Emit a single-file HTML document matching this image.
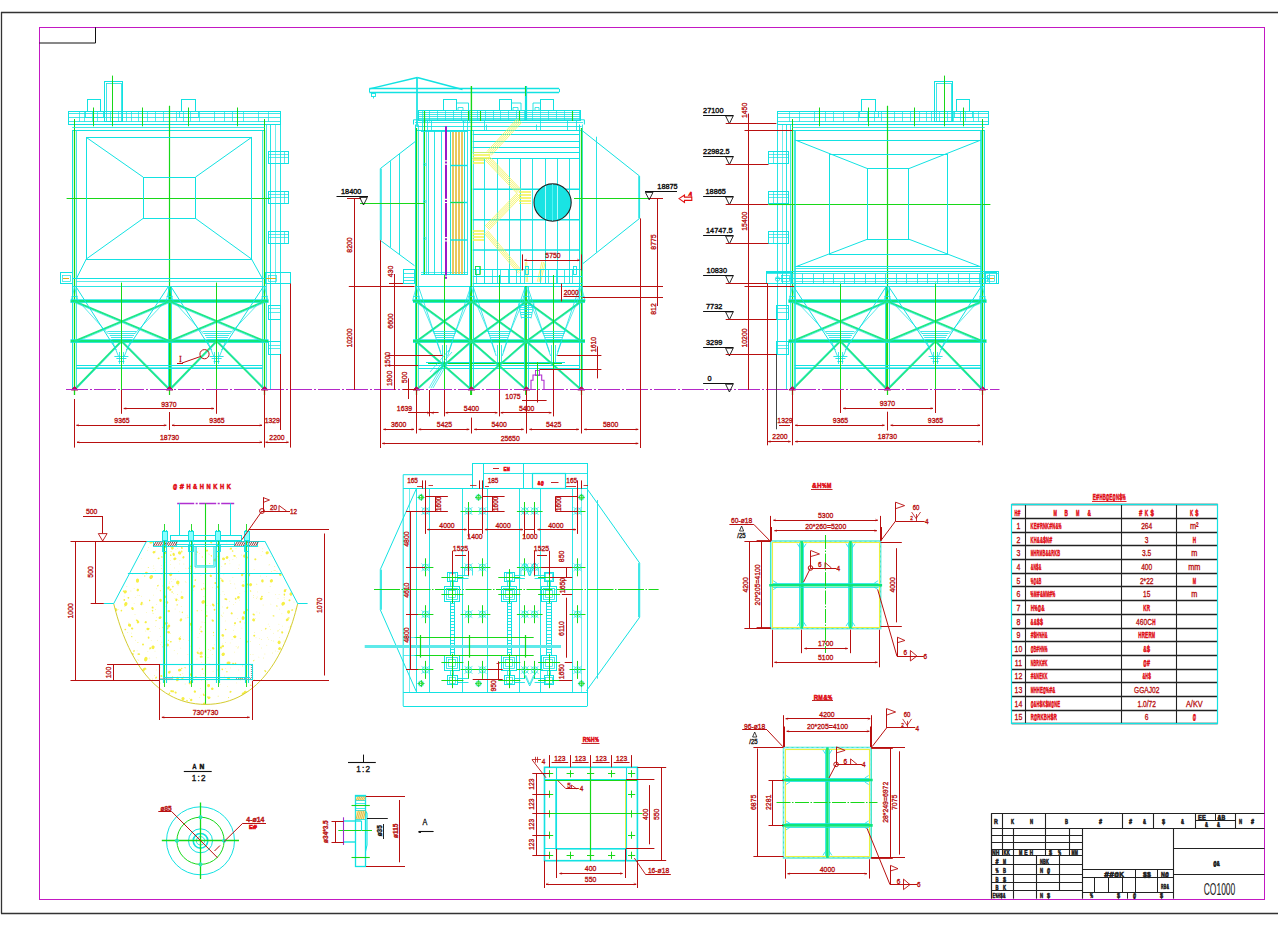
<!DOCTYPE html><html><head><meta charset="utf-8"><title>CO1000</title><style>html,body{margin:0;padding:0;background:#fff;overflow:hidden}svg{display:block;font-family:"Liberation Sans",sans-serif}</style></head><body><svg width="1278" height="933" viewBox="0 0 1278 933"><rect width="1278" height="933" fill="#fff"/>
<line x1="1.0" y1="12.5" x2="1278.0" y2="12.5" stroke="#333" stroke-width="1.3" />
<line x1="1.5" y1="12.0" x2="1.5" y2="913.5" stroke="#333" stroke-width="1.3" />
<line x1="1.0" y1="913.5" x2="1278.0" y2="913.5" stroke="#333" stroke-width="1.3" />
<rect x="39.5" y="27.5" width="1225.0" height="872.0" stroke="#c318c3" stroke-width="1" fill="none" />
<path d="M39.3 43.0 L95.5 43.0 L95.5 27.3" stroke="#111" stroke-width="1" fill="none" />
<rect x="68.5" y="111.5" width="212.0" height="13.0" stroke="#12e2e2" stroke-width="1" fill="none" />
<line x1="68.5" y1="113.5" x2="280.0" y2="113.5" stroke="#12e2e2" stroke-width="0.8" />
<line x1="68.5" y1="117.5" x2="280.0" y2="117.5" stroke="#12e2e2" stroke-width="0.8" />
<line x1="68.5" y1="121.5" x2="280.0" y2="121.5" stroke="#12e2e2" stroke-width="0.8" />
<line x1="79.5" y1="111.7" x2="79.5" y2="121.6" stroke="#12e2e2" stroke-width="0.7" />
<line x1="84.5" y1="111.7" x2="84.5" y2="121.6" stroke="#12e2e2" stroke-width="0.7" />
<line x1="92.5" y1="111.7" x2="92.5" y2="121.6" stroke="#12e2e2" stroke-width="0.7" />
<line x1="97.5" y1="111.7" x2="97.5" y2="121.6" stroke="#12e2e2" stroke-width="0.7" />
<line x1="104.5" y1="111.7" x2="104.5" y2="121.6" stroke="#12e2e2" stroke-width="0.7" />
<line x1="110.5" y1="111.7" x2="110.5" y2="121.6" stroke="#12e2e2" stroke-width="0.7" />
<line x1="118.5" y1="111.7" x2="118.5" y2="121.6" stroke="#12e2e2" stroke-width="0.7" />
<line x1="126.5" y1="111.7" x2="126.5" y2="121.6" stroke="#12e2e2" stroke-width="0.7" />
<line x1="131.5" y1="111.7" x2="131.5" y2="121.6" stroke="#12e2e2" stroke-width="0.7" />
<line x1="138.5" y1="111.7" x2="138.5" y2="121.6" stroke="#12e2e2" stroke-width="0.7" />
<line x1="147.5" y1="111.7" x2="147.5" y2="121.6" stroke="#12e2e2" stroke-width="0.7" />
<line x1="155.5" y1="111.7" x2="155.5" y2="121.6" stroke="#12e2e2" stroke-width="0.7" />
<line x1="163.5" y1="111.7" x2="163.5" y2="121.6" stroke="#12e2e2" stroke-width="0.7" />
<line x1="176.5" y1="111.7" x2="176.5" y2="121.6" stroke="#12e2e2" stroke-width="0.7" />
<line x1="183.5" y1="111.7" x2="183.5" y2="121.6" stroke="#12e2e2" stroke-width="0.7" />
<line x1="190.5" y1="111.7" x2="190.5" y2="121.6" stroke="#12e2e2" stroke-width="0.7" />
<line x1="199.5" y1="111.7" x2="199.5" y2="121.6" stroke="#12e2e2" stroke-width="0.7" />
<line x1="214.5" y1="111.7" x2="214.5" y2="121.6" stroke="#12e2e2" stroke-width="0.7" />
<line x1="224.5" y1="111.7" x2="224.5" y2="121.6" stroke="#12e2e2" stroke-width="0.7" />
<line x1="232.5" y1="111.7" x2="232.5" y2="121.6" stroke="#12e2e2" stroke-width="0.7" />
<line x1="243.5" y1="111.7" x2="243.5" y2="121.6" stroke="#12e2e2" stroke-width="0.7" />
<line x1="258.5" y1="111.7" x2="258.5" y2="121.6" stroke="#12e2e2" stroke-width="0.7" />
<line x1="268.5" y1="111.7" x2="268.5" y2="121.6" stroke="#12e2e2" stroke-width="0.7" />
<rect x="87.5" y="99.5" width="13.0" height="12.0" stroke="#12e2e2" stroke-width="1" fill="none" />
<rect x="181.5" y="99.5" width="14.0" height="12.0" stroke="#12e2e2" stroke-width="1" fill="none" />
<rect x="85.5" y="111.5" width="18.0" height="6.0" stroke="#12e2e2" stroke-width="0.8" fill="none" />
<rect x="179.5" y="111.5" width="19.0" height="6.0" stroke="#12e2e2" stroke-width="0.8" fill="none" />
<rect x="104.5" y="81.5" width="18.0" height="40.0" stroke="#12e2e2" stroke-width="1" fill="none" />
<rect x="106.5" y="83.5" width="15.0" height="38.0" stroke="#12e2e2" stroke-width="0.8" fill="none" />
<line x1="112.5" y1="75.6" x2="112.5" y2="126.3" stroke="#18d818" stroke-width="1" />
<line x1="93.5" y1="107.5" x2="93.5" y2="126.3" stroke="#18d818" stroke-width="1" />
<line x1="142.5" y1="107.5" x2="142.5" y2="126.3" stroke="#18d818" stroke-width="1" />
<line x1="188.5" y1="107.5" x2="188.5" y2="126.3" stroke="#18d818" stroke-width="1" />
<line x1="237.5" y1="107.5" x2="237.5" y2="126.3" stroke="#18d818" stroke-width="1" />
<line x1="74.5" y1="119.0" x2="74.5" y2="130.0" stroke="#18d818" stroke-width="1" />
<line x1="264.5" y1="119.0" x2="264.5" y2="130.0" stroke="#18d818" stroke-width="1" />
<line x1="72.2" y1="130.5" x2="264.7" y2="130.5" stroke="#12e2e2" stroke-width="1" />
<line x1="72.2" y1="127.5" x2="264.7" y2="127.5" stroke="#12e2e2" stroke-width="0.8" />
<line x1="72.5" y1="130.1" x2="72.5" y2="390.0" stroke="#12e2e2" stroke-width="1" />
<line x1="76.5" y1="130.1" x2="76.5" y2="390.0" stroke="#12e2e2" stroke-width="0.8" />
<line x1="262.5" y1="130.1" x2="262.5" y2="390.0" stroke="#12e2e2" stroke-width="0.8" />
<line x1="266.5" y1="124.5" x2="266.5" y2="390.0" stroke="#12e2e2" stroke-width="0.8" />
<line x1="74.5" y1="130.0" x2="74.5" y2="395.0" stroke="#18d818" stroke-width="1.3" />
<line x1="264.5" y1="130.0" x2="264.5" y2="395.0" stroke="#18d818" stroke-width="1.3" />
<line x1="169.5" y1="105.7" x2="169.5" y2="395.0" stroke="#18d818" stroke-width="1.2" />
<line x1="170.0" y1="286.9" x2="170.0" y2="390.0" stroke="#18d818" stroke-width="1.8" />
<line x1="168.5" y1="286.9" x2="168.5" y2="390.0" stroke="#12e2e2" stroke-width="0.9" />
<line x1="171.5" y1="286.9" x2="171.5" y2="390.0" stroke="#12e2e2" stroke-width="0.9" />
<line x1="270.5" y1="124.5" x2="270.5" y2="390.0" stroke="#12e2e2" stroke-width="0.9" />
<line x1="280.5" y1="124.5" x2="280.5" y2="354.0" stroke="#12e2e2" stroke-width="0.9" />
<line x1="275.5" y1="124.5" x2="275.5" y2="283.0" stroke="#12e2e2" stroke-width="0.6" />
<rect x="268.5" y="151.5" width="20.0" height="12.0" stroke="#12e2e2" stroke-width="1" fill="none" />
<line x1="268.5" y1="154.5" x2="288.5" y2="154.5" stroke="#12e2e2" stroke-width="0.7" />
<line x1="268.5" y1="157.5" x2="288.5" y2="157.5" stroke="#12e2e2" stroke-width="0.7" />
<line x1="284.5" y1="151.7" x2="284.5" y2="163.9" stroke="#12e2e2" stroke-width="0.7" />
<rect x="268.5" y="191.5" width="20.0" height="12.0" stroke="#12e2e2" stroke-width="1" fill="none" />
<line x1="268.5" y1="194.5" x2="288.5" y2="194.5" stroke="#12e2e2" stroke-width="0.7" />
<line x1="268.5" y1="197.5" x2="288.5" y2="197.5" stroke="#12e2e2" stroke-width="0.7" />
<line x1="284.5" y1="191.0" x2="284.5" y2="203.3" stroke="#12e2e2" stroke-width="0.7" />
<rect x="268.5" y="231.5" width="20.0" height="12.0" stroke="#12e2e2" stroke-width="1" fill="none" />
<line x1="268.5" y1="234.5" x2="288.5" y2="234.5" stroke="#12e2e2" stroke-width="0.7" />
<line x1="268.5" y1="237.5" x2="288.5" y2="237.5" stroke="#12e2e2" stroke-width="0.7" />
<line x1="284.5" y1="231.0" x2="284.5" y2="243.2" stroke="#12e2e2" stroke-width="0.7" />
<rect x="268.5" y="305.5" width="12.0" height="14.0" stroke="#12e2e2" stroke-width="1" fill="none" />
<line x1="268.5" y1="308.5" x2="280.5" y2="308.5" stroke="#12e2e2" stroke-width="0.7" />
<line x1="268.5" y1="312.5" x2="280.5" y2="312.5" stroke="#12e2e2" stroke-width="0.7" />
<rect x="268.5" y="341.5" width="12.0" height="13.0" stroke="#12e2e2" stroke-width="1" fill="none" />
<line x1="268.5" y1="345.5" x2="280.5" y2="345.5" stroke="#12e2e2" stroke-width="0.7" />
<line x1="268.5" y1="348.5" x2="280.5" y2="348.5" stroke="#12e2e2" stroke-width="0.7" />
<rect x="60.5" y="272.5" width="12.0" height="11.0" stroke="#12e2e2" stroke-width="1" fill="none" />
<rect x="62.5" y="275.5" width="8.0" height="6.0" stroke="#12e2e2" stroke-width="0.7" fill="none" />
<line x1="63.0" y1="278.5" x2="69.0" y2="278.5" stroke="#e0a000" stroke-width="0.9" />
<rect x="265.5" y="272.5" width="25.0" height="11.0" stroke="#12e2e2" stroke-width="1" fill="none" />
<rect x="268.5" y="275.5" width="8.0" height="6.0" stroke="#12e2e2" stroke-width="0.7" fill="none" />
<line x1="264.0" y1="278.5" x2="276.0" y2="278.5" stroke="#e0a000" stroke-width="0.9" />
<line x1="66.6" y1="198.5" x2="270.3" y2="198.5" stroke="#18d818" stroke-width="1.2" />
<line x1="72.2" y1="278.5" x2="266.0" y2="278.5" stroke="#12e2e2" stroke-width="1" />
<line x1="72.2" y1="286.5" x2="266.0" y2="286.5" stroke="#12e2e2" stroke-width="0.9" />
<line x1="76.0" y1="281.5" x2="262.0" y2="281.5" stroke="#12e2e2" stroke-width="0.7" />
<line x1="70.5" y1="301.3" x2="268.5" y2="301.3" stroke="#0de67a" stroke-width="2.6" />
<line x1="70.5" y1="299.5" x2="268.5" y2="299.5" stroke="#12e2e2" stroke-width="0.7" />
<line x1="70.5" y1="302.5" x2="268.5" y2="302.5" stroke="#12e2e2" stroke-width="0.7" />
<line x1="70.5" y1="341.2" x2="268.5" y2="341.2" stroke="#0de67a" stroke-width="2.6" />
<line x1="70.5" y1="339.5" x2="268.5" y2="339.5" stroke="#12e2e2" stroke-width="0.7" />
<line x1="70.5" y1="342.5" x2="268.5" y2="342.5" stroke="#12e2e2" stroke-width="0.7" />
<line x1="76.0" y1="365.5" x2="262.5" y2="365.5" stroke="#12e2e2" stroke-width="1" />
<line x1="76.0" y1="368.5" x2="262.5" y2="368.5" stroke="#12e2e2" stroke-width="1" />
<line x1="76.0" y1="367.5" x2="262.5" y2="367.5" stroke="#12e2e2" stroke-width="0.6" />
<line x1="74.6" y1="301.3" x2="169.6" y2="341.2" stroke="#1fe884" stroke-width="1.8" />
<line x1="74.6" y1="302.6" x2="169.6" y2="342.5" stroke="#12e2e2" stroke-width="0.6" />
<line x1="74.6" y1="341.2" x2="169.6" y2="301.3" stroke="#1fe884" stroke-width="1.8" />
<line x1="74.6" y1="342.5" x2="169.6" y2="302.6" stroke="#12e2e2" stroke-width="0.6" />
<line x1="169.6" y1="301.3" x2="264.7" y2="341.2" stroke="#1fe884" stroke-width="1.8" />
<line x1="169.6" y1="302.6" x2="264.7" y2="342.5" stroke="#12e2e2" stroke-width="0.6" />
<line x1="169.6" y1="341.2" x2="264.7" y2="301.3" stroke="#1fe884" stroke-width="1.8" />
<line x1="169.6" y1="342.5" x2="264.7" y2="302.6" stroke="#12e2e2" stroke-width="0.6" />
<line x1="121.4" y1="341.2" x2="74.6" y2="389.5" stroke="#1fe884" stroke-width="1.8" />
<line x1="122.7" y1="341.2" x2="75.9" y2="389.5" stroke="#12e2e2" stroke-width="0.6" />
<line x1="121.4" y1="341.2" x2="169.4" y2="389.5" stroke="#1fe884" stroke-width="1.8" />
<line x1="122.7" y1="341.2" x2="170.7" y2="389.5" stroke="#12e2e2" stroke-width="0.6" />
<line x1="216.6" y1="341.2" x2="169.8" y2="389.5" stroke="#1fe884" stroke-width="1.8" />
<line x1="217.9" y1="341.2" x2="171.1" y2="389.5" stroke="#12e2e2" stroke-width="0.6" />
<line x1="216.6" y1="341.2" x2="264.6" y2="389.5" stroke="#1fe884" stroke-width="1.8" />
<line x1="217.9" y1="341.2" x2="265.9" y2="389.5" stroke="#12e2e2" stroke-width="0.6" />
<line x1="76.1" y1="286.9" x2="116.4" y2="350.0" stroke="#12e2e2" stroke-width="1" />
<line x1="168.1" y1="286.9" x2="126.4" y2="350.0" stroke="#12e2e2" stroke-width="1" />
<line x1="78.6" y1="301.3" x2="108.4" y2="334.0" stroke="#12e2e2" stroke-width="0.7" />
<line x1="165.6" y1="301.3" x2="134.4" y2="334.0" stroke="#12e2e2" stroke-width="0.7" />
<line x1="107.4" y1="331.5" x2="136.4" y2="331.5" stroke="#12e2e2" stroke-width="0.8" />
<line x1="108.6" y1="333.5" x2="135.2" y2="333.5" stroke="#12e2e2" stroke-width="0.8" />
<line x1="109.8" y1="335.5" x2="134.0" y2="335.5" stroke="#12e2e2" stroke-width="0.8" />
<line x1="111.0" y1="337.5" x2="132.8" y2="337.5" stroke="#12e2e2" stroke-width="0.8" />
<line x1="112.2" y1="339.5" x2="131.6" y2="339.5" stroke="#12e2e2" stroke-width="0.8" />
<line x1="112.4" y1="341.2" x2="118.4" y2="356.0" stroke="#12e2e2" stroke-width="0.8" />
<line x1="130.4" y1="341.2" x2="124.4" y2="356.0" stroke="#12e2e2" stroke-width="0.8" />
<line x1="114.4" y1="356.5" x2="128.4" y2="356.5" stroke="#12e2e2" stroke-width="0.9" />
<line x1="116.4" y1="358.5" x2="126.4" y2="358.5" stroke="#12e2e2" stroke-width="0.9" />
<line x1="118.4" y1="361.5" x2="124.4" y2="361.5" stroke="#12e2e2" stroke-width="0.9" />
<line x1="119.5" y1="352.0" x2="119.5" y2="364.0" stroke="#12e2e2" stroke-width="0.8" />
<line x1="123.5" y1="352.0" x2="123.5" y2="364.0" stroke="#12e2e2" stroke-width="0.8" />
<line x1="171.1" y1="286.9" x2="211.6" y2="350.0" stroke="#12e2e2" stroke-width="1" />
<line x1="263.2" y1="286.9" x2="221.6" y2="350.0" stroke="#12e2e2" stroke-width="1" />
<line x1="173.6" y1="301.3" x2="203.6" y2="334.0" stroke="#12e2e2" stroke-width="0.7" />
<line x1="260.7" y1="301.3" x2="229.6" y2="334.0" stroke="#12e2e2" stroke-width="0.7" />
<line x1="202.6" y1="331.5" x2="231.6" y2="331.5" stroke="#12e2e2" stroke-width="0.8" />
<line x1="203.8" y1="333.5" x2="230.4" y2="333.5" stroke="#12e2e2" stroke-width="0.8" />
<line x1="205.0" y1="335.5" x2="229.2" y2="335.5" stroke="#12e2e2" stroke-width="0.8" />
<line x1="206.2" y1="337.5" x2="228.0" y2="337.5" stroke="#12e2e2" stroke-width="0.8" />
<line x1="207.4" y1="339.5" x2="226.8" y2="339.5" stroke="#12e2e2" stroke-width="0.8" />
<line x1="207.6" y1="341.2" x2="213.6" y2="356.0" stroke="#12e2e2" stroke-width="0.8" />
<line x1="225.6" y1="341.2" x2="219.6" y2="356.0" stroke="#12e2e2" stroke-width="0.8" />
<line x1="209.6" y1="356.5" x2="223.6" y2="356.5" stroke="#12e2e2" stroke-width="0.9" />
<line x1="211.6" y1="358.5" x2="221.6" y2="358.5" stroke="#12e2e2" stroke-width="0.9" />
<line x1="213.6" y1="361.5" x2="219.6" y2="361.5" stroke="#12e2e2" stroke-width="0.9" />
<line x1="214.5" y1="352.0" x2="214.5" y2="364.0" stroke="#12e2e2" stroke-width="0.8" />
<line x1="218.5" y1="352.0" x2="218.5" y2="364.0" stroke="#12e2e2" stroke-width="0.8" />
<line x1="74.6" y1="286.9" x2="71.1" y2="301.3" stroke="#12e2e2" stroke-width="0.7" />
<line x1="74.6" y1="286.9" x2="78.1" y2="301.3" stroke="#12e2e2" stroke-width="0.7" />
<line x1="71.6" y1="296.5" x2="77.6" y2="296.5" stroke="#12e2e2" stroke-width="0.8" />
<line x1="169.6" y1="286.9" x2="166.1" y2="301.3" stroke="#12e2e2" stroke-width="0.7" />
<line x1="169.6" y1="286.9" x2="173.1" y2="301.3" stroke="#12e2e2" stroke-width="0.7" />
<line x1="166.6" y1="296.5" x2="172.6" y2="296.5" stroke="#12e2e2" stroke-width="0.8" />
<line x1="264.7" y1="286.9" x2="261.2" y2="301.3" stroke="#12e2e2" stroke-width="0.7" />
<line x1="264.7" y1="286.9" x2="268.2" y2="301.3" stroke="#12e2e2" stroke-width="0.7" />
<line x1="261.7" y1="296.5" x2="267.7" y2="296.5" stroke="#12e2e2" stroke-width="0.8" />
<line x1="121.5" y1="282.6" x2="121.5" y2="390.0" stroke="#18d818" stroke-width="1" />
<line x1="216.5" y1="282.6" x2="216.5" y2="390.0" stroke="#18d818" stroke-width="1" />
<path d="M71.2 390.0 L74.6 386.6 L78.0 390.0 Z" stroke="#b0105a" stroke-width="1" fill="#c01060" />
<path d="M166.2 390.0 L169.6 386.6 L173.0 390.0 Z" stroke="#b0105a" stroke-width="1" fill="#c01060" />
<path d="M261.3 390.0 L264.7 386.6 L268.1 390.0 Z" stroke="#b0105a" stroke-width="1" fill="#c01060" />
<rect x="86.5" y="137.5" width="165.0" height="122.0" stroke="#12e2e2" stroke-width="1" fill="none" />
<rect x="143.5" y="177.5" width="52.0" height="41.0" stroke="#12e2e2" stroke-width="1" fill="none" />
<line x1="86.3" y1="137.4" x2="143.0" y2="177.0" stroke="#12e2e2" stroke-width="1" />
<line x1="251.5" y1="137.4" x2="195.6" y2="177.0" stroke="#12e2e2" stroke-width="1" />
<line x1="86.3" y1="259.0" x2="143.0" y2="218.5" stroke="#12e2e2" stroke-width="1" />
<line x1="251.5" y1="259.0" x2="195.6" y2="218.5" stroke="#12e2e2" stroke-width="1" />
<line x1="86.3" y1="259.0" x2="76.3" y2="278.8" stroke="#12e2e2" stroke-width="1" />
<line x1="251.5" y1="259.0" x2="262.5" y2="278.8" stroke="#12e2e2" stroke-width="1" />
<circle cx="204.5" cy="354.2" r="4.6" stroke="#b80f0f" stroke-width="1" fill="none"/>
<line x1="200.5" y1="356.5" x2="182.0" y2="363.0" stroke="#b80f0f" stroke-width="1" />
<line x1="177.0" y1="363.5" x2="183.0" y2="363.5" stroke="#b80f0f" stroke-width="1" />
<text transform="translate(180.5 361.5) rotate(0) scale(0.8 1)" fill="#b80f0f" stroke="#b80f0f" stroke-width="0.34" font-size="9" text-anchor="middle" font-family="Liberation Serif">I</text>
<rect x="777.5" y="111.5" width="211.0" height="13.0" stroke="#12e2e2" stroke-width="1" fill="none" />
<line x1="988.5" y1="113.5" x2="777.0" y2="113.5" stroke="#12e2e2" stroke-width="0.8" />
<line x1="988.5" y1="117.5" x2="777.0" y2="117.5" stroke="#12e2e2" stroke-width="0.8" />
<line x1="988.5" y1="121.5" x2="777.0" y2="121.5" stroke="#12e2e2" stroke-width="0.8" />
<line x1="978.5" y1="111.7" x2="978.5" y2="121.6" stroke="#12e2e2" stroke-width="0.7" />
<line x1="973.5" y1="111.7" x2="973.5" y2="121.6" stroke="#12e2e2" stroke-width="0.7" />
<line x1="965.5" y1="111.7" x2="965.5" y2="121.6" stroke="#12e2e2" stroke-width="0.7" />
<line x1="960.5" y1="111.7" x2="960.5" y2="121.6" stroke="#12e2e2" stroke-width="0.7" />
<line x1="953.5" y1="111.7" x2="953.5" y2="121.6" stroke="#12e2e2" stroke-width="0.7" />
<line x1="947.5" y1="111.7" x2="947.5" y2="121.6" stroke="#12e2e2" stroke-width="0.7" />
<line x1="939.5" y1="111.7" x2="939.5" y2="121.6" stroke="#12e2e2" stroke-width="0.7" />
<line x1="931.5" y1="111.7" x2="931.5" y2="121.6" stroke="#12e2e2" stroke-width="0.7" />
<line x1="926.5" y1="111.7" x2="926.5" y2="121.6" stroke="#12e2e2" stroke-width="0.7" />
<line x1="919.5" y1="111.7" x2="919.5" y2="121.6" stroke="#12e2e2" stroke-width="0.7" />
<line x1="910.5" y1="111.7" x2="910.5" y2="121.6" stroke="#12e2e2" stroke-width="0.7" />
<line x1="902.5" y1="111.7" x2="902.5" y2="121.6" stroke="#12e2e2" stroke-width="0.7" />
<line x1="894.5" y1="111.7" x2="894.5" y2="121.6" stroke="#12e2e2" stroke-width="0.7" />
<line x1="881.5" y1="111.7" x2="881.5" y2="121.6" stroke="#12e2e2" stroke-width="0.7" />
<line x1="874.5" y1="111.7" x2="874.5" y2="121.6" stroke="#12e2e2" stroke-width="0.7" />
<line x1="867.5" y1="111.7" x2="867.5" y2="121.6" stroke="#12e2e2" stroke-width="0.7" />
<line x1="858.5" y1="111.7" x2="858.5" y2="121.6" stroke="#12e2e2" stroke-width="0.7" />
<line x1="843.5" y1="111.7" x2="843.5" y2="121.6" stroke="#12e2e2" stroke-width="0.7" />
<line x1="833.5" y1="111.7" x2="833.5" y2="121.6" stroke="#12e2e2" stroke-width="0.7" />
<line x1="825.5" y1="111.7" x2="825.5" y2="121.6" stroke="#12e2e2" stroke-width="0.7" />
<line x1="814.5" y1="111.7" x2="814.5" y2="121.6" stroke="#12e2e2" stroke-width="0.7" />
<line x1="799.5" y1="111.7" x2="799.5" y2="121.6" stroke="#12e2e2" stroke-width="0.7" />
<line x1="789.5" y1="111.7" x2="789.5" y2="121.6" stroke="#12e2e2" stroke-width="0.7" />
<rect x="956.5" y="99.5" width="13.0" height="12.0" stroke="#12e2e2" stroke-width="1" fill="none" />
<rect x="861.5" y="99.5" width="14.0" height="12.0" stroke="#12e2e2" stroke-width="1" fill="none" />
<rect x="954.5" y="111.5" width="18.0" height="6.0" stroke="#12e2e2" stroke-width="0.8" fill="none" />
<rect x="859.5" y="111.5" width="19.0" height="6.0" stroke="#12e2e2" stroke-width="0.8" fill="none" />
<rect x="934.5" y="81.5" width="18.0" height="40.0" stroke="#12e2e2" stroke-width="1" fill="none" />
<rect x="936.5" y="83.5" width="15.0" height="38.0" stroke="#12e2e2" stroke-width="0.8" fill="none" />
<line x1="944.5" y1="75.6" x2="944.5" y2="126.3" stroke="#18d818" stroke-width="1" />
<line x1="963.5" y1="107.5" x2="963.5" y2="126.3" stroke="#18d818" stroke-width="1" />
<line x1="914.5" y1="107.5" x2="914.5" y2="126.3" stroke="#18d818" stroke-width="1" />
<line x1="868.5" y1="107.5" x2="868.5" y2="126.3" stroke="#18d818" stroke-width="1" />
<line x1="819.5" y1="107.5" x2="819.5" y2="126.3" stroke="#18d818" stroke-width="1" />
<line x1="982.5" y1="119.0" x2="982.5" y2="130.0" stroke="#18d818" stroke-width="1" />
<line x1="792.5" y1="119.0" x2="792.5" y2="130.0" stroke="#18d818" stroke-width="1" />
<line x1="984.8" y1="130.5" x2="792.3" y2="130.5" stroke="#12e2e2" stroke-width="1" />
<line x1="984.8" y1="127.5" x2="792.3" y2="127.5" stroke="#12e2e2" stroke-width="0.8" />
<line x1="984.5" y1="130.1" x2="984.5" y2="390.0" stroke="#12e2e2" stroke-width="1" />
<line x1="980.5" y1="130.1" x2="980.5" y2="390.0" stroke="#12e2e2" stroke-width="0.8" />
<line x1="794.5" y1="130.1" x2="794.5" y2="390.0" stroke="#12e2e2" stroke-width="0.8" />
<line x1="790.5" y1="124.5" x2="790.5" y2="390.0" stroke="#12e2e2" stroke-width="0.8" />
<line x1="982.5" y1="130.0" x2="982.5" y2="395.0" stroke="#18d818" stroke-width="1.3" />
<line x1="792.5" y1="130.0" x2="792.5" y2="395.0" stroke="#18d818" stroke-width="1.3" />
<line x1="887.5" y1="105.7" x2="887.5" y2="395.0" stroke="#18d818" stroke-width="1.2" />
<line x1="887.0" y1="286.9" x2="887.0" y2="390.0" stroke="#18d818" stroke-width="1.8" />
<line x1="889.5" y1="286.9" x2="889.5" y2="390.0" stroke="#12e2e2" stroke-width="0.9" />
<line x1="885.5" y1="286.9" x2="885.5" y2="390.0" stroke="#12e2e2" stroke-width="0.9" />
<line x1="786.5" y1="124.5" x2="786.5" y2="390.0" stroke="#12e2e2" stroke-width="0.9" />
<line x1="777.5" y1="124.5" x2="777.5" y2="354.0" stroke="#12e2e2" stroke-width="0.9" />
<line x1="782.5" y1="124.5" x2="782.5" y2="283.0" stroke="#12e2e2" stroke-width="0.6" />
<rect x="768.5" y="151.5" width="20.0" height="12.0" stroke="#12e2e2" stroke-width="1" fill="none" />
<line x1="788.5" y1="154.5" x2="768.5" y2="154.5" stroke="#12e2e2" stroke-width="0.7" />
<line x1="788.5" y1="157.5" x2="768.5" y2="157.5" stroke="#12e2e2" stroke-width="0.7" />
<line x1="773.5" y1="151.7" x2="773.5" y2="163.9" stroke="#12e2e2" stroke-width="0.7" />
<rect x="768.5" y="191.5" width="20.0" height="12.0" stroke="#12e2e2" stroke-width="1" fill="none" />
<line x1="788.5" y1="194.5" x2="768.5" y2="194.5" stroke="#12e2e2" stroke-width="0.7" />
<line x1="788.5" y1="197.5" x2="768.5" y2="197.5" stroke="#12e2e2" stroke-width="0.7" />
<line x1="773.5" y1="191.0" x2="773.5" y2="203.3" stroke="#12e2e2" stroke-width="0.7" />
<rect x="768.5" y="231.5" width="20.0" height="12.0" stroke="#12e2e2" stroke-width="1" fill="none" />
<line x1="788.5" y1="234.5" x2="768.5" y2="234.5" stroke="#12e2e2" stroke-width="0.7" />
<line x1="788.5" y1="237.5" x2="768.5" y2="237.5" stroke="#12e2e2" stroke-width="0.7" />
<line x1="773.5" y1="231.0" x2="773.5" y2="243.2" stroke="#12e2e2" stroke-width="0.7" />
<rect x="776.5" y="305.5" width="12.0" height="14.0" stroke="#12e2e2" stroke-width="1" fill="none" />
<line x1="788.5" y1="308.5" x2="776.5" y2="308.5" stroke="#12e2e2" stroke-width="0.7" />
<line x1="788.5" y1="312.5" x2="776.5" y2="312.5" stroke="#12e2e2" stroke-width="0.7" />
<rect x="776.5" y="341.5" width="12.0" height="13.0" stroke="#12e2e2" stroke-width="1" fill="none" />
<line x1="788.5" y1="345.5" x2="776.5" y2="345.5" stroke="#12e2e2" stroke-width="0.7" />
<line x1="788.5" y1="348.5" x2="776.5" y2="348.5" stroke="#12e2e2" stroke-width="0.7" />
<rect x="985.5" y="272.5" width="11.0" height="11.0" stroke="#12e2e2" stroke-width="1" fill="none" />
<rect x="987.5" y="275.5" width="7.0" height="6.0" stroke="#12e2e2" stroke-width="0.7" fill="none" />
<line x1="994.0" y1="278.5" x2="988.0" y2="278.5" stroke="#e0a000" stroke-width="0.9" />
<rect x="766.5" y="272.5" width="25.0" height="11.0" stroke="#12e2e2" stroke-width="1" fill="none" />
<rect x="781.5" y="275.5" width="8.0" height="6.0" stroke="#12e2e2" stroke-width="0.7" fill="none" />
<line x1="793.0" y1="278.5" x2="781.0" y2="278.5" stroke="#e0a000" stroke-width="0.9" />
<line x1="990.4" y1="204.5" x2="786.7" y2="204.5" stroke="#18d818" stroke-width="1.2" />
<line x1="984.8" y1="278.5" x2="791.0" y2="278.5" stroke="#12e2e2" stroke-width="1" />
<line x1="984.8" y1="286.5" x2="791.0" y2="286.5" stroke="#12e2e2" stroke-width="0.9" />
<line x1="981.0" y1="281.5" x2="795.0" y2="281.5" stroke="#12e2e2" stroke-width="0.7" />
<line x1="986.5" y1="301.3" x2="788.5" y2="301.3" stroke="#0de67a" stroke-width="2.6" />
<line x1="986.5" y1="299.5" x2="788.5" y2="299.5" stroke="#12e2e2" stroke-width="0.7" />
<line x1="986.5" y1="302.5" x2="788.5" y2="302.5" stroke="#12e2e2" stroke-width="0.7" />
<line x1="986.5" y1="341.2" x2="788.5" y2="341.2" stroke="#0de67a" stroke-width="2.6" />
<line x1="986.5" y1="339.5" x2="788.5" y2="339.5" stroke="#12e2e2" stroke-width="0.7" />
<line x1="986.5" y1="342.5" x2="788.5" y2="342.5" stroke="#12e2e2" stroke-width="0.7" />
<line x1="981.0" y1="365.5" x2="794.5" y2="365.5" stroke="#12e2e2" stroke-width="1" />
<line x1="981.0" y1="368.5" x2="794.5" y2="368.5" stroke="#12e2e2" stroke-width="1" />
<line x1="981.0" y1="367.5" x2="794.5" y2="367.5" stroke="#12e2e2" stroke-width="0.6" />
<line x1="982.4" y1="301.3" x2="887.4" y2="341.2" stroke="#1fe884" stroke-width="1.8" />
<line x1="982.4" y1="302.6" x2="887.4" y2="342.5" stroke="#12e2e2" stroke-width="0.6" />
<line x1="982.4" y1="341.2" x2="887.4" y2="301.3" stroke="#1fe884" stroke-width="1.8" />
<line x1="982.4" y1="342.5" x2="887.4" y2="302.6" stroke="#12e2e2" stroke-width="0.6" />
<line x1="887.4" y1="301.3" x2="792.3" y2="341.2" stroke="#1fe884" stroke-width="1.8" />
<line x1="887.4" y1="302.6" x2="792.3" y2="342.5" stroke="#12e2e2" stroke-width="0.6" />
<line x1="887.4" y1="341.2" x2="792.3" y2="301.3" stroke="#1fe884" stroke-width="1.8" />
<line x1="887.4" y1="342.5" x2="792.3" y2="302.6" stroke="#12e2e2" stroke-width="0.6" />
<line x1="935.6" y1="341.2" x2="982.4" y2="389.5" stroke="#1fe884" stroke-width="1.8" />
<line x1="934.3" y1="341.2" x2="981.1" y2="389.5" stroke="#12e2e2" stroke-width="0.6" />
<line x1="935.6" y1="341.2" x2="887.6" y2="389.5" stroke="#1fe884" stroke-width="1.8" />
<line x1="934.3" y1="341.2" x2="886.3" y2="389.5" stroke="#12e2e2" stroke-width="0.6" />
<line x1="840.4" y1="341.2" x2="887.2" y2="389.5" stroke="#1fe884" stroke-width="1.8" />
<line x1="839.1" y1="341.2" x2="885.9" y2="389.5" stroke="#12e2e2" stroke-width="0.6" />
<line x1="840.4" y1="341.2" x2="792.4" y2="389.5" stroke="#1fe884" stroke-width="1.8" />
<line x1="839.1" y1="341.2" x2="791.1" y2="389.5" stroke="#12e2e2" stroke-width="0.6" />
<line x1="980.9" y1="286.9" x2="940.6" y2="350.0" stroke="#12e2e2" stroke-width="1" />
<line x1="888.9" y1="286.9" x2="930.6" y2="350.0" stroke="#12e2e2" stroke-width="1" />
<line x1="978.4" y1="301.3" x2="948.6" y2="334.0" stroke="#12e2e2" stroke-width="0.7" />
<line x1="891.4" y1="301.3" x2="922.6" y2="334.0" stroke="#12e2e2" stroke-width="0.7" />
<line x1="949.6" y1="331.5" x2="920.6" y2="331.5" stroke="#12e2e2" stroke-width="0.8" />
<line x1="948.4" y1="333.5" x2="921.8" y2="333.5" stroke="#12e2e2" stroke-width="0.8" />
<line x1="947.2" y1="335.5" x2="923.0" y2="335.5" stroke="#12e2e2" stroke-width="0.8" />
<line x1="946.0" y1="337.5" x2="924.2" y2="337.5" stroke="#12e2e2" stroke-width="0.8" />
<line x1="944.8" y1="339.5" x2="925.4" y2="339.5" stroke="#12e2e2" stroke-width="0.8" />
<line x1="944.6" y1="341.2" x2="938.6" y2="356.0" stroke="#12e2e2" stroke-width="0.8" />
<line x1="926.6" y1="341.2" x2="932.6" y2="356.0" stroke="#12e2e2" stroke-width="0.8" />
<line x1="942.6" y1="356.5" x2="928.6" y2="356.5" stroke="#12e2e2" stroke-width="0.9" />
<line x1="940.6" y1="358.5" x2="930.6" y2="358.5" stroke="#12e2e2" stroke-width="0.9" />
<line x1="938.6" y1="361.5" x2="932.6" y2="361.5" stroke="#12e2e2" stroke-width="0.9" />
<line x1="937.5" y1="352.0" x2="937.5" y2="364.0" stroke="#12e2e2" stroke-width="0.8" />
<line x1="933.5" y1="352.0" x2="933.5" y2="364.0" stroke="#12e2e2" stroke-width="0.8" />
<line x1="885.9" y1="286.9" x2="845.4" y2="350.0" stroke="#12e2e2" stroke-width="1" />
<line x1="793.8" y1="286.9" x2="835.4" y2="350.0" stroke="#12e2e2" stroke-width="1" />
<line x1="883.4" y1="301.3" x2="853.4" y2="334.0" stroke="#12e2e2" stroke-width="0.7" />
<line x1="796.3" y1="301.3" x2="827.4" y2="334.0" stroke="#12e2e2" stroke-width="0.7" />
<line x1="854.4" y1="331.5" x2="825.4" y2="331.5" stroke="#12e2e2" stroke-width="0.8" />
<line x1="853.2" y1="333.5" x2="826.6" y2="333.5" stroke="#12e2e2" stroke-width="0.8" />
<line x1="852.0" y1="335.5" x2="827.8" y2="335.5" stroke="#12e2e2" stroke-width="0.8" />
<line x1="850.8" y1="337.5" x2="829.0" y2="337.5" stroke="#12e2e2" stroke-width="0.8" />
<line x1="849.6" y1="339.5" x2="830.2" y2="339.5" stroke="#12e2e2" stroke-width="0.8" />
<line x1="849.4" y1="341.2" x2="843.4" y2="356.0" stroke="#12e2e2" stroke-width="0.8" />
<line x1="831.4" y1="341.2" x2="837.4" y2="356.0" stroke="#12e2e2" stroke-width="0.8" />
<line x1="847.4" y1="356.5" x2="833.4" y2="356.5" stroke="#12e2e2" stroke-width="0.9" />
<line x1="845.4" y1="358.5" x2="835.4" y2="358.5" stroke="#12e2e2" stroke-width="0.9" />
<line x1="843.4" y1="361.5" x2="837.4" y2="361.5" stroke="#12e2e2" stroke-width="0.9" />
<line x1="842.5" y1="352.0" x2="842.5" y2="364.0" stroke="#12e2e2" stroke-width="0.8" />
<line x1="838.5" y1="352.0" x2="838.5" y2="364.0" stroke="#12e2e2" stroke-width="0.8" />
<line x1="982.4" y1="286.9" x2="985.9" y2="301.3" stroke="#12e2e2" stroke-width="0.7" />
<line x1="982.4" y1="286.9" x2="978.9" y2="301.3" stroke="#12e2e2" stroke-width="0.7" />
<line x1="985.4" y1="296.5" x2="979.4" y2="296.5" stroke="#12e2e2" stroke-width="0.8" />
<line x1="887.4" y1="286.9" x2="890.9" y2="301.3" stroke="#12e2e2" stroke-width="0.7" />
<line x1="887.4" y1="286.9" x2="883.9" y2="301.3" stroke="#12e2e2" stroke-width="0.7" />
<line x1="890.4" y1="296.5" x2="884.4" y2="296.5" stroke="#12e2e2" stroke-width="0.8" />
<line x1="792.3" y1="286.9" x2="795.8" y2="301.3" stroke="#12e2e2" stroke-width="0.7" />
<line x1="792.3" y1="286.9" x2="788.8" y2="301.3" stroke="#12e2e2" stroke-width="0.7" />
<line x1="795.3" y1="296.5" x2="789.3" y2="296.5" stroke="#12e2e2" stroke-width="0.8" />
<line x1="935.5" y1="282.6" x2="935.5" y2="390.0" stroke="#18d818" stroke-width="1" />
<line x1="840.5" y1="282.6" x2="840.5" y2="390.0" stroke="#18d818" stroke-width="1" />
<path d="M979.0 390.0 L982.4 386.6 L985.8 390.0 Z" stroke="#b0105a" stroke-width="1" fill="#c01060" />
<path d="M884.0 390.0 L887.4 386.6 L890.8 390.0 Z" stroke="#b0105a" stroke-width="1" fill="#c01060" />
<path d="M788.9 390.0 L792.3 386.6 L795.7 390.0 Z" stroke="#b0105a" stroke-width="1" fill="#c01060" />
<line x1="795.2" y1="140.5" x2="981.0" y2="140.5" stroke="#12e2e2" stroke-width="1" />
<line x1="795.5" y1="130.1" x2="795.5" y2="390.0" stroke="#12e2e2" stroke-width="0.8" />
<line x1="981.5" y1="130.1" x2="981.5" y2="390.0" stroke="#12e2e2" stroke-width="0.8" />
<rect x="829.5" y="154.5" width="118.0" height="100.0" stroke="#12e2e2" stroke-width="1" fill="none" />
<rect x="867.5" y="168.5" width="41.0" height="71.0" stroke="#12e2e2" stroke-width="1" fill="none" />
<line x1="795.2" y1="140.0" x2="867.5" y2="168.6" stroke="#12e2e2" stroke-width="1" />
<line x1="981.0" y1="140.0" x2="908.9" y2="168.6" stroke="#12e2e2" stroke-width="1" />
<line x1="867.5" y1="239.2" x2="796.1" y2="266.6" stroke="#12e2e2" stroke-width="1" />
<line x1="908.9" y1="239.2" x2="980.2" y2="266.6" stroke="#12e2e2" stroke-width="1" />
<line x1="795.2" y1="266.5" x2="981.0" y2="266.5" stroke="#12e2e2" stroke-width="1" />
<line x1="795.2" y1="268.5" x2="981.0" y2="268.5" stroke="#12e2e2" stroke-width="0.8" />
<rect x="766.5" y="271.5" width="232.0" height="12.0" stroke="#12e2e2" stroke-width="1" fill="none" />
<line x1="766.2" y1="273.5" x2="998.0" y2="273.5" stroke="#12e2e2" stroke-width="0.8" />
<line x1="776.0" y1="278.5" x2="990.0" y2="278.5" stroke="#12e2e2" stroke-width="1" />
<line x1="782.5" y1="273.6" x2="782.5" y2="283.2" stroke="#12e2e2" stroke-width="0.8" />
<line x1="792.5" y1="273.6" x2="792.5" y2="283.2" stroke="#12e2e2" stroke-width="0.8" />
<line x1="802.5" y1="273.6" x2="802.5" y2="283.2" stroke="#12e2e2" stroke-width="0.8" />
<line x1="813.5" y1="273.6" x2="813.5" y2="283.2" stroke="#12e2e2" stroke-width="0.8" />
<line x1="823.5" y1="273.6" x2="823.5" y2="283.2" stroke="#12e2e2" stroke-width="0.8" />
<line x1="833.5" y1="273.6" x2="833.5" y2="283.2" stroke="#12e2e2" stroke-width="0.8" />
<line x1="844.5" y1="273.6" x2="844.5" y2="283.2" stroke="#12e2e2" stroke-width="0.8" />
<line x1="854.5" y1="273.6" x2="854.5" y2="283.2" stroke="#12e2e2" stroke-width="0.8" />
<line x1="865.5" y1="273.6" x2="865.5" y2="283.2" stroke="#12e2e2" stroke-width="0.8" />
<line x1="875.5" y1="273.6" x2="875.5" y2="283.2" stroke="#12e2e2" stroke-width="0.8" />
<line x1="885.5" y1="273.6" x2="885.5" y2="283.2" stroke="#12e2e2" stroke-width="0.8" />
<line x1="896.5" y1="273.6" x2="896.5" y2="283.2" stroke="#12e2e2" stroke-width="0.8" />
<line x1="906.5" y1="273.6" x2="906.5" y2="283.2" stroke="#12e2e2" stroke-width="0.8" />
<line x1="917.5" y1="273.6" x2="917.5" y2="283.2" stroke="#12e2e2" stroke-width="0.8" />
<line x1="927.5" y1="273.6" x2="927.5" y2="283.2" stroke="#12e2e2" stroke-width="0.8" />
<line x1="937.5" y1="273.6" x2="937.5" y2="283.2" stroke="#12e2e2" stroke-width="0.8" />
<line x1="948.5" y1="273.6" x2="948.5" y2="283.2" stroke="#12e2e2" stroke-width="0.8" />
<line x1="958.5" y1="273.6" x2="958.5" y2="283.2" stroke="#12e2e2" stroke-width="0.8" />
<line x1="969.5" y1="273.6" x2="969.5" y2="283.2" stroke="#12e2e2" stroke-width="0.8" />
<line x1="979.5" y1="273.6" x2="979.5" y2="283.2" stroke="#12e2e2" stroke-width="0.8" />
<line x1="989.5" y1="273.6" x2="989.5" y2="283.2" stroke="#12e2e2" stroke-width="0.8" />
<circle cx="777.5" cy="279.0" r="2.2" stroke="#12e2e2" stroke-width="0.8" fill="none"/>
<circle cx="986.5" cy="279.0" r="2.2" stroke="#12e2e2" stroke-width="0.8" fill="none"/>
<line x1="369.4" y1="88.5" x2="559.0" y2="88.5" stroke="#12e2e2" stroke-width="1.3" />
<line x1="369.4" y1="92.5" x2="559.0" y2="92.5" stroke="#12e2e2" stroke-width="1.3" />
<line x1="369.5" y1="88.8" x2="369.5" y2="92.2" stroke="#12e2e2" stroke-width="1" />
<line x1="559.5" y1="88.8" x2="559.5" y2="92.2" stroke="#12e2e2" stroke-width="1" />
<line x1="417.0" y1="77.5" x2="417.0" y2="126.0" stroke="#12e2e2" stroke-width="1.7" />
<line x1="417.3" y1="77.5" x2="369.4" y2="88.8" stroke="#12e2e2" stroke-width="1.3" />
<line x1="417.3" y1="77.5" x2="462.5" y2="89.5" stroke="#12e2e2" stroke-width="1.5" />
<rect x="371.5" y="93.5" width="4.0" height="3.0" stroke="#12e2e2" stroke-width="0.9" fill="none" />
<line x1="373.5" y1="96.5" x2="373.5" y2="98.5" stroke="#12e2e2" stroke-width="0.9" />
<rect x="443.5" y="99.5" width="13.0" height="11.0" stroke="#12e2e2" stroke-width="1" fill="none" />
<rect x="499.5" y="99.5" width="12.0" height="11.0" stroke="#12e2e2" stroke-width="1" fill="none" />
<rect x="540.5" y="99.5" width="13.0" height="11.0" stroke="#12e2e2" stroke-width="1" fill="none" />
<path d="M456.7 103.0 L468.5 103.0 L468.5 110.4" stroke="#12e2e2" stroke-width="0.9" fill="none" />
<path d="M458.0 110.4 L458.0 107.5 L463.0 107.5 L463.0 110.4" stroke="#12e2e2" stroke-width="0.8" fill="none" />
<path d="M511.7 103.0 L521.0 103.0 L521.0 110.4" stroke="#12e2e2" stroke-width="0.9" fill="none" />
<path d="M513.0 110.4 L513.0 107.5 L518.0 107.5 L518.0 110.4" stroke="#12e2e2" stroke-width="0.8" fill="none" />
<path d="M540.8 103.0 L533.0 103.0 L533.0 110.4" stroke="#12e2e2" stroke-width="0.9" fill="none" />
<path d="M539.0 110.4 L539.0 107.5 L535.0 107.5 L535.0 110.4" stroke="#12e2e2" stroke-width="0.8" fill="none" />
<line x1="526.0" y1="86.0" x2="526.0" y2="120.0" stroke="#12e2e2" stroke-width="2.2" />
<line x1="525.5" y1="86.0" x2="525.5" y2="96.0" stroke="#18d818" stroke-width="0.9" />
<rect x="418.5" y="110.5" width="162.0" height="10.0" stroke="#12e2e2" stroke-width="1" fill="none" />
<line x1="418.6" y1="112.5" x2="580.7" y2="112.5" stroke="#12e2e2" stroke-width="0.8" />
<line x1="418.6" y1="114.5" x2="580.7" y2="114.5" stroke="#12e2e2" stroke-width="0.8" />
<line x1="418.6" y1="116.5" x2="580.7" y2="116.5" stroke="#12e2e2" stroke-width="0.8" />
<line x1="418.6" y1="118.5" x2="580.7" y2="118.5" stroke="#12e2e2" stroke-width="0.8" />
<line x1="422.5" y1="110.4" x2="422.5" y2="120.7" stroke="#12e2e2" stroke-width="0.7" />
<line x1="429.5" y1="110.4" x2="429.5" y2="120.7" stroke="#12e2e2" stroke-width="0.7" />
<line x1="437.5" y1="110.4" x2="437.5" y2="120.7" stroke="#12e2e2" stroke-width="0.7" />
<line x1="445.5" y1="110.4" x2="445.5" y2="120.7" stroke="#12e2e2" stroke-width="0.7" />
<line x1="453.5" y1="110.4" x2="453.5" y2="120.7" stroke="#12e2e2" stroke-width="0.7" />
<line x1="461.5" y1="110.4" x2="461.5" y2="120.7" stroke="#12e2e2" stroke-width="0.7" />
<line x1="469.5" y1="110.4" x2="469.5" y2="120.7" stroke="#12e2e2" stroke-width="0.7" />
<line x1="477.5" y1="110.4" x2="477.5" y2="120.7" stroke="#12e2e2" stroke-width="0.7" />
<line x1="485.5" y1="110.4" x2="485.5" y2="120.7" stroke="#12e2e2" stroke-width="0.7" />
<line x1="493.5" y1="110.4" x2="493.5" y2="120.7" stroke="#12e2e2" stroke-width="0.7" />
<line x1="500.5" y1="110.4" x2="500.5" y2="120.7" stroke="#12e2e2" stroke-width="0.7" />
<line x1="508.5" y1="110.4" x2="508.5" y2="120.7" stroke="#12e2e2" stroke-width="0.7" />
<line x1="516.5" y1="110.4" x2="516.5" y2="120.7" stroke="#12e2e2" stroke-width="0.7" />
<line x1="524.5" y1="110.4" x2="524.5" y2="120.7" stroke="#12e2e2" stroke-width="0.7" />
<line x1="532.5" y1="110.4" x2="532.5" y2="120.7" stroke="#12e2e2" stroke-width="0.7" />
<line x1="540.5" y1="110.4" x2="540.5" y2="120.7" stroke="#12e2e2" stroke-width="0.7" />
<line x1="548.5" y1="110.4" x2="548.5" y2="120.7" stroke="#12e2e2" stroke-width="0.7" />
<line x1="556.5" y1="110.4" x2="556.5" y2="120.7" stroke="#12e2e2" stroke-width="0.7" />
<line x1="564.5" y1="110.4" x2="564.5" y2="120.7" stroke="#12e2e2" stroke-width="0.7" />
<line x1="572.5" y1="110.4" x2="572.5" y2="120.7" stroke="#12e2e2" stroke-width="0.7" />
<line x1="579.5" y1="110.4" x2="579.5" y2="120.7" stroke="#12e2e2" stroke-width="0.7" />
<path d="M413.5 124.5 L413.5 119.8 L584.4 119.8 L584.4 124.5" stroke="#12e2e2" stroke-width="1" fill="none" />
<line x1="415.0" y1="122.5" x2="583.0" y2="122.5" stroke="#12e2e2" stroke-width="0.8" />
<line x1="416.3" y1="126.5" x2="581.6" y2="126.5" stroke="#12e2e2" stroke-width="0.9" />
<line x1="422.5" y1="120.7" x2="422.5" y2="130.0" stroke="#12e2e2" stroke-width="0.8" />
<line x1="427.5" y1="120.7" x2="427.5" y2="130.0" stroke="#12e2e2" stroke-width="0.8" />
<line x1="431.5" y1="120.7" x2="431.5" y2="130.0" stroke="#12e2e2" stroke-width="0.8" />
<line x1="463.5" y1="120.7" x2="463.5" y2="130.0" stroke="#12e2e2" stroke-width="0.8" />
<line x1="467.5" y1="120.7" x2="467.5" y2="130.0" stroke="#12e2e2" stroke-width="0.8" />
<line x1="471.5" y1="120.7" x2="471.5" y2="130.0" stroke="#12e2e2" stroke-width="0.8" />
<line x1="484.5" y1="120.7" x2="484.5" y2="130.0" stroke="#12e2e2" stroke-width="0.8" />
<line x1="540.5" y1="120.7" x2="540.5" y2="130.0" stroke="#12e2e2" stroke-width="0.8" />
<line x1="567.5" y1="120.7" x2="567.5" y2="130.0" stroke="#12e2e2" stroke-width="0.8" />
<line x1="576.5" y1="120.7" x2="576.5" y2="130.0" stroke="#12e2e2" stroke-width="0.8" />
<line x1="424.5" y1="111.0" x2="424.5" y2="121.0" stroke="#18d818" stroke-width="1.1" />
<line x1="468.5" y1="111.0" x2="468.5" y2="121.0" stroke="#18d818" stroke-width="1.1" />
<line x1="480.5" y1="111.0" x2="480.5" y2="121.0" stroke="#18d818" stroke-width="1.1" />
<line x1="519.5" y1="111.0" x2="519.5" y2="121.0" stroke="#18d818" stroke-width="1.1" />
<line x1="572.5" y1="111.0" x2="572.5" y2="121.0" stroke="#18d818" stroke-width="1.1" />
<circle cx="424.5" cy="121.5" r="1.1" stroke="#12e2e2" stroke-width="0.7" fill="none"/>
<circle cx="428.5" cy="121.5" r="1.1" stroke="#12e2e2" stroke-width="0.7" fill="none"/>
<circle cx="464.0" cy="121.5" r="1.1" stroke="#12e2e2" stroke-width="0.7" fill="none"/>
<circle cx="468.5" cy="121.5" r="1.1" stroke="#12e2e2" stroke-width="0.7" fill="none"/>
<line x1="415.4" y1="130.5" x2="580.7" y2="130.5" stroke="#12e2e2" stroke-width="1.2" />
<line x1="415.5" y1="124.5" x2="415.5" y2="390.0" stroke="#12e2e2" stroke-width="1" />
<line x1="418.5" y1="124.5" x2="418.5" y2="390.0" stroke="#12e2e2" stroke-width="0.8" />
<line x1="579.5" y1="124.5" x2="579.5" y2="390.0" stroke="#12e2e2" stroke-width="1" />
<line x1="582.5" y1="124.5" x2="582.5" y2="390.0" stroke="#12e2e2" stroke-width="0.8" />
<line x1="416.5" y1="128.0" x2="416.5" y2="395.0" stroke="#18d818" stroke-width="1.3" />
<line x1="581.5" y1="128.0" x2="581.5" y2="395.0" stroke="#18d818" stroke-width="1.3" />
<line x1="471.4" y1="86.0" x2="471.4" y2="395.0" stroke="#18d818" stroke-width="1.4" />
<line x1="424.5" y1="111.0" x2="424.5" y2="274.0" stroke="#18d818" stroke-width="1.1" />
<line x1="423.5" y1="130.0" x2="423.5" y2="274.0" stroke="#12e2e2" stroke-width="0.7" />
<line x1="426.5" y1="130.0" x2="426.5" y2="274.0" stroke="#12e2e2" stroke-width="0.7" />
<circle cx="424.8" cy="164.5" r="1.2" stroke="#12e2e2" stroke-width="0.7" fill="none"/>
<circle cx="424.8" cy="201.5" r="1.2" stroke="#12e2e2" stroke-width="0.7" fill="none"/>
<circle cx="424.8" cy="238.5" r="1.2" stroke="#12e2e2" stroke-width="0.7" fill="none"/>
<line x1="470.5" y1="130.0" x2="470.5" y2="390.0" stroke="#12e2e2" stroke-width="0.8" />
<line x1="473.5" y1="130.0" x2="473.5" y2="390.0" stroke="#12e2e2" stroke-width="0.8" />
<line x1="428.5" y1="130.0" x2="428.5" y2="274.0" stroke="#12e2e2" stroke-width="0.9" />
<line x1="434.5" y1="130.0" x2="434.5" y2="274.0" stroke="#12e2e2" stroke-width="0.9" />
<line x1="441.5" y1="130.0" x2="441.5" y2="274.0" stroke="#12e2e2" stroke-width="0.9" />
<line x1="467.5" y1="130.0" x2="467.5" y2="274.0" stroke="#12e2e2" stroke-width="0.9" />
<line x1="421.0" y1="131.5" x2="468.0" y2="131.5" stroke="#12e2e2" stroke-width="0.9" />
<line x1="421.0" y1="274.5" x2="468.0" y2="274.5" stroke="#12e2e2" stroke-width="1" />
<line x1="421.0" y1="272.5" x2="468.0" y2="272.5" stroke="#12e2e2" stroke-width="0.7" />
<line x1="446.0" y1="126.3" x2="446.0" y2="279.5" stroke="#9a18c8" stroke-width="2" stroke-dasharray="34 1.2 2 1.2"/>
<line x1="450.5" y1="132.0" x2="450.5" y2="274.0" stroke="#e6c34a" stroke-width="0.9" />
<line x1="452.5" y1="132.0" x2="452.5" y2="274.0" stroke="#e6c34a" stroke-width="0.9" />
<line x1="453.5" y1="132.0" x2="453.5" y2="274.0" stroke="#e6c34a" stroke-width="0.9" />
<line x1="455.5" y1="132.0" x2="455.5" y2="274.0" stroke="#e6c34a" stroke-width="0.9" />
<line x1="456.5" y1="132.0" x2="456.5" y2="274.0" stroke="#e6c34a" stroke-width="0.9" />
<line x1="458.5" y1="132.0" x2="458.5" y2="274.0" stroke="#e6c34a" stroke-width="0.9" />
<line x1="459.5" y1="132.0" x2="459.5" y2="274.0" stroke="#e6c34a" stroke-width="0.9" />
<line x1="461.5" y1="132.0" x2="461.5" y2="274.0" stroke="#e6c34a" stroke-width="0.9" />
<line x1="462.5" y1="132.0" x2="462.5" y2="274.0" stroke="#e6c34a" stroke-width="0.9" />
<line x1="464.5" y1="132.0" x2="464.5" y2="274.0" stroke="#e6c34a" stroke-width="0.9" />
<line x1="450.5" y1="132.0" x2="450.5" y2="274.0" stroke="#12e2e2" stroke-width="0.9" />
<line x1="464.5" y1="132.0" x2="464.5" y2="274.0" stroke="#12e2e2" stroke-width="0.9" />
<line x1="450.3" y1="165.5" x2="467.0" y2="165.5" stroke="#12e2e2" stroke-width="1.4" />
<line x1="450.3" y1="202.5" x2="467.0" y2="202.5" stroke="#12e2e2" stroke-width="1.4" />
<line x1="450.3" y1="240.0" x2="467.0" y2="240.0" stroke="#12e2e2" stroke-width="1.4" />
<line x1="450.3" y1="202.5" x2="464.0" y2="202.5" stroke="#18d818" stroke-width="0.7" />
<line x1="472.7" y1="134.5" x2="579.7" y2="134.5" stroke="#12e2e2" stroke-width="1" />
<line x1="472.7" y1="141.5" x2="579.7" y2="141.5" stroke="#12e2e2" stroke-width="1" />
<line x1="472.7" y1="147.5" x2="579.7" y2="147.5" stroke="#12e2e2" stroke-width="1" />
<line x1="472.7" y1="152.5" x2="579.7" y2="152.5" stroke="#12e2e2" stroke-width="1" />
<line x1="472.7" y1="158.5" x2="579.7" y2="158.5" stroke="#12e2e2" stroke-width="1" />
<line x1="484.5" y1="158.4" x2="484.5" y2="283.0" stroke="#12e2e2" stroke-width="0.9" />
<line x1="497.5" y1="158.4" x2="497.5" y2="283.0" stroke="#12e2e2" stroke-width="0.9" />
<line x1="509.5" y1="158.4" x2="509.5" y2="283.0" stroke="#12e2e2" stroke-width="0.9" />
<line x1="520.5" y1="158.4" x2="520.5" y2="283.0" stroke="#12e2e2" stroke-width="0.9" />
<line x1="532.5" y1="158.4" x2="532.5" y2="283.0" stroke="#12e2e2" stroke-width="0.9" />
<line x1="545.5" y1="158.4" x2="545.5" y2="283.0" stroke="#12e2e2" stroke-width="0.9" />
<line x1="557.5" y1="158.4" x2="557.5" y2="283.0" stroke="#12e2e2" stroke-width="0.9" />
<line x1="569.5" y1="158.4" x2="569.5" y2="283.0" stroke="#12e2e2" stroke-width="0.9" />
<line x1="472.7" y1="189.2" x2="579.7" y2="189.2" stroke="#12e2e2" stroke-width="1.5" />
<line x1="472.7" y1="219.7" x2="579.7" y2="219.7" stroke="#12e2e2" stroke-width="1.5" />
<line x1="472.7" y1="250.0" x2="579.7" y2="250.0" stroke="#12e2e2" stroke-width="1.5" />
<line x1="486.5" y1="124.5" x2="486.5" y2="130.0" stroke="#12e2e2" stroke-width="0.8" />
<line x1="536.5" y1="124.5" x2="536.5" y2="130.0" stroke="#12e2e2" stroke-width="0.8" />
<line x1="521.6" y1="122.4" x2="491.1" y2="155.4" stroke="#f4f455" stroke-width="0.8" />
<line x1="520.5" y1="121.5" x2="490.0" y2="154.5" stroke="#f4f455" stroke-width="0.8" />
<line x1="519.5" y1="120.5" x2="489.0" y2="153.5" stroke="#f4f455" stroke-width="0.8" />
<line x1="518.5" y1="119.5" x2="488.0" y2="152.5" stroke="#f4f455" stroke-width="0.8" />
<line x1="517.4" y1="118.6" x2="486.9" y2="151.6" stroke="#f4f455" stroke-width="0.8" />
<line x1="489.0" y1="156.1" x2="521.0" y2="189.6" stroke="#f4f455" stroke-width="0.8" />
<line x1="488.0" y1="157.0" x2="520.0" y2="190.5" stroke="#f4f455" stroke-width="0.8" />
<line x1="487.0" y1="158.0" x2="519.0" y2="191.5" stroke="#f4f455" stroke-width="0.8" />
<line x1="486.0" y1="159.0" x2="518.0" y2="192.5" stroke="#f4f455" stroke-width="0.8" />
<line x1="485.0" y1="159.9" x2="517.0" y2="193.4" stroke="#f4f455" stroke-width="0.8" />
<line x1="521.0" y1="196.9" x2="489.0" y2="229.9" stroke="#f4f455" stroke-width="0.8" />
<line x1="520.0" y1="196.0" x2="488.0" y2="229.0" stroke="#f4f455" stroke-width="0.8" />
<line x1="519.0" y1="195.0" x2="487.0" y2="228.0" stroke="#f4f455" stroke-width="0.8" />
<line x1="518.0" y1="194.0" x2="486.0" y2="227.0" stroke="#f4f455" stroke-width="0.8" />
<line x1="517.0" y1="193.1" x2="485.0" y2="226.1" stroke="#f4f455" stroke-width="0.8" />
<line x1="487.6" y1="230.6" x2="521.6" y2="270.6" stroke="#f4f455" stroke-width="0.8" />
<line x1="486.5" y1="231.5" x2="520.5" y2="271.5" stroke="#f4f455" stroke-width="0.8" />
<line x1="485.5" y1="232.5" x2="519.5" y2="272.5" stroke="#f4f455" stroke-width="0.8" />
<line x1="484.4" y1="233.4" x2="518.4" y2="273.4" stroke="#f4f455" stroke-width="0.8" />
<line x1="473.0" y1="152.5" x2="490.0" y2="152.5" stroke="#f4f455" stroke-width="0.8" />
<line x1="473.0" y1="154.5" x2="490.0" y2="154.5" stroke="#f4f455" stroke-width="0.8" />
<line x1="473.0" y1="155.5" x2="490.0" y2="155.5" stroke="#f4f455" stroke-width="0.8" />
<line x1="473.0" y1="157.5" x2="490.0" y2="157.5" stroke="#f4f455" stroke-width="0.8" />
<line x1="473.0" y1="158.5" x2="490.0" y2="158.5" stroke="#f4f455" stroke-width="0.8" />
<line x1="473.0" y1="159.5" x2="484.0" y2="159.5" stroke="#f4f455" stroke-width="0.8" />
<line x1="473.0" y1="160.5" x2="484.0" y2="160.5" stroke="#f4f455" stroke-width="0.8" />
<line x1="473.0" y1="162.5" x2="484.0" y2="162.5" stroke="#f4f455" stroke-width="0.8" />
<line x1="473.0" y1="163.5" x2="484.0" y2="163.5" stroke="#f4f455" stroke-width="0.8" />
<line x1="519.0" y1="191.5" x2="531.0" y2="191.5" stroke="#f4f455" stroke-width="0.8" />
<line x1="519.0" y1="192.5" x2="531.0" y2="192.5" stroke="#f4f455" stroke-width="0.8" />
<line x1="519.0" y1="194.5" x2="531.0" y2="194.5" stroke="#f4f455" stroke-width="0.8" />
<line x1="519.0" y1="195.5" x2="531.0" y2="195.5" stroke="#f4f455" stroke-width="0.8" />
<line x1="519.0" y1="197.5" x2="531.0" y2="197.5" stroke="#f4f455" stroke-width="0.8" />
<line x1="519.0" y1="198.5" x2="531.0" y2="198.5" stroke="#f4f455" stroke-width="0.8" />
<line x1="519.0" y1="200.5" x2="531.0" y2="200.5" stroke="#f4f455" stroke-width="0.8" />
<line x1="519.0" y1="201.5" x2="531.0" y2="201.5" stroke="#f4f455" stroke-width="0.8" />
<line x1="519.0" y1="203.5" x2="531.0" y2="203.5" stroke="#f4f455" stroke-width="0.8" />
<line x1="473.0" y1="230.5" x2="484.0" y2="230.5" stroke="#f4f455" stroke-width="0.8" />
<line x1="473.0" y1="231.5" x2="484.0" y2="231.5" stroke="#f4f455" stroke-width="0.8" />
<line x1="473.0" y1="233.5" x2="484.0" y2="233.5" stroke="#f4f455" stroke-width="0.8" />
<line x1="473.0" y1="234.5" x2="484.0" y2="234.5" stroke="#f4f455" stroke-width="0.8" />
<line x1="473.0" y1="236.5" x2="484.0" y2="236.5" stroke="#f4f455" stroke-width="0.8" />
<line x1="473.0" y1="237.5" x2="484.0" y2="237.5" stroke="#f4f455" stroke-width="0.8" />
<line x1="473.0" y1="239.5" x2="484.0" y2="239.5" stroke="#f4f455" stroke-width="0.8" />
<line x1="473.0" y1="240.5" x2="484.0" y2="240.5" stroke="#f4f455" stroke-width="0.8" />
<line x1="545.1" y1="262.4" x2="540.6" y2="282.4" stroke="#f4f455" stroke-width="0.8" />
<line x1="543.5" y1="262.0" x2="539.0" y2="282.0" stroke="#f4f455" stroke-width="0.8" />
<line x1="541.9" y1="261.6" x2="537.4" y2="281.6" stroke="#f4f455" stroke-width="0.8" />
<line x1="526.7" y1="262.0" x2="527.7" y2="282.0" stroke="#f4f455" stroke-width="0.8" />
<line x1="525.3" y1="262.0" x2="526.3" y2="282.0" stroke="#f4f455" stroke-width="0.8" />
<circle cx="552.6" cy="202.5" r="18.6" stroke="#222" stroke-width="1.1" fill="#19e3e3"/>
<line x1="545.5" y1="186.0" x2="545.5" y2="219.0" stroke="#d8ffff" stroke-width="0.8" />
<line x1="557.5" y1="186.0" x2="557.5" y2="219.0" stroke="#d8ffff" stroke-width="0.8" />
<line x1="552.5" y1="184.0" x2="552.5" y2="221.0" stroke="#7ff" stroke-width="0.6" />
<path d="M415.4 141.4 L380.3 168.6 L380.3 240.3 L414.5 265.7" stroke="#12e2e2" stroke-width="1" fill="none" />
<line x1="381.5" y1="168.6" x2="381.5" y2="240.0" stroke="#12e2e2" stroke-width="0.7" />
<line x1="390.5" y1="161.2" x2="390.5" y2="247.5" stroke="#12e2e2" stroke-width="0.9" />
<line x1="399.5" y1="153.6" x2="399.5" y2="254.8" stroke="#12e2e2" stroke-width="0.9" />
<path d="M581.6 130.1 L639.6 176.1 L639.6 218.4 L583.0 263.5" stroke="#12e2e2" stroke-width="1" fill="none" />
<line x1="638.5" y1="176.1" x2="638.5" y2="218.4" stroke="#12e2e2" stroke-width="0.7" />
<line x1="596.5" y1="136.7" x2="596.5" y2="252.5" stroke="#12e2e2" stroke-width="0.9" />
<line x1="360.0" y1="203.5" x2="424.8" y2="203.5" stroke="#18d818" stroke-width="1.1" />
<line x1="574.0" y1="198.5" x2="649.0" y2="198.5" stroke="#18d818" stroke-width="1.1" />
<rect x="403.5" y="269.5" width="11.0" height="14.0" stroke="#12e2e2" stroke-width="1" fill="none" />
<line x1="403.2" y1="273.5" x2="414.5" y2="273.5" stroke="#12e2e2" stroke-width="0.8" />
<line x1="403.2" y1="277.5" x2="414.5" y2="277.5" stroke="#12e2e2" stroke-width="0.8" />
<line x1="403.2" y1="280.5" x2="414.5" y2="280.5" stroke="#12e2e2" stroke-width="0.8" />
<line x1="472.7" y1="269.5" x2="582.0" y2="269.5" stroke="#12e2e2" stroke-width="1" />
<line x1="472.7" y1="276.5" x2="582.0" y2="276.5" stroke="#12e2e2" stroke-width="1" />
<line x1="472.7" y1="283.5" x2="582.0" y2="283.5" stroke="#12e2e2" stroke-width="1" />
<line x1="416.0" y1="286.5" x2="582.0" y2="286.5" stroke="#12e2e2" stroke-width="1" />
<line x1="476.5" y1="269.6" x2="476.5" y2="283.0" stroke="#12e2e2" stroke-width="0.8" />
<line x1="484.5" y1="269.6" x2="484.5" y2="283.0" stroke="#12e2e2" stroke-width="0.8" />
<line x1="492.5" y1="269.6" x2="492.5" y2="283.0" stroke="#12e2e2" stroke-width="0.8" />
<line x1="500.5" y1="269.6" x2="500.5" y2="283.0" stroke="#12e2e2" stroke-width="0.8" />
<line x1="508.5" y1="269.6" x2="508.5" y2="283.0" stroke="#12e2e2" stroke-width="0.8" />
<line x1="516.5" y1="269.6" x2="516.5" y2="283.0" stroke="#12e2e2" stroke-width="0.8" />
<line x1="524.5" y1="269.6" x2="524.5" y2="283.0" stroke="#12e2e2" stroke-width="0.8" />
<line x1="532.5" y1="269.6" x2="532.5" y2="283.0" stroke="#12e2e2" stroke-width="0.8" />
<line x1="540.5" y1="269.6" x2="540.5" y2="283.0" stroke="#12e2e2" stroke-width="0.8" />
<line x1="548.5" y1="269.6" x2="548.5" y2="283.0" stroke="#12e2e2" stroke-width="0.8" />
<line x1="556.5" y1="269.6" x2="556.5" y2="283.0" stroke="#12e2e2" stroke-width="0.8" />
<line x1="564.5" y1="269.6" x2="564.5" y2="283.0" stroke="#12e2e2" stroke-width="0.8" />
<line x1="572.5" y1="269.6" x2="572.5" y2="283.0" stroke="#12e2e2" stroke-width="0.8" />
<rect x="475.5" y="266.5" width="4.0" height="8.0" stroke="#12e2e2" stroke-width="0.9" fill="none" />
<rect x="525.5" y="266.5" width="3.0" height="8.0" stroke="#12e2e2" stroke-width="0.9" fill="none" />
<rect x="573.5" y="266.5" width="3.0" height="8.0" stroke="#12e2e2" stroke-width="0.9" fill="none" />
<rect x="475.5" y="266.5" width="5.0" height="8.0" stroke="#18d818" stroke-width="0.7" fill="none" />
<line x1="413.0" y1="301.2" x2="585.0" y2="301.2" stroke="#0de67a" stroke-width="2.6" />
<line x1="413.0" y1="299.5" x2="585.0" y2="299.5" stroke="#12e2e2" stroke-width="0.7" />
<line x1="413.0" y1="302.5" x2="585.0" y2="302.5" stroke="#12e2e2" stroke-width="0.7" />
<line x1="413.0" y1="341.2" x2="585.0" y2="341.2" stroke="#0de67a" stroke-width="2.6" />
<line x1="413.0" y1="339.5" x2="585.0" y2="339.5" stroke="#12e2e2" stroke-width="0.7" />
<line x1="413.0" y1="342.5" x2="585.0" y2="342.5" stroke="#12e2e2" stroke-width="0.7" />
<line x1="426.0" y1="362.5" x2="565.0" y2="362.5" stroke="#12e2e2" stroke-width="1" />
<line x1="418.0" y1="365.5" x2="580.0" y2="365.5" stroke="#12e2e2" stroke-width="1" />
<line x1="418.0" y1="368.5" x2="580.0" y2="368.5" stroke="#12e2e2" stroke-width="1" />
<line x1="428.0" y1="363.5" x2="562.0" y2="363.5" stroke="#18d818" stroke-width="1.2" />
<line x1="471.0" y1="286.0" x2="471.0" y2="395.0" stroke="#18d818" stroke-width="1.8" />
<line x1="469.5" y1="286.9" x2="469.5" y2="390.0" stroke="#12e2e2" stroke-width="0.9" />
<line x1="473.5" y1="286.9" x2="473.5" y2="390.0" stroke="#12e2e2" stroke-width="0.9" />
<line x1="526.0" y1="286.0" x2="526.0" y2="395.0" stroke="#18d818" stroke-width="1.8" />
<line x1="524.5" y1="286.9" x2="524.5" y2="390.0" stroke="#12e2e2" stroke-width="0.9" />
<line x1="528.5" y1="286.9" x2="528.5" y2="390.0" stroke="#12e2e2" stroke-width="0.9" />
<line x1="416.4" y1="301.2" x2="471.4" y2="341.2" stroke="#1fe884" stroke-width="1.8" />
<line x1="416.4" y1="302.5" x2="471.4" y2="342.5" stroke="#12e2e2" stroke-width="0.6" />
<line x1="471.4" y1="301.2" x2="416.4" y2="341.2" stroke="#1fe884" stroke-width="1.8" />
<line x1="471.4" y1="302.5" x2="416.4" y2="342.5" stroke="#12e2e2" stroke-width="0.6" />
<line x1="416.4" y1="341.2" x2="471.4" y2="389.6" stroke="#1fe884" stroke-width="1.8" />
<line x1="416.4" y1="342.5" x2="471.4" y2="390.9" stroke="#12e2e2" stroke-width="0.6" />
<line x1="471.4" y1="341.2" x2="416.4" y2="389.6" stroke="#1fe884" stroke-width="1.8" />
<line x1="471.4" y1="342.5" x2="416.4" y2="390.9" stroke="#12e2e2" stroke-width="0.6" />
<line x1="471.4" y1="301.2" x2="526.4" y2="341.2" stroke="#1fe884" stroke-width="1.8" />
<line x1="471.4" y1="302.5" x2="526.4" y2="342.5" stroke="#12e2e2" stroke-width="0.6" />
<line x1="526.4" y1="301.2" x2="471.4" y2="341.2" stroke="#1fe884" stroke-width="1.8" />
<line x1="526.4" y1="302.5" x2="471.4" y2="342.5" stroke="#12e2e2" stroke-width="0.6" />
<line x1="471.4" y1="341.2" x2="526.4" y2="389.6" stroke="#1fe884" stroke-width="1.8" />
<line x1="471.4" y1="342.5" x2="526.4" y2="390.9" stroke="#12e2e2" stroke-width="0.6" />
<line x1="526.4" y1="341.2" x2="471.4" y2="389.6" stroke="#1fe884" stroke-width="1.8" />
<line x1="526.4" y1="342.5" x2="471.4" y2="390.9" stroke="#12e2e2" stroke-width="0.6" />
<line x1="526.4" y1="301.2" x2="581.3" y2="341.2" stroke="#1fe884" stroke-width="1.8" />
<line x1="526.4" y1="302.5" x2="581.3" y2="342.5" stroke="#12e2e2" stroke-width="0.6" />
<line x1="581.3" y1="301.2" x2="526.4" y2="341.2" stroke="#1fe884" stroke-width="1.8" />
<line x1="581.3" y1="302.5" x2="526.4" y2="342.5" stroke="#12e2e2" stroke-width="0.6" />
<line x1="526.4" y1="341.2" x2="581.3" y2="389.6" stroke="#1fe884" stroke-width="1.8" />
<line x1="526.4" y1="342.5" x2="581.3" y2="390.9" stroke="#12e2e2" stroke-width="0.6" />
<line x1="444.5" y1="275.0" x2="444.5" y2="398.0" stroke="#18d818" stroke-width="1" />
<line x1="418.6" y1="286.9" x2="440.6" y2="352.0" stroke="#12e2e2" stroke-width="0.8" />
<line x1="470.6" y1="286.9" x2="448.6" y2="352.0" stroke="#12e2e2" stroke-width="0.8" />
<line x1="420.6" y1="301.0" x2="434.6" y2="334.0" stroke="#12e2e2" stroke-width="0.7" />
<line x1="468.6" y1="301.0" x2="454.6" y2="334.0" stroke="#12e2e2" stroke-width="0.7" />
<line x1="432.6" y1="331.5" x2="456.6" y2="331.5" stroke="#12e2e2" stroke-width="0.8" />
<line x1="433.7" y1="333.5" x2="455.5" y2="333.5" stroke="#12e2e2" stroke-width="0.8" />
<line x1="434.8" y1="335.5" x2="454.4" y2="335.5" stroke="#12e2e2" stroke-width="0.8" />
<line x1="435.9" y1="337.5" x2="453.3" y2="337.5" stroke="#12e2e2" stroke-width="0.8" />
<line x1="437.0" y1="339.5" x2="452.2" y2="339.5" stroke="#12e2e2" stroke-width="0.8" />
<line x1="436.6" y1="341.2" x2="441.6" y2="356.0" stroke="#12e2e2" stroke-width="0.8" />
<line x1="452.6" y1="341.2" x2="447.6" y2="356.0" stroke="#12e2e2" stroke-width="0.8" />
<line x1="442.5" y1="345.0" x2="442.5" y2="362.0" stroke="#12e2e2" stroke-width="0.8" />
<line x1="446.5" y1="345.0" x2="446.5" y2="362.0" stroke="#12e2e2" stroke-width="0.8" />
<line x1="499.5" y1="275.0" x2="499.5" y2="398.0" stroke="#18d818" stroke-width="1" />
<line x1="473.2" y1="286.9" x2="495.2" y2="352.0" stroke="#12e2e2" stroke-width="0.8" />
<line x1="525.2" y1="286.9" x2="503.2" y2="352.0" stroke="#12e2e2" stroke-width="0.8" />
<line x1="475.2" y1="301.0" x2="489.2" y2="334.0" stroke="#12e2e2" stroke-width="0.7" />
<line x1="523.2" y1="301.0" x2="509.2" y2="334.0" stroke="#12e2e2" stroke-width="0.7" />
<line x1="487.2" y1="331.5" x2="511.2" y2="331.5" stroke="#12e2e2" stroke-width="0.8" />
<line x1="488.3" y1="333.5" x2="510.1" y2="333.5" stroke="#12e2e2" stroke-width="0.8" />
<line x1="489.4" y1="335.5" x2="509.0" y2="335.5" stroke="#12e2e2" stroke-width="0.8" />
<line x1="490.5" y1="337.5" x2="507.9" y2="337.5" stroke="#12e2e2" stroke-width="0.8" />
<line x1="491.6" y1="339.5" x2="506.8" y2="339.5" stroke="#12e2e2" stroke-width="0.8" />
<line x1="491.2" y1="341.2" x2="496.2" y2="356.0" stroke="#12e2e2" stroke-width="0.8" />
<line x1="507.2" y1="341.2" x2="502.2" y2="356.0" stroke="#12e2e2" stroke-width="0.8" />
<line x1="497.5" y1="345.0" x2="497.5" y2="362.0" stroke="#12e2e2" stroke-width="0.8" />
<line x1="501.5" y1="345.0" x2="501.5" y2="362.0" stroke="#12e2e2" stroke-width="0.8" />
<line x1="553.5" y1="275.0" x2="553.5" y2="398.0" stroke="#18d818" stroke-width="1" />
<line x1="527.6" y1="286.9" x2="549.6" y2="352.0" stroke="#12e2e2" stroke-width="0.8" />
<line x1="579.6" y1="286.9" x2="557.6" y2="352.0" stroke="#12e2e2" stroke-width="0.8" />
<line x1="529.6" y1="301.0" x2="543.6" y2="334.0" stroke="#12e2e2" stroke-width="0.7" />
<line x1="577.6" y1="301.0" x2="563.6" y2="334.0" stroke="#12e2e2" stroke-width="0.7" />
<line x1="541.6" y1="331.5" x2="565.6" y2="331.5" stroke="#12e2e2" stroke-width="0.8" />
<line x1="542.7" y1="333.5" x2="564.5" y2="333.5" stroke="#12e2e2" stroke-width="0.8" />
<line x1="543.8" y1="335.5" x2="563.4" y2="335.5" stroke="#12e2e2" stroke-width="0.8" />
<line x1="544.9" y1="337.5" x2="562.3" y2="337.5" stroke="#12e2e2" stroke-width="0.8" />
<line x1="546.0" y1="339.5" x2="561.2" y2="339.5" stroke="#12e2e2" stroke-width="0.8" />
<line x1="545.6" y1="341.2" x2="550.6" y2="356.0" stroke="#12e2e2" stroke-width="0.8" />
<line x1="561.6" y1="341.2" x2="556.6" y2="356.0" stroke="#12e2e2" stroke-width="0.8" />
<line x1="551.5" y1="345.0" x2="551.5" y2="362.0" stroke="#12e2e2" stroke-width="0.8" />
<line x1="555.5" y1="345.0" x2="555.5" y2="362.0" stroke="#12e2e2" stroke-width="0.8" />
<line x1="416.4" y1="286.9" x2="412.4" y2="301.2" stroke="#12e2e2" stroke-width="0.7" />
<line x1="416.4" y1="286.9" x2="420.4" y2="301.2" stroke="#12e2e2" stroke-width="0.7" />
<line x1="413.4" y1="296.5" x2="419.4" y2="296.5" stroke="#12e2e2" stroke-width="0.8" />
<path d="M413.0 390.0 L416.4 386.8 L419.8 390.0 Z" stroke="#b0105a" stroke-width="1" fill="#c01060" />
<line x1="471.4" y1="286.9" x2="467.4" y2="301.2" stroke="#12e2e2" stroke-width="0.7" />
<line x1="471.4" y1="286.9" x2="475.4" y2="301.2" stroke="#12e2e2" stroke-width="0.7" />
<line x1="468.4" y1="296.5" x2="474.4" y2="296.5" stroke="#12e2e2" stroke-width="0.8" />
<path d="M468.0 390.0 L471.4 386.8 L474.8 390.0 Z" stroke="#b0105a" stroke-width="1" fill="#c01060" />
<line x1="526.4" y1="286.9" x2="522.4" y2="301.2" stroke="#12e2e2" stroke-width="0.7" />
<line x1="526.4" y1="286.9" x2="530.4" y2="301.2" stroke="#12e2e2" stroke-width="0.7" />
<line x1="523.4" y1="296.5" x2="529.4" y2="296.5" stroke="#12e2e2" stroke-width="0.8" />
<path d="M523.0 390.0 L526.4 386.8 L529.8 390.0 Z" stroke="#b0105a" stroke-width="1" fill="#c01060" />
<line x1="581.3" y1="286.9" x2="577.3" y2="301.2" stroke="#12e2e2" stroke-width="0.7" />
<line x1="581.3" y1="286.9" x2="585.3" y2="301.2" stroke="#12e2e2" stroke-width="0.7" />
<line x1="578.3" y1="296.5" x2="584.3" y2="296.5" stroke="#12e2e2" stroke-width="0.8" />
<path d="M577.9 390.0 L581.3 386.8 L584.7 390.0 Z" stroke="#b0105a" stroke-width="1" fill="#c01060" />
<line x1="519.0" y1="305.5" x2="533.5" y2="305.5" stroke="#12e2e2" stroke-width="0.8" />
<line x1="519.5" y1="307.5" x2="533.0" y2="307.5" stroke="#12e2e2" stroke-width="0.8" />
<line x1="520.0" y1="309.5" x2="532.5" y2="309.5" stroke="#12e2e2" stroke-width="0.8" />
<line x1="520.5" y1="312.5" x2="532.0" y2="312.5" stroke="#12e2e2" stroke-width="0.8" />
<line x1="521.0" y1="314.5" x2="531.5" y2="314.5" stroke="#12e2e2" stroke-width="0.8" />
<line x1="521.5" y1="317.5" x2="531.0" y2="317.5" stroke="#12e2e2" stroke-width="0.8" />
<line x1="518.5" y1="303.5" x2="521.5" y2="318.5" stroke="#12e2e2" stroke-width="0.8" />
<line x1="534.0" y1="303.5" x2="531.0" y2="318.5" stroke="#12e2e2" stroke-width="0.8" />
<line x1="444.0" y1="362.0" x2="429.0" y2="388.0" stroke="#12e2e2" stroke-width="0.7" />
<line x1="446.0" y1="362.0" x2="431.0" y2="388.0" stroke="#12e2e2" stroke-width="0.7" />
<line x1="448.0" y1="362.0" x2="433.0" y2="388.0" stroke="#12e2e2" stroke-width="0.7" />
<line x1="449.0" y1="350.0" x2="430.0" y2="372.0" stroke="#12e2e2" stroke-width="0.7" />
<line x1="452.0" y1="352.0" x2="433.0" y2="374.0" stroke="#12e2e2" stroke-width="0.7" />
<path d="M531.0 389.5 L531.0 380.3 L533.0 380.3 L533.0 375.0 L541.7 375.0 L541.7 380.3 L544.0 380.3 L544.0 389.5" stroke="#b030d0" stroke-width="1.1" fill="none" />
<rect x="535.5" y="370.5" width="4.0" height="5.0" stroke="#b030d0" stroke-width="0.9" fill="none" />
<line x1="537.5" y1="362.0" x2="537.5" y2="392.0" stroke="#18d818" stroke-width="1" />
<line x1="66.0" y1="389.5" x2="999.5" y2="389.5" stroke="#b428c8" stroke-width="1.2" stroke-dasharray="22 2 2 2"/>
<line x1="74.5" y1="399.0" x2="74.5" y2="447.6" stroke="#b80f0f" stroke-width="1" />
<line x1="121.5" y1="390.0" x2="121.5" y2="413.8" stroke="#b80f0f" stroke-width="1" />
<line x1="169.5" y1="412.0" x2="169.5" y2="430.0" stroke="#b80f0f" stroke-width="1" />
<line x1="216.5" y1="390.0" x2="216.5" y2="413.8" stroke="#b80f0f" stroke-width="1" />
<line x1="264.5" y1="390.0" x2="264.5" y2="447.6" stroke="#b80f0f" stroke-width="1" />
<line x1="280.5" y1="354.0" x2="280.5" y2="430.0" stroke="#b80f0f" stroke-width="1" />
<line x1="290.5" y1="283.5" x2="290.5" y2="447.6" stroke="#b80f0f" stroke-width="1" />
<line x1="123.8" y1="408.5" x2="214.0" y2="408.5" stroke="#b80f0f" stroke-width="1" />
<path d="M126.3 407.6 L123.8 408.5 L126.3 409.4" stroke="#b80f0f" stroke-width="0.5" fill="none" />
<path d="M211.5 407.6 L214.0 408.5 L211.5 409.4" stroke="#b80f0f" stroke-width="0.5" fill="none" />
<text transform="translate(168.9 406.6) rotate(0) scale(0.86 1)" fill="#b80f0f" stroke="#b80f0f" stroke-width="0.34" font-size="8" text-anchor="middle" >9370</text>
<line x1="76.5" y1="425.5" x2="166.3" y2="425.5" stroke="#b80f0f" stroke-width="1" />
<path d="M79.0 424.2 L76.5 425.1 L79.0 426.0" stroke="#b80f0f" stroke-width="0.5" fill="none" />
<path d="M163.8 424.2 L166.3 425.1 L163.8 426.0" stroke="#b80f0f" stroke-width="0.5" fill="none" />
<text transform="translate(122.0 422.6) rotate(0) scale(0.86 1)" fill="#b80f0f" stroke="#b80f0f" stroke-width="0.34" font-size="8" text-anchor="middle" >9365</text>
<line x1="172.0" y1="425.5" x2="262.0" y2="425.5" stroke="#b80f0f" stroke-width="1" />
<path d="M174.5 424.2 L172.0 425.1 L174.5 426.0" stroke="#b80f0f" stroke-width="0.5" fill="none" />
<path d="M259.5 424.2 L262.0 425.1 L259.5 426.0" stroke="#b80f0f" stroke-width="0.5" fill="none" />
<text transform="translate(217.0 422.6) rotate(0) scale(0.86 1)" fill="#b80f0f" stroke="#b80f0f" stroke-width="0.34" font-size="8" text-anchor="middle" >9365</text>
<line x1="77.0" y1="442.5" x2="262.0" y2="442.5" stroke="#b80f0f" stroke-width="1" />
<path d="M79.5 441.1 L77.0 442.0 L79.5 442.9" stroke="#b80f0f" stroke-width="0.5" fill="none" />
<path d="M259.5 441.1 L262.0 442.0 L259.5 442.9" stroke="#b80f0f" stroke-width="0.5" fill="none" />
<text transform="translate(169.6 439.8) rotate(0) scale(0.86 1)" fill="#b80f0f" stroke="#b80f0f" stroke-width="0.34" font-size="8" text-anchor="middle" >18730</text>
<text transform="translate(272.3 422.6) rotate(0) scale(0.86 1)" fill="#b80f0f" stroke="#b80f0f" stroke-width="0.34" font-size="8" text-anchor="middle" >1329</text>
<line x1="265.6" y1="442.5" x2="288.5" y2="442.5" stroke="#b80f0f" stroke-width="1" />
<path d="M268.1 441.1 L265.6 442.0 L268.1 442.9" stroke="#b80f0f" stroke-width="0.5" fill="none" />
<path d="M286.0 441.1 L288.5 442.0 L286.0 442.9" stroke="#b80f0f" stroke-width="0.5" fill="none" />
<text transform="translate(277.0 439.8) rotate(0) scale(0.86 1)" fill="#b80f0f" stroke="#b80f0f" stroke-width="0.34" font-size="8" text-anchor="middle" >2200</text>
<line x1="380.5" y1="240.3" x2="380.5" y2="448.0" stroke="#b80f0f" stroke-width="1" />
<line x1="640.5" y1="218.4" x2="640.5" y2="448.0" stroke="#b80f0f" stroke-width="1" />
<line x1="416.5" y1="390.0" x2="416.5" y2="433.5" stroke="#b80f0f" stroke-width="1" />
<line x1="526.5" y1="390.0" x2="526.5" y2="433.5" stroke="#b80f0f" stroke-width="1" />
<line x1="581.5" y1="390.0" x2="581.5" y2="433.5" stroke="#b80f0f" stroke-width="1" />
<line x1="471.5" y1="417.6" x2="471.5" y2="433.5" stroke="#b80f0f" stroke-width="1" />
<line x1="429.5" y1="390.0" x2="429.5" y2="416.4" stroke="#b80f0f" stroke-width="1" />
<line x1="444.5" y1="390.0" x2="444.5" y2="416.4" stroke="#b80f0f" stroke-width="1" />
<line x1="499.5" y1="390.0" x2="499.5" y2="416.4" stroke="#b80f0f" stroke-width="1" />
<line x1="553.5" y1="369.0" x2="553.5" y2="416.4" stroke="#b80f0f" stroke-width="1" />
<line x1="408.5" y1="378.4" x2="408.5" y2="399.0" stroke="#b80f0f" stroke-width="1" />
<line x1="537.5" y1="390.0" x2="537.5" y2="402.5" stroke="#b80f0f" stroke-width="1" />
<line x1="526.5" y1="390.0" x2="526.5" y2="402.5" stroke="#b80f0f" stroke-width="1" />
<line x1="408.0" y1="412.5" x2="438.6" y2="412.5" stroke="#b80f0f" stroke-width="1" />
<text transform="translate(404.5 411.0) rotate(0) scale(0.86 1)" fill="#b80f0f" stroke="#b80f0f" stroke-width="0.34" font-size="8" text-anchor="middle" >1639</text>
<path d="M427.0 411.9 L429.2 412.9 L427.0 413.9" stroke="#b80f0f" stroke-width="0.6" fill="none" />
<path d="M434.0 411.9 L431.5 412.9 L434.0 413.9" stroke="#b80f0f" stroke-width="0.6" fill="none" />
<line x1="445.7" y1="412.5" x2="497.3" y2="412.5" stroke="#b80f0f" stroke-width="1" />
<path d="M448.2 412.0 L445.7 412.9 L448.2 413.8" stroke="#b80f0f" stroke-width="0.5" fill="none" />
<path d="M494.8 412.0 L497.3 412.9 L494.8 413.8" stroke="#b80f0f" stroke-width="0.5" fill="none" />
<text transform="translate(471.5 410.6) rotate(0) scale(0.86 1)" fill="#b80f0f" stroke="#b80f0f" stroke-width="0.34" font-size="8" text-anchor="middle" >5400</text>
<line x1="500.8" y1="412.5" x2="551.3" y2="412.5" stroke="#b80f0f" stroke-width="1" />
<path d="M503.3 412.0 L500.8 412.9 L503.3 413.8" stroke="#b80f0f" stroke-width="0.5" fill="none" />
<path d="M548.8 412.0 L551.3 412.9 L548.8 413.8" stroke="#b80f0f" stroke-width="0.5" fill="none" />
<text transform="translate(526.7 410.6) rotate(0) scale(0.86 1)" fill="#b80f0f" stroke="#b80f0f" stroke-width="0.34" font-size="8" text-anchor="middle" >5400</text>
<text transform="translate(513.0 398.8) rotate(0) scale(0.86 1)" fill="#b80f0f" stroke="#b80f0f" stroke-width="0.34" font-size="8" text-anchor="middle" >1075</text>
<line x1="522.0" y1="400.5" x2="546.6" y2="400.5" stroke="#b80f0f" stroke-width="1" />
<line x1="383.5" y1="429.5" x2="414.0" y2="429.5" stroke="#b80f0f" stroke-width="1" />
<path d="M386.0 428.4 L383.5 429.3 L386.0 430.2" stroke="#b80f0f" stroke-width="0.5" fill="none" />
<path d="M411.5 428.4 L414.0 429.3 L411.5 430.2" stroke="#b80f0f" stroke-width="0.5" fill="none" />
<text transform="translate(398.7 426.8) rotate(0) scale(0.86 1)" fill="#b80f0f" stroke="#b80f0f" stroke-width="0.34" font-size="8" text-anchor="middle" >3600</text>
<line x1="418.7" y1="429.5" x2="469.2" y2="429.5" stroke="#b80f0f" stroke-width="1" />
<path d="M421.2 428.4 L418.7 429.3 L421.2 430.2" stroke="#b80f0f" stroke-width="0.5" fill="none" />
<path d="M466.7 428.4 L469.2 429.3 L466.7 430.2" stroke="#b80f0f" stroke-width="0.5" fill="none" />
<text transform="translate(444.5 426.8) rotate(0) scale(0.86 1)" fill="#b80f0f" stroke="#b80f0f" stroke-width="0.34" font-size="8" text-anchor="middle" >5425</text>
<line x1="474.3" y1="429.5" x2="523.6" y2="429.5" stroke="#b80f0f" stroke-width="1" />
<path d="M476.8 428.4 L474.3 429.3 L476.8 430.2" stroke="#b80f0f" stroke-width="0.5" fill="none" />
<path d="M521.1 428.4 L523.6 429.3 L521.1 430.2" stroke="#b80f0f" stroke-width="0.5" fill="none" />
<text transform="translate(499.2 426.8) rotate(0) scale(0.86 1)" fill="#b80f0f" stroke="#b80f0f" stroke-width="0.34" font-size="8" text-anchor="middle" >5400</text>
<line x1="529.5" y1="429.5" x2="578.8" y2="429.5" stroke="#b80f0f" stroke-width="1" />
<path d="M532.0 428.4 L529.5 429.3 L532.0 430.2" stroke="#b80f0f" stroke-width="0.5" fill="none" />
<path d="M576.3 428.4 L578.8 429.3 L576.3 430.2" stroke="#b80f0f" stroke-width="0.5" fill="none" />
<text transform="translate(553.7 426.8) rotate(0) scale(0.86 1)" fill="#b80f0f" stroke="#b80f0f" stroke-width="0.34" font-size="8" text-anchor="middle" >5425</text>
<line x1="584.2" y1="429.5" x2="638.2" y2="429.5" stroke="#b80f0f" stroke-width="1" />
<path d="M586.7 428.4 L584.2 429.3 L586.7 430.2" stroke="#b80f0f" stroke-width="0.5" fill="none" />
<path d="M635.7 428.4 L638.2 429.3 L635.7 430.2" stroke="#b80f0f" stroke-width="0.5" fill="none" />
<text transform="translate(610.7 426.8) rotate(0) scale(0.86 1)" fill="#b80f0f" stroke="#b80f0f" stroke-width="0.34" font-size="8" text-anchor="middle" >5800</text>
<line x1="382.3" y1="443.5" x2="638.2" y2="443.5" stroke="#b80f0f" stroke-width="1" />
<path d="M384.8 442.5 L382.3 443.4 L384.8 444.3" stroke="#b80f0f" stroke-width="0.5" fill="none" />
<path d="M635.7 442.5 L638.2 443.4 L635.7 444.3" stroke="#b80f0f" stroke-width="0.5" fill="none" />
<text transform="translate(510.2 441.2) rotate(0) scale(0.86 1)" fill="#b80f0f" stroke="#b80f0f" stroke-width="0.34" font-size="8" text-anchor="middle" >25650</text>
<line x1="354.5" y1="198.0" x2="354.5" y2="390.0" stroke="#b80f0f" stroke-width="1" />
<line x1="347.0" y1="198.5" x2="361.0" y2="198.5" stroke="#b80f0f" stroke-width="1" />
<line x1="348.8" y1="286.5" x2="414.5" y2="286.5" stroke="#b80f0f" stroke-width="1" />
<text transform="translate(351.7 245.0) rotate(-90) scale(0.86 1)" fill="#b80f0f" stroke="#b80f0f" stroke-width="0.34" font-size="8" text-anchor="middle" >8200</text>
<text transform="translate(351.7 338.0) rotate(-90) scale(0.86 1)" fill="#b80f0f" stroke="#b80f0f" stroke-width="0.34" font-size="8" text-anchor="middle" >10200</text>
<line x1="394.5" y1="274.0" x2="394.5" y2="390.0" stroke="#b80f0f" stroke-width="1" />
<line x1="389.0" y1="283.5" x2="403.0" y2="283.5" stroke="#b80f0f" stroke-width="1" />
<text transform="translate(393.0 271.5) rotate(-90) scale(0.86 1)" fill="#b80f0f" stroke="#b80f0f" stroke-width="0.34" font-size="8" text-anchor="middle" >430</text>
<text transform="translate(392.8 321.0) rotate(-90) scale(0.86 1)" fill="#b80f0f" stroke="#b80f0f" stroke-width="0.34" font-size="8" text-anchor="middle" >6600</text>
<text transform="translate(389.6 359.6) rotate(-90) scale(0.86 1)" fill="#b80f0f" stroke="#b80f0f" stroke-width="0.34" font-size="8" text-anchor="middle" >1500</text>
<text transform="translate(391.8 378.4) rotate(-90) scale(0.86 1)" fill="#b80f0f" stroke="#b80f0f" stroke-width="0.34" font-size="8" text-anchor="middle" >1900</text>
<text transform="translate(406.8 377.4) rotate(-90) scale(0.86 1)" fill="#b80f0f" stroke="#b80f0f" stroke-width="0.34" font-size="8" text-anchor="middle" >500</text>
<line x1="388.0" y1="355.5" x2="442.7" y2="355.5" stroke="#b80f0f" stroke-width="1" />
<line x1="388.0" y1="365.5" x2="418.3" y2="365.5" stroke="#b80f0f" stroke-width="1" />
<line x1="403.0" y1="389.5" x2="416.0" y2="389.5" stroke="#b80f0f" stroke-width="1" />
<text transform="translate(341.0 194.2) rotate(0) scale(0.93 1)" fill="#111" stroke="#111" stroke-width="0.4" font-size="7.9" text-anchor="start" >18400</text>
<line x1="336.5" y1="196.5" x2="368.0" y2="196.5" stroke="#111" stroke-width="1" />
<path d="M359.7 197.4 L367.3 197.4 L363.5 205.0 Z" stroke="#111" stroke-width="0.9" fill="none" />
<line x1="522.5" y1="254.4" x2="522.5" y2="270.4" stroke="#b80f0f" stroke-width="1" />
<line x1="581.5" y1="254.4" x2="581.5" y2="270.4" stroke="#b80f0f" stroke-width="1" />
<line x1="524.5" y1="260.5" x2="579.5" y2="260.5" stroke="#b80f0f" stroke-width="1" />
<path d="M527.0 259.1 L524.5 260.0 L527.0 260.9" stroke="#b80f0f" stroke-width="0.5" fill="none" />
<path d="M577.0 259.1 L579.5 260.0 L577.0 260.9" stroke="#b80f0f" stroke-width="0.5" fill="none" />
<text transform="translate(553.0 258.0) rotate(0) scale(0.86 1)" fill="#b80f0f" stroke="#b80f0f" stroke-width="0.34" font-size="8" text-anchor="middle" >5750</text>
<line x1="561.5" y1="283.5" x2="561.5" y2="301.4" stroke="#b80f0f" stroke-width="1" />
<text transform="translate(571.3 294.5) rotate(0) scale(0.86 1)" fill="#b80f0f" stroke="#b80f0f" stroke-width="0.34" font-size="8" text-anchor="middle" >2000</text>
<line x1="563.5" y1="296.5" x2="579.0" y2="296.5" stroke="#b80f0f" stroke-width="1" />
<line x1="657.5" y1="198.0" x2="657.5" y2="306.0" stroke="#b80f0f" stroke-width="1" />
<line x1="649.0" y1="198.5" x2="663.0" y2="198.5" stroke="#b80f0f" stroke-width="1" />
<line x1="582.6" y1="286.5" x2="663.0" y2="286.5" stroke="#b80f0f" stroke-width="1" />
<line x1="582.6" y1="297.5" x2="663.0" y2="297.5" stroke="#b80f0f" stroke-width="1" />
<text transform="translate(655.6 242.0) rotate(-90) scale(0.86 1)" fill="#b80f0f" stroke="#b80f0f" stroke-width="0.34" font-size="8" text-anchor="middle" >8775</text>
<text transform="translate(655.6 309.0) rotate(-90) scale(0.86 1)" fill="#b80f0f" stroke="#b80f0f" stroke-width="0.34" font-size="8" text-anchor="middle" >812</text>
<text transform="translate(595.7 344.5) rotate(-90) scale(0.86 1)" fill="#b80f0f" stroke="#b80f0f" stroke-width="0.34" font-size="8" text-anchor="middle" >1610</text>
<line x1="597.5" y1="346.4" x2="597.5" y2="378.4" stroke="#b80f0f" stroke-width="1" />
<line x1="557.3" y1="355.5" x2="601.4" y2="355.5" stroke="#b80f0f" stroke-width="1" />
<line x1="539.4" y1="369.5" x2="601.4" y2="369.5" stroke="#b80f0f" stroke-width="1" />
<text transform="translate(657.3 189.2) rotate(0) scale(0.93 1)" fill="#111" stroke="#111" stroke-width="0.4" font-size="7.9" text-anchor="start" >18875</text>
<line x1="645.0" y1="191.5" x2="677.0" y2="191.5" stroke="#111" stroke-width="1" />
<path d="M645.4 192.4 L653.0 192.4 L649.2 199.8 Z" stroke="#111" stroke-width="0.9" fill="none" />
<path d="M679.0 198.6 L684.5 195.0 L684.5 197.1 L691.8 197.1 L691.8 200.4 L684.5 200.4 L684.5 202.4 L679.0 198.6 Z" stroke="#e01010" stroke-width="1.1" fill="none" />
<text transform="translate(690.0 196.0) rotate(15) scale(0.86 1)" fill="#e01010" stroke="#e01010" stroke-width="0.6" font-size="6" text-anchor="middle" font-weight="bold" >A</text>
<text transform="translate(703.1 112.6) rotate(0) scale(0.93 1)" fill="#111" stroke="#111" stroke-width="0.4" font-size="7.9" text-anchor="start" >27100</text>
<line x1="703.1" y1="115.5" x2="733.6" y2="115.5" stroke="#111" stroke-width="1" />
<path d="M725.6 115.9 L733.2 115.9 L729.4 123.7 Z" stroke="#111" stroke-width="0.9" fill="none" />
<line x1="725.7" y1="123.5" x2="776.4" y2="123.5" stroke="#b80f0f" stroke-width="1" />
<text transform="translate(703.1 153.5) rotate(0) scale(0.93 1)" fill="#111" stroke="#111" stroke-width="0.4" font-size="7.9" text-anchor="start" >22982.5</text>
<line x1="703.1" y1="156.5" x2="733.6" y2="156.5" stroke="#111" stroke-width="1" />
<path d="M725.6 156.8 L733.2 156.8 L729.4 164.6 Z" stroke="#111" stroke-width="0.9" fill="none" />
<line x1="725.7" y1="164.5" x2="768.5" y2="164.5" stroke="#b80f0f" stroke-width="1" />
<text transform="translate(705.5 193.7) rotate(0) scale(0.93 1)" fill="#111" stroke="#111" stroke-width="0.4" font-size="7.9" text-anchor="start" >18865</text>
<line x1="703.1" y1="196.5" x2="733.6" y2="196.5" stroke="#111" stroke-width="1" />
<path d="M725.6 197.0 L733.2 197.0 L729.4 204.8 Z" stroke="#111" stroke-width="0.9" fill="none" />
<line x1="725.7" y1="204.5" x2="768.5" y2="204.5" stroke="#b80f0f" stroke-width="1" />
<text transform="translate(706.0 232.8) rotate(0) scale(0.93 1)" fill="#111" stroke="#111" stroke-width="0.4" font-size="7.9" text-anchor="start" >14747.5</text>
<line x1="703.1" y1="235.5" x2="733.6" y2="235.5" stroke="#111" stroke-width="1" />
<path d="M725.6 236.1 L733.2 236.1 L729.4 243.9 Z" stroke="#111" stroke-width="0.9" fill="none" />
<line x1="725.7" y1="243.5" x2="768.5" y2="243.5" stroke="#b80f0f" stroke-width="1" />
<text transform="translate(706.6 272.5) rotate(0) scale(0.93 1)" fill="#111" stroke="#111" stroke-width="0.4" font-size="7.9" text-anchor="start" >10830</text>
<line x1="703.1" y1="275.5" x2="733.6" y2="275.5" stroke="#111" stroke-width="1" />
<path d="M725.6 275.8 L733.2 275.8 L729.4 283.6 Z" stroke="#111" stroke-width="0.9" fill="none" />
<line x1="725.7" y1="283.5" x2="767.0" y2="283.5" stroke="#b80f0f" stroke-width="1" />
<text transform="translate(706.0 308.6) rotate(0) scale(0.93 1)" fill="#111" stroke="#111" stroke-width="0.4" font-size="7.9" text-anchor="start" >7732</text>
<line x1="703.1" y1="311.5" x2="733.6" y2="311.5" stroke="#111" stroke-width="1" />
<path d="M725.6 311.9 L733.2 311.9 L729.4 319.7 Z" stroke="#111" stroke-width="0.9" fill="none" />
<line x1="725.7" y1="319.5" x2="776.4" y2="319.5" stroke="#b80f0f" stroke-width="1" />
<text transform="translate(706.0 344.9) rotate(0) scale(0.93 1)" fill="#111" stroke="#111" stroke-width="0.4" font-size="7.9" text-anchor="start" >3299</text>
<line x1="703.1" y1="347.5" x2="733.6" y2="347.5" stroke="#111" stroke-width="1" />
<path d="M725.6 348.2 L733.2 348.2 L729.4 356.0 Z" stroke="#111" stroke-width="0.9" fill="none" />
<line x1="725.7" y1="354.5" x2="776.4" y2="354.5" stroke="#b80f0f" stroke-width="1" />
<text transform="translate(707.5 380.9) rotate(0) scale(0.93 1)" fill="#111" stroke="#111" stroke-width="0.4" font-size="7.9" text-anchor="start" >0</text>
<line x1="703.1" y1="383.5" x2="733.6" y2="383.5" stroke="#111" stroke-width="1" />
<path d="M725.6 384.2 L733.2 384.2 L729.4 392.0 Z" stroke="#111" stroke-width="0.9" fill="none" />
<line x1="748.5" y1="113.6" x2="748.5" y2="390.0" stroke="#b80f0f" stroke-width="1" />
<line x1="768.5" y1="204.5" x2="790.0" y2="204.5" stroke="#18d818" stroke-width="1.1" />
<line x1="744.5" y1="130.5" x2="792.3" y2="130.5" stroke="#b80f0f" stroke-width="1" />
<line x1="744.5" y1="286.5" x2="794.2" y2="286.5" stroke="#b80f0f" stroke-width="1" />
<text transform="translate(746.6 110.4) rotate(-90) scale(0.86 1)" fill="#b80f0f" stroke="#b80f0f" stroke-width="0.34" font-size="8" text-anchor="middle" >1450</text>
<text transform="translate(746.6 221.2) rotate(-90) scale(0.86 1)" fill="#b80f0f" stroke="#b80f0f" stroke-width="0.34" font-size="8" text-anchor="middle" >15400</text>
<text transform="translate(746.6 338.0) rotate(-90) scale(0.86 1)" fill="#b80f0f" stroke="#b80f0f" stroke-width="0.34" font-size="8" text-anchor="middle" >10200</text>
<line x1="767.5" y1="283.1" x2="767.5" y2="445.3" stroke="#b80f0f" stroke-width="1" />
<line x1="776.5" y1="354.0" x2="776.5" y2="429.3" stroke="#444" stroke-width="1" />
<line x1="792.5" y1="390.0" x2="792.5" y2="445.3" stroke="#b80f0f" stroke-width="1" />
<line x1="840.5" y1="390.0" x2="840.5" y2="413.0" stroke="#b80f0f" stroke-width="1" />
<line x1="887.5" y1="411.7" x2="887.5" y2="430.5" stroke="#b80f0f" stroke-width="1" />
<line x1="935.5" y1="390.0" x2="935.5" y2="413.0" stroke="#b80f0f" stroke-width="1" />
<line x1="982.5" y1="390.0" x2="982.5" y2="445.3" stroke="#b80f0f" stroke-width="1" />
<line x1="843.3" y1="408.5" x2="933.0" y2="408.5" stroke="#b80f0f" stroke-width="1" />
<path d="M845.8 407.4 L843.3 408.3 L845.8 409.2" stroke="#b80f0f" stroke-width="0.5" fill="none" />
<path d="M930.5 407.4 L933.0 408.3 L930.5 409.2" stroke="#b80f0f" stroke-width="0.5" fill="none" />
<text transform="translate(887.4 406.4) rotate(0) scale(0.86 1)" fill="#b80f0f" stroke="#b80f0f" stroke-width="0.34" font-size="8" text-anchor="middle" >9370</text>
<line x1="795.2" y1="425.5" x2="884.4" y2="425.5" stroke="#b80f0f" stroke-width="1" />
<path d="M797.7 424.2 L795.2 425.1 L797.7 426.0" stroke="#b80f0f" stroke-width="0.5" fill="none" />
<path d="M881.9 424.2 L884.4 425.1 L881.9 426.0" stroke="#b80f0f" stroke-width="0.5" fill="none" />
<text transform="translate(840.5 423.0) rotate(0) scale(0.86 1)" fill="#b80f0f" stroke="#b80f0f" stroke-width="0.34" font-size="8" text-anchor="middle" >9365</text>
<line x1="890.7" y1="425.5" x2="980.0" y2="425.5" stroke="#b80f0f" stroke-width="1" />
<path d="M893.2 424.2 L890.7 425.1 L893.2 426.0" stroke="#b80f0f" stroke-width="0.5" fill="none" />
<path d="M977.5 424.2 L980.0 425.1 L977.5 426.0" stroke="#b80f0f" stroke-width="0.5" fill="none" />
<text transform="translate(935.5 423.0) rotate(0) scale(0.86 1)" fill="#b80f0f" stroke="#b80f0f" stroke-width="0.34" font-size="8" text-anchor="middle" >9365</text>
<line x1="795.2" y1="441.5" x2="980.6" y2="441.5" stroke="#b80f0f" stroke-width="1" />
<path d="M797.7 440.7 L795.2 441.6 L797.7 442.5" stroke="#b80f0f" stroke-width="0.5" fill="none" />
<path d="M978.1 440.7 L980.6 441.6 L978.1 442.5" stroke="#b80f0f" stroke-width="0.5" fill="none" />
<text transform="translate(887.4 439.0) rotate(0) scale(0.86 1)" fill="#b80f0f" stroke="#b80f0f" stroke-width="0.34" font-size="8" text-anchor="middle" >18730</text>
<text transform="translate(785.0 422.6) rotate(0) scale(0.86 1)" fill="#b80f0f" stroke="#b80f0f" stroke-width="0.34" font-size="8" text-anchor="middle" >1329</text>
<line x1="779.0" y1="425.5" x2="790.0" y2="425.5" stroke="#b80f0f" stroke-width="1" />
<line x1="768.2" y1="441.5" x2="790.5" y2="441.5" stroke="#b80f0f" stroke-width="1" />
<path d="M770.7 440.7 L768.2 441.6 L770.7 442.5" stroke="#b80f0f" stroke-width="0.5" fill="none" />
<path d="M788.0 440.7 L790.5 441.6 L788.0 442.5" stroke="#b80f0f" stroke-width="0.5" fill="none" />
<text transform="translate(780.0 439.0) rotate(0) scale(0.86 1)" fill="#b80f0f" stroke="#b80f0f" stroke-width="0.34" font-size="8" text-anchor="middle" >2200</text>
<text transform="translate(175.1 488.5) scale(0.57 1)" fill="#e01018" font-size="7.5" font-weight="bold" text-anchor="middle" stroke="#e01018" stroke-width="0.55">@</text>
<text transform="translate(181.8 488.5) scale(1.00 1)" fill="#e01018" font-size="7.5" font-weight="bold" text-anchor="middle" stroke="#e01018" stroke-width="0.55">#</text>
<text transform="translate(188.5 488.5) scale(0.77 1)" fill="#e01018" font-size="7.5" font-weight="bold" text-anchor="middle" stroke="#e01018" stroke-width="0.55">H</text>
<text transform="translate(195.2 488.5) scale(0.77 1)" fill="#e01018" font-size="7.5" font-weight="bold" text-anchor="middle" stroke="#e01018" stroke-width="0.55">&amp;</text>
<text transform="translate(201.9 488.5) scale(0.77 1)" fill="#e01018" font-size="7.5" font-weight="bold" text-anchor="middle" stroke="#e01018" stroke-width="0.55">H</text>
<text transform="translate(208.7 488.5) scale(0.77 1)" fill="#e01018" font-size="7.5" font-weight="bold" text-anchor="middle" stroke="#e01018" stroke-width="0.55">N</text>
<text transform="translate(215.4 488.5) scale(0.77 1)" fill="#e01018" font-size="7.5" font-weight="bold" text-anchor="middle" stroke="#e01018" stroke-width="0.55">K</text>
<text transform="translate(222.1 488.5) scale(0.77 1)" fill="#e01018" font-size="7.5" font-weight="bold" text-anchor="middle" stroke="#e01018" stroke-width="0.55">H</text>
<text transform="translate(228.8 488.5) scale(0.77 1)" fill="#e01018" font-size="7.5" font-weight="bold" text-anchor="middle" stroke="#e01018" stroke-width="0.55">K</text>
<line x1="177.2" y1="503.5" x2="234.2" y2="503.5" stroke="#b030d0" stroke-width="1.3" stroke-dasharray="17 1.5 2 1.5"/>
<line x1="179.5" y1="503.3" x2="179.5" y2="535.7" stroke="#12e2e2" stroke-width="1" />
<line x1="230.5" y1="503.3" x2="230.5" y2="535.7" stroke="#12e2e2" stroke-width="1" />
<line x1="205.5" y1="503.3" x2="205.5" y2="704.4" stroke="#18d818" stroke-width="1.1" />
<clipPath id="conc"><path d="M264.9 541.2 L146.5 541.2 L113.7 603.6 C125 650 150 704.4 205.7 704.4 C261.4 704.4 286.4 650 297.7 603.6 Z"/></clipPath>
<g clip-path="url(#conc)"><ellipse cx="228.5" cy="662.9" rx="1.5" ry="2.0" fill="#f6ef45" transform="rotate(83 228.5 662.9)"/><ellipse cx="284.5" cy="546.7" rx="1.1" ry="1.4" fill="#f6ef45" transform="rotate(83 284.5 546.7)"/><ellipse cx="121.7" cy="567.6" rx="0.9" ry="1.2" fill="#f6ef45" transform="rotate(48 121.7 567.6)"/><ellipse cx="213.7" cy="635.6" rx="0.5" ry="0.4" fill="#f6ef45" transform="rotate(35 213.7 635.6)"/><ellipse cx="146.0" cy="683.4" rx="1.0" ry="1.2" fill="#f6ef45" transform="rotate(9 146.0 683.4)"/><ellipse cx="137.9" cy="642.6" rx="0.7" ry="0.4" fill="#f6ef45" transform="rotate(0 137.9 642.6)"/><ellipse cx="151.2" cy="577.1" rx="1.7" ry="2.2" fill="#f6ef45" transform="rotate(37 151.2 577.1)"/><ellipse cx="170.7" cy="574.4" rx="1.6" ry="1.7" fill="#f6ef45" transform="rotate(23 170.7 574.4)"/><ellipse cx="288.0" cy="654.6" rx="1.7" ry="2.2" fill="#f6ef45" transform="rotate(38 288.0 654.6)"/><ellipse cx="116.0" cy="609.6" rx="1.6" ry="1.3" fill="#f6ef45" transform="rotate(42 116.0 609.6)"/><ellipse cx="168.4" cy="640.3" rx="0.5" ry="0.6" fill="#f6ef45" transform="rotate(43 168.4 640.3)"/><ellipse cx="124.3" cy="599.9" rx="0.9" ry="1.0" fill="#f6ef45" transform="rotate(23 124.3 599.9)"/><ellipse cx="202.0" cy="656.9" rx="0.6" ry="0.8" fill="#f6ef45" transform="rotate(2 202.0 656.9)"/><ellipse cx="289.5" cy="600.3" rx="1.0" ry="1.0" fill="#f6ef45" transform="rotate(53 289.5 600.3)"/><ellipse cx="180.5" cy="636.3" rx="0.5" ry="0.3" fill="#f6ef45" transform="rotate(23 180.5 636.3)"/><ellipse cx="228.6" cy="697.6" rx="0.6" ry="0.5" fill="#f6ef45" transform="rotate(59 228.6 697.6)"/><ellipse cx="176.4" cy="599.8" rx="1.1" ry="1.4" fill="#f6ef45" transform="rotate(13 176.4 599.8)"/><ellipse cx="222.3" cy="669.3" rx="0.9" ry="0.8" fill="#f6ef45" transform="rotate(55 222.3 669.3)"/><ellipse cx="288.9" cy="556.9" rx="0.9" ry="1.0" fill="#f6ef45" transform="rotate(18 288.9 556.9)"/><ellipse cx="175.6" cy="692.6" rx="1.2" ry="1.0" fill="#f6ef45" transform="rotate(40 175.6 692.6)"/><ellipse cx="169.3" cy="672.2" rx="1.3" ry="1.5" fill="#f6ef45" transform="rotate(39 169.3 672.2)"/><ellipse cx="298.4" cy="568.3" rx="0.6" ry="0.8" fill="#f6ef45" transform="rotate(68 298.4 568.3)"/><ellipse cx="284.7" cy="547.2" rx="1.4" ry="1.2" fill="#f6ef45" transform="rotate(32 284.7 547.2)"/><ellipse cx="197.2" cy="610.7" rx="0.6" ry="0.8" fill="#f6ef45" transform="rotate(4 197.2 610.7)"/><ellipse cx="261.9" cy="596.5" rx="0.7" ry="1.0" fill="#f6ef45" transform="rotate(72 261.9 596.5)"/><ellipse cx="289.6" cy="644.8" rx="1.4" ry="1.0" fill="#f6ef45" transform="rotate(55 289.6 644.8)"/><ellipse cx="181.8" cy="551.6" rx="1.0" ry="0.7" fill="#f6ef45" transform="rotate(79 181.8 551.6)"/><ellipse cx="271.4" cy="701.1" rx="1.0" ry="1.0" fill="#f6ef45" transform="rotate(40 271.4 701.1)"/><ellipse cx="201.6" cy="589.4" rx="1.0" ry="0.7" fill="#f6ef45" transform="rotate(48 201.6 589.4)"/><ellipse cx="265.7" cy="628.7" rx="0.7" ry="1.0" fill="#f6ef45" transform="rotate(43 265.7 628.7)"/><ellipse cx="145.7" cy="622.2" rx="1.1" ry="1.2" fill="#f6ef45" transform="rotate(64 145.7 622.2)"/><ellipse cx="179.6" cy="670.1" rx="1.4" ry="1.7" fill="#f6ef45" transform="rotate(84 179.6 670.1)"/><ellipse cx="118.4" cy="591.8" rx="1.2" ry="1.3" fill="#f6ef45" transform="rotate(62 118.4 591.8)"/><ellipse cx="161.5" cy="701.9" rx="1.4" ry="1.9" fill="#f6ef45" transform="rotate(43 161.5 701.9)"/><ellipse cx="233.5" cy="636.6" rx="0.5" ry="0.5" fill="#f6ef45" transform="rotate(32 233.5 636.6)"/><ellipse cx="172.9" cy="586.6" rx="0.8" ry="0.8" fill="#f6ef45" transform="rotate(86 172.9 586.6)"/><ellipse cx="261.2" cy="598.7" rx="1.3" ry="1.5" fill="#f6ef45" transform="rotate(52 261.2 598.7)"/><ellipse cx="177.5" cy="679.4" rx="1.5" ry="1.8" fill="#f6ef45" transform="rotate(46 177.5 679.4)"/><ellipse cx="290.9" cy="626.5" rx="1.1" ry="0.8" fill="#f6ef45" transform="rotate(46 290.9 626.5)"/><ellipse cx="287.3" cy="619.8" rx="1.3" ry="1.6" fill="#f6ef45" transform="rotate(53 287.3 619.8)"/><ellipse cx="144.1" cy="669.2" rx="1.2" ry="1.4" fill="#f6ef45" transform="rotate(53 144.1 669.2)"/><ellipse cx="168.6" cy="632.2" rx="1.5" ry="1.3" fill="#f6ef45" transform="rotate(3 168.6 632.2)"/><ellipse cx="148.6" cy="637.6" rx="1.2" ry="0.9" fill="#f6ef45" transform="rotate(87 148.6 637.6)"/><ellipse cx="145.8" cy="659.1" rx="1.7" ry="2.3" fill="#f6ef45" transform="rotate(21 145.8 659.1)"/><ellipse cx="122.1" cy="563.8" rx="0.9" ry="0.7" fill="#f6ef45" transform="rotate(24 122.1 563.8)"/><ellipse cx="214.5" cy="609.7" rx="0.9" ry="1.0" fill="#f6ef45" transform="rotate(9 214.5 609.7)"/><ellipse cx="222.4" cy="580.8" rx="1.6" ry="1.0" fill="#f6ef45" transform="rotate(51 222.4 580.8)"/><ellipse cx="290.0" cy="681.5" rx="1.5" ry="1.8" fill="#f6ef45" transform="rotate(70 290.0 681.5)"/><ellipse cx="181.9" cy="547.9" rx="1.2" ry="0.8" fill="#f6ef45" transform="rotate(69 181.9 547.9)"/><ellipse cx="207.9" cy="697.0" rx="0.9" ry="0.8" fill="#f6ef45" transform="rotate(16 207.9 697.0)"/><ellipse cx="190.4" cy="674.5" rx="1.3" ry="1.1" fill="#f6ef45" transform="rotate(18 190.4 674.5)"/><ellipse cx="141.3" cy="604.4" rx="1.1" ry="0.8" fill="#f6ef45" transform="rotate(17 141.3 604.4)"/><ellipse cx="225.8" cy="599.2" rx="1.6" ry="0.9" fill="#f6ef45" transform="rotate(13 225.8 599.2)"/><ellipse cx="173.0" cy="691.4" rx="1.1" ry="1.0" fill="#f6ef45" transform="rotate(72 173.0 691.4)"/><ellipse cx="182.3" cy="612.4" rx="0.8" ry="0.6" fill="#f6ef45" transform="rotate(90 182.3 612.4)"/><ellipse cx="183.0" cy="698.7" rx="1.6" ry="1.7" fill="#f6ef45" transform="rotate(33 183.0 698.7)"/><ellipse cx="250.6" cy="591.0" rx="0.8" ry="0.5" fill="#f6ef45" transform="rotate(39 250.6 591.0)"/><ellipse cx="204.0" cy="588.7" rx="1.1" ry="0.7" fill="#f6ef45" transform="rotate(79 204.0 588.7)"/><ellipse cx="291.7" cy="582.0" rx="0.5" ry="0.4" fill="#f6ef45" transform="rotate(50 291.7 582.0)"/><ellipse cx="114.5" cy="628.8" rx="0.8" ry="1.1" fill="#f6ef45" transform="rotate(4 114.5 628.8)"/><ellipse cx="157.9" cy="585.6" rx="0.7" ry="1.0" fill="#f6ef45" transform="rotate(37 157.9 585.6)"/><ellipse cx="204.1" cy="703.8" rx="1.1" ry="1.4" fill="#f6ef45" transform="rotate(15 204.1 703.8)"/><ellipse cx="115.0" cy="562.5" rx="0.8" ry="1.0" fill="#f6ef45" transform="rotate(78 115.0 562.5)"/><ellipse cx="167.5" cy="628.4" rx="1.1" ry="0.9" fill="#f6ef45" transform="rotate(75 167.5 628.4)"/><ellipse cx="136.8" cy="542.5" rx="1.2" ry="1.3" fill="#f6ef45" transform="rotate(13 136.8 542.5)"/><ellipse cx="278.0" cy="630.9" rx="0.5" ry="0.6" fill="#f6ef45" transform="rotate(54 278.0 630.9)"/><ellipse cx="223.2" cy="654.3" rx="1.6" ry="1.8" fill="#f6ef45" transform="rotate(49 223.2 654.3)"/><ellipse cx="201.0" cy="653.2" rx="1.4" ry="1.8" fill="#f6ef45" transform="rotate(59 201.0 653.2)"/><ellipse cx="267.2" cy="552.8" rx="1.5" ry="1.7" fill="#f6ef45" transform="rotate(55 267.2 552.8)"/><ellipse cx="220.9" cy="647.7" rx="1.1" ry="0.9" fill="#f6ef45" transform="rotate(21 220.9 647.7)"/><ellipse cx="201.5" cy="631.5" rx="1.1" ry="0.9" fill="#f6ef45" transform="rotate(19 201.5 631.5)"/><ellipse cx="191.6" cy="630.2" rx="0.6" ry="0.7" fill="#f6ef45" transform="rotate(34 191.6 630.2)"/><ellipse cx="265.3" cy="671.1" rx="1.3" ry="0.8" fill="#f6ef45" transform="rotate(54 265.3 671.1)"/><ellipse cx="295.0" cy="704.7" rx="1.3" ry="0.9" fill="#f6ef45" transform="rotate(15 295.0 704.7)"/><ellipse cx="153.0" cy="647.3" rx="1.6" ry="1.9" fill="#f6ef45" transform="rotate(17 153.0 647.3)"/><ellipse cx="297.9" cy="657.0" rx="1.0" ry="0.8" fill="#f6ef45" transform="rotate(23 297.9 657.0)"/><ellipse cx="189.4" cy="568.3" rx="1.2" ry="0.8" fill="#f6ef45" transform="rotate(13 189.4 568.3)"/><ellipse cx="235.5" cy="663.5" rx="0.8" ry="0.9" fill="#f6ef45" transform="rotate(15 235.5 663.5)"/><ellipse cx="250.8" cy="685.2" rx="0.7" ry="0.6" fill="#f6ef45" transform="rotate(40 250.8 685.2)"/><ellipse cx="240.2" cy="621.8" rx="0.9" ry="1.0" fill="#f6ef45" transform="rotate(7 240.2 621.8)"/><ellipse cx="137.8" cy="590.0" rx="1.2" ry="1.4" fill="#f6ef45" transform="rotate(37 137.8 590.0)"/><ellipse cx="282.2" cy="632.4" rx="1.2" ry="1.0" fill="#f6ef45" transform="rotate(70 282.2 632.4)"/><ellipse cx="156.1" cy="677.7" rx="0.8" ry="1.2" fill="#f6ef45" transform="rotate(30 156.1 677.7)"/><ellipse cx="273.5" cy="615.9" rx="1.0" ry="0.7" fill="#f6ef45" transform="rotate(2 273.5 615.9)"/><ellipse cx="234.5" cy="555.9" rx="1.3" ry="0.9" fill="#f6ef45" transform="rotate(15 234.5 555.9)"/><ellipse cx="206.7" cy="615.9" rx="1.0" ry="0.9" fill="#f6ef45" transform="rotate(41 206.7 615.9)"/><ellipse cx="132.1" cy="628.5" rx="1.2" ry="1.0" fill="#f6ef45" transform="rotate(19 132.1 628.5)"/><ellipse cx="288.6" cy="612.0" rx="1.5" ry="1.7" fill="#f6ef45" transform="rotate(10 288.6 612.0)"/><ellipse cx="293.9" cy="650.4" rx="1.5" ry="1.1" fill="#f6ef45" transform="rotate(79 293.9 650.4)"/><ellipse cx="182.3" cy="678.2" rx="0.8" ry="1.1" fill="#f6ef45" transform="rotate(90 182.3 678.2)"/><ellipse cx="177.2" cy="604.9" rx="0.7" ry="0.8" fill="#f6ef45" transform="rotate(82 177.2 604.9)"/><ellipse cx="167.3" cy="644.9" rx="1.7" ry="1.5" fill="#f6ef45" transform="rotate(4 167.3 644.9)"/><ellipse cx="222.8" cy="635.4" rx="1.4" ry="1.3" fill="#f6ef45" transform="rotate(12 222.8 635.4)"/><ellipse cx="118.9" cy="572.4" rx="0.7" ry="0.7" fill="#f6ef45" transform="rotate(61 118.9 572.4)"/><ellipse cx="235.7" cy="598.8" rx="1.0" ry="0.9" fill="#f6ef45" transform="rotate(79 235.7 598.8)"/><ellipse cx="284.4" cy="594.7" rx="1.1" ry="0.8" fill="#f6ef45" transform="rotate(83 284.4 594.7)"/><ellipse cx="141.7" cy="603.1" rx="1.0" ry="1.3" fill="#f6ef45" transform="rotate(19 141.7 603.1)"/><ellipse cx="215.2" cy="560.0" rx="1.5" ry="1.8" fill="#f6ef45" transform="rotate(86 215.2 560.0)"/><ellipse cx="156.0" cy="620.6" rx="0.5" ry="0.7" fill="#f6ef45" transform="rotate(47 156.0 620.6)"/><ellipse cx="171.1" cy="551.6" rx="0.5" ry="0.5" fill="#f6ef45" transform="rotate(19 171.1 551.6)"/><ellipse cx="134.0" cy="651.0" rx="0.8" ry="1.0" fill="#f6ef45" transform="rotate(20 134.0 651.0)"/><ellipse cx="118.3" cy="658.5" rx="1.2" ry="1.3" fill="#f6ef45" transform="rotate(79 118.3 658.5)"/><ellipse cx="187.0" cy="700.7" rx="0.9" ry="0.8" fill="#f6ef45" transform="rotate(59 187.0 700.7)"/><ellipse cx="179.6" cy="552.9" rx="1.7" ry="1.6" fill="#f6ef45" transform="rotate(30 179.6 552.9)"/><ellipse cx="144.8" cy="576.0" rx="0.6" ry="0.6" fill="#f6ef45" transform="rotate(34 144.8 576.0)"/><ellipse cx="113.2" cy="551.9" rx="1.4" ry="1.3" fill="#f6ef45" transform="rotate(5 113.2 551.9)"/><ellipse cx="118.2" cy="678.2" rx="1.5" ry="1.6" fill="#f6ef45" transform="rotate(12 118.2 678.2)"/><ellipse cx="246.0" cy="580.6" rx="1.5" ry="1.0" fill="#f6ef45" transform="rotate(60 246.0 580.6)"/><ellipse cx="122.1" cy="581.7" rx="0.6" ry="0.5" fill="#f6ef45" transform="rotate(7 122.1 581.7)"/><ellipse cx="121.0" cy="677.8" rx="1.0" ry="1.2" fill="#f6ef45" transform="rotate(4 121.0 677.8)"/><ellipse cx="289.7" cy="573.7" rx="1.3" ry="1.5" fill="#f6ef45" transform="rotate(24 289.7 573.7)"/><ellipse cx="211.4" cy="555.8" rx="0.9" ry="0.6" fill="#f6ef45" transform="rotate(69 211.4 555.8)"/><ellipse cx="296.2" cy="568.4" rx="0.6" ry="0.7" fill="#f6ef45" transform="rotate(79 296.2 568.4)"/><ellipse cx="115.3" cy="630.0" rx="1.1" ry="1.1" fill="#f6ef45" transform="rotate(48 115.3 630.0)"/><ellipse cx="209.7" cy="563.6" rx="0.5" ry="0.6" fill="#f6ef45" transform="rotate(88 209.7 563.6)"/><ellipse cx="196.0" cy="676.7" rx="0.8" ry="0.5" fill="#f6ef45" transform="rotate(39 196.0 676.7)"/><ellipse cx="202.4" cy="669.1" rx="0.8" ry="0.8" fill="#f6ef45" transform="rotate(16 202.4 669.1)"/><ellipse cx="136.3" cy="555.4" rx="0.8" ry="0.5" fill="#f6ef45" transform="rotate(54 136.3 555.4)"/><ellipse cx="293.0" cy="650.6" rx="0.8" ry="0.8" fill="#f6ef45" transform="rotate(31 293.0 650.6)"/><ellipse cx="121.0" cy="574.6" rx="0.8" ry="0.8" fill="#f6ef45" transform="rotate(12 121.0 574.6)"/><ellipse cx="125.4" cy="667.4" rx="1.0" ry="1.2" fill="#f6ef45" transform="rotate(0 125.4 667.4)"/><ellipse cx="279.6" cy="648.6" rx="1.4" ry="1.5" fill="#f6ef45" transform="rotate(56 279.6 648.6)"/><ellipse cx="138.8" cy="654.1" rx="1.4" ry="0.9" fill="#f6ef45" transform="rotate(6 138.8 654.1)"/><ellipse cx="243.1" cy="585.6" rx="1.5" ry="1.3" fill="#f6ef45" transform="rotate(16 243.1 585.6)"/><ellipse cx="172.1" cy="592.0" rx="0.7" ry="0.7" fill="#f6ef45" transform="rotate(41 172.1 592.0)"/><ellipse cx="165.4" cy="552.4" rx="1.4" ry="1.5" fill="#f6ef45" transform="rotate(3 165.4 552.4)"/><ellipse cx="134.8" cy="700.0" rx="1.5" ry="1.4" fill="#f6ef45" transform="rotate(33 134.8 700.0)"/><ellipse cx="289.5" cy="641.8" rx="0.8" ry="0.7" fill="#f6ef45" transform="rotate(46 289.5 641.8)"/><ellipse cx="149.6" cy="600.4" rx="0.7" ry="0.8" fill="#f6ef45" transform="rotate(20 149.6 600.4)"/><ellipse cx="247.9" cy="557.5" rx="1.1" ry="0.8" fill="#f6ef45" transform="rotate(90 247.9 557.5)"/><ellipse cx="138.9" cy="666.6" rx="1.0" ry="1.0" fill="#f6ef45" transform="rotate(42 138.9 666.6)"/><ellipse cx="171.3" cy="691.1" rx="1.1" ry="1.0" fill="#f6ef45" transform="rotate(56 171.3 691.1)"/><ellipse cx="121.1" cy="650.9" rx="0.7" ry="0.7" fill="#f6ef45" transform="rotate(62 121.1 650.9)"/><ellipse cx="223.5" cy="558.9" rx="1.5" ry="1.4" fill="#f6ef45" transform="rotate(6 223.5 558.9)"/><ellipse cx="150.8" cy="542.2" rx="1.6" ry="1.3" fill="#f6ef45" transform="rotate(90 150.8 542.2)"/><ellipse cx="276.9" cy="606.0" rx="0.8" ry="0.6" fill="#f6ef45" transform="rotate(25 276.9 606.0)"/><ellipse cx="168.7" cy="626.1" rx="1.4" ry="1.7" fill="#f6ef45" transform="rotate(46 168.7 626.1)"/><ellipse cx="177.8" cy="582.5" rx="1.7" ry="2.1" fill="#f6ef45" transform="rotate(7 177.8 582.5)"/><ellipse cx="227.6" cy="607.3" rx="0.7" ry="0.8" fill="#f6ef45" transform="rotate(62 227.6 607.3)"/><ellipse cx="183.4" cy="557.3" rx="1.0" ry="1.2" fill="#f6ef45" transform="rotate(36 183.4 557.3)"/><ellipse cx="280.3" cy="574.5" rx="1.5" ry="1.3" fill="#f6ef45" transform="rotate(87 280.3 574.5)"/><ellipse cx="199.9" cy="629.0" rx="0.6" ry="0.5" fill="#f6ef45" transform="rotate(88 199.9 629.0)"/><ellipse cx="113.9" cy="625.4" rx="1.2" ry="0.9" fill="#f6ef45" transform="rotate(49 113.9 625.4)"/><ellipse cx="116.2" cy="652.5" rx="1.2" ry="1.2" fill="#f6ef45" transform="rotate(64 116.2 652.5)"/><ellipse cx="201.0" cy="656.6" rx="1.0" ry="1.4" fill="#f6ef45" transform="rotate(74 201.0 656.6)"/><ellipse cx="284.8" cy="654.9" rx="1.3" ry="1.3" fill="#f6ef45" transform="rotate(53 284.8 654.9)"/><ellipse cx="179.8" cy="638.7" rx="1.3" ry="1.3" fill="#f6ef45" transform="rotate(36 179.8 638.7)"/><ellipse cx="165.6" cy="546.5" rx="1.4" ry="1.6" fill="#f6ef45" transform="rotate(52 165.6 546.5)"/><ellipse cx="169.4" cy="693.5" rx="0.8" ry="1.0" fill="#f6ef45" transform="rotate(9 169.4 693.5)"/><ellipse cx="119.1" cy="556.4" rx="1.7" ry="1.4" fill="#f6ef45" transform="rotate(44 119.1 556.4)"/><ellipse cx="240.6" cy="678.6" rx="1.4" ry="1.5" fill="#f6ef45" transform="rotate(26 240.6 678.6)"/><ellipse cx="202.3" cy="557.0" rx="0.6" ry="0.6" fill="#f6ef45" transform="rotate(69 202.3 557.0)"/><ellipse cx="191.2" cy="700.0" rx="1.3" ry="1.2" fill="#f6ef45" transform="rotate(83 191.2 700.0)"/><ellipse cx="210.8" cy="575.8" rx="1.3" ry="1.1" fill="#f6ef45" transform="rotate(41 210.8 575.8)"/><ellipse cx="132.4" cy="654.3" rx="1.2" ry="1.4" fill="#f6ef45" transform="rotate(47 132.4 654.3)"/><ellipse cx="158.6" cy="558.3" rx="0.9" ry="1.1" fill="#f6ef45" transform="rotate(79 158.6 558.3)"/><ellipse cx="126.6" cy="696.9" rx="0.6" ry="0.6" fill="#f6ef45" transform="rotate(23 126.6 696.9)"/><ellipse cx="154.0" cy="552.2" rx="1.2" ry="1.5" fill="#f6ef45" transform="rotate(69 154.0 552.2)"/><ellipse cx="248.1" cy="609.9" rx="1.0" ry="1.0" fill="#f6ef45" transform="rotate(31 248.1 609.9)"/><ellipse cx="168.5" cy="587.8" rx="1.2" ry="1.7" fill="#f6ef45" transform="rotate(23 168.5 587.8)"/><ellipse cx="190.9" cy="566.3" rx="0.9" ry="0.9" fill="#f6ef45" transform="rotate(72 190.9 566.3)"/><ellipse cx="146.4" cy="573.0" rx="1.2" ry="1.4" fill="#f6ef45" transform="rotate(88 146.4 573.0)"/><ellipse cx="173.7" cy="554.4" rx="1.6" ry="1.2" fill="#f6ef45" transform="rotate(66 173.7 554.4)"/><ellipse cx="291.0" cy="593.9" rx="1.5" ry="1.7" fill="#f6ef45" transform="rotate(29 291.0 593.9)"/><ellipse cx="279.1" cy="642.3" rx="1.5" ry="1.9" fill="#f6ef45" transform="rotate(0 279.1 642.3)"/><ellipse cx="148.2" cy="567.5" rx="0.6" ry="0.4" fill="#f6ef45" transform="rotate(78 148.2 567.5)"/><ellipse cx="254.2" cy="635.7" rx="1.0" ry="0.9" fill="#f6ef45" transform="rotate(23 254.2 635.7)"/><ellipse cx="245.3" cy="692.6" rx="1.6" ry="1.8" fill="#f6ef45" transform="rotate(13 245.3 692.6)"/><ellipse cx="180.3" cy="674.7" rx="0.7" ry="0.6" fill="#f6ef45" transform="rotate(22 180.3 674.7)"/><ellipse cx="197.8" cy="652.9" rx="1.4" ry="0.9" fill="#f6ef45" transform="rotate(51 197.8 652.9)"/><ellipse cx="288.0" cy="618.0" rx="0.5" ry="0.7" fill="#f6ef45" transform="rotate(47 288.0 618.0)"/><ellipse cx="136.8" cy="542.5" rx="1.0" ry="0.8" fill="#f6ef45" transform="rotate(9 136.8 542.5)"/><ellipse cx="203.8" cy="694.8" rx="1.4" ry="0.8" fill="#f6ef45" transform="rotate(61 203.8 694.8)"/><ellipse cx="298.8" cy="664.4" rx="0.7" ry="0.6" fill="#f6ef45" transform="rotate(18 298.8 664.4)"/><ellipse cx="166.3" cy="623.3" rx="1.3" ry="1.6" fill="#f6ef45" transform="rotate(73 166.3 623.3)"/><ellipse cx="132.5" cy="608.5" rx="1.6" ry="1.1" fill="#f6ef45" transform="rotate(55 132.5 608.5)"/><ellipse cx="121.4" cy="610.6" rx="0.8" ry="0.9" fill="#f6ef45" transform="rotate(9 121.4 610.6)"/><ellipse cx="139.3" cy="699.7" rx="1.2" ry="1.1" fill="#f6ef45" transform="rotate(23 139.3 699.7)"/><ellipse cx="213.2" cy="605.0" rx="1.6" ry="1.1" fill="#f6ef45" transform="rotate(45 213.2 605.0)"/><ellipse cx="136.1" cy="555.6" rx="1.5" ry="1.1" fill="#f6ef45" transform="rotate(2 136.1 555.6)"/><ellipse cx="116.0" cy="633.7" rx="1.6" ry="2.1" fill="#f6ef45" transform="rotate(10 116.0 633.7)"/><ellipse cx="121.9" cy="577.6" rx="1.7" ry="1.6" fill="#f6ef45" transform="rotate(60 121.9 577.6)"/><ellipse cx="209.1" cy="697.8" rx="1.2" ry="1.5" fill="#f6ef45" transform="rotate(60 209.1 697.8)"/><ellipse cx="207.0" cy="550.6" rx="1.0" ry="1.2" fill="#f6ef45" transform="rotate(55 207.0 550.6)"/><ellipse cx="272.8" cy="695.2" rx="1.3" ry="1.4" fill="#f6ef45" transform="rotate(75 272.8 695.2)"/><ellipse cx="118.7" cy="545.9" rx="1.4" ry="1.3" fill="#f6ef45" transform="rotate(55 118.7 545.9)"/><ellipse cx="283.2" cy="603.7" rx="1.7" ry="2.0" fill="#f6ef45" transform="rotate(43 283.2 603.7)"/><ellipse cx="139.7" cy="669.3" rx="1.0" ry="1.4" fill="#f6ef45" transform="rotate(47 139.7 669.3)"/><ellipse cx="152.5" cy="610.7" rx="0.8" ry="0.8" fill="#f6ef45" transform="rotate(36 152.5 610.7)"/><ellipse cx="112.4" cy="645.2" rx="1.4" ry="1.7" fill="#f6ef45" transform="rotate(9 112.4 645.2)"/><ellipse cx="125.8" cy="604.1" rx="1.6" ry="2.1" fill="#f6ef45" transform="rotate(25 125.8 604.1)"/><ellipse cx="233.2" cy="663.8" rx="1.1" ry="0.9" fill="#f6ef45" transform="rotate(58 233.2 663.8)"/><ellipse cx="137.5" cy="580.6" rx="1.6" ry="2.2" fill="#f6ef45" transform="rotate(3 137.5 580.6)"/><ellipse cx="114.7" cy="674.4" rx="0.6" ry="0.4" fill="#f6ef45" transform="rotate(83 114.7 674.4)"/><ellipse cx="181.7" cy="668.4" rx="0.7" ry="0.7" fill="#f6ef45" transform="rotate(89 181.7 668.4)"/><ellipse cx="216.3" cy="588.2" rx="0.6" ry="0.6" fill="#f6ef45" transform="rotate(38 216.3 588.2)"/><ellipse cx="180.9" cy="619.9" rx="1.2" ry="1.6" fill="#f6ef45" transform="rotate(30 180.9 619.9)"/><ellipse cx="292.5" cy="564.9" rx="0.5" ry="0.3" fill="#f6ef45" transform="rotate(49 292.5 564.9)"/><ellipse cx="137.0" cy="620.4" rx="1.3" ry="0.8" fill="#f6ef45" transform="rotate(27 137.0 620.4)"/><ellipse cx="190.3" cy="624.2" rx="1.2" ry="1.5" fill="#f6ef45" transform="rotate(7 190.3 624.2)"/><ellipse cx="262.4" cy="580.9" rx="1.3" ry="1.7" fill="#f6ef45" transform="rotate(2 262.4 580.9)"/><ellipse cx="216.3" cy="613.7" rx="0.6" ry="0.4" fill="#f6ef45" transform="rotate(47 216.3 613.7)"/><ellipse cx="218.3" cy="586.9" rx="1.2" ry="1.3" fill="#f6ef45" transform="rotate(49 218.3 586.9)"/><ellipse cx="296.8" cy="591.2" rx="0.7" ry="0.9" fill="#f6ef45" transform="rotate(9 296.8 591.2)"/><ellipse cx="232.6" cy="551.0" rx="0.8" ry="0.8" fill="#f6ef45" transform="rotate(12 232.6 551.0)"/><ellipse cx="284.9" cy="590.8" rx="1.2" ry="1.5" fill="#f6ef45" transform="rotate(17 284.9 590.8)"/><ellipse cx="197.3" cy="552.3" rx="0.5" ry="0.5" fill="#f6ef45" transform="rotate(72 197.3 552.3)"/><ellipse cx="196.9" cy="551.8" rx="0.6" ry="0.5" fill="#f6ef45" transform="rotate(18 196.9 551.8)"/><ellipse cx="182.0" cy="597.5" rx="1.5" ry="1.5" fill="#f6ef45" transform="rotate(18 182.0 597.5)"/><ellipse cx="250.6" cy="584.7" rx="1.5" ry="1.6" fill="#f6ef45" transform="rotate(49 250.6 584.7)"/><ellipse cx="143.1" cy="670.6" rx="1.3" ry="1.4" fill="#f6ef45" transform="rotate(56 143.1 670.6)"/><ellipse cx="283.1" cy="678.3" rx="1.2" ry="1.3" fill="#f6ef45" transform="rotate(45 283.1 678.3)"/><ellipse cx="216.9" cy="543.6" rx="0.6" ry="0.7" fill="#f6ef45" transform="rotate(63 216.9 543.6)"/><ellipse cx="238.0" cy="647.9" rx="0.5" ry="0.5" fill="#f6ef45" transform="rotate(52 238.0 647.9)"/><ellipse cx="246.8" cy="641.6" rx="1.2" ry="1.0" fill="#f6ef45" transform="rotate(89 246.8 641.6)"/><ellipse cx="132.8" cy="552.4" rx="1.3" ry="0.9" fill="#f6ef45" transform="rotate(8 132.8 552.4)"/><ellipse cx="245.9" cy="591.5" rx="1.1" ry="1.2" fill="#f6ef45" transform="rotate(8 245.9 591.5)"/><ellipse cx="290.9" cy="652.8" rx="0.8" ry="0.8" fill="#f6ef45" transform="rotate(39 290.9 652.8)"/><ellipse cx="160.4" cy="590.7" rx="0.5" ry="0.6" fill="#f6ef45" transform="rotate(66 160.4 590.7)"/><ellipse cx="235.0" cy="623.2" rx="1.0" ry="1.1" fill="#f6ef45" transform="rotate(33 235.0 623.2)"/><ellipse cx="170.8" cy="641.7" rx="1.0" ry="0.8" fill="#f6ef45" transform="rotate(10 170.8 641.7)"/><ellipse cx="231.7" cy="613.4" rx="1.1" ry="1.0" fill="#f6ef45" transform="rotate(25 231.7 613.4)"/><ellipse cx="138.0" cy="622.1" rx="1.3" ry="1.3" fill="#f6ef45" transform="rotate(73 138.0 622.1)"/><ellipse cx="176.3" cy="544.8" rx="1.0" ry="1.1" fill="#f6ef45" transform="rotate(64 176.3 544.8)"/><ellipse cx="212.3" cy="688.7" rx="1.2" ry="1.3" fill="#f6ef45" transform="rotate(53 212.3 688.7)"/><ellipse cx="215.3" cy="583.0" rx="0.9" ry="1.0" fill="#f6ef45" transform="rotate(25 215.3 583.0)"/><ellipse cx="160.5" cy="600.3" rx="1.6" ry="1.3" fill="#f6ef45" transform="rotate(80 160.5 600.3)"/><ellipse cx="244.6" cy="556.1" rx="1.5" ry="1.7" fill="#f6ef45" transform="rotate(14 244.6 556.1)"/><ellipse cx="174.9" cy="558.8" rx="1.3" ry="1.6" fill="#f6ef45" transform="rotate(74 174.9 558.8)"/><ellipse cx="145.4" cy="668.6" rx="1.2" ry="0.8" fill="#f6ef45" transform="rotate(42 145.4 668.6)"/><ellipse cx="247.4" cy="584.5" rx="1.0" ry="0.9" fill="#f6ef45" transform="rotate(12 247.4 584.5)"/><ellipse cx="170.3" cy="589.7" rx="0.9" ry="1.3" fill="#f6ef45" transform="rotate(52 170.3 589.7)"/><ellipse cx="123.7" cy="591.1" rx="0.7" ry="1.0" fill="#f6ef45" transform="rotate(64 123.7 591.1)"/><ellipse cx="188.0" cy="617.3" rx="0.6" ry="0.5" fill="#f6ef45" transform="rotate(72 188.0 617.3)"/><ellipse cx="213.2" cy="648.2" rx="1.3" ry="1.1" fill="#f6ef45" transform="rotate(46 213.2 648.2)"/><ellipse cx="288.9" cy="618.0" rx="0.6" ry="0.8" fill="#f6ef45" transform="rotate(14 288.9 618.0)"/><ellipse cx="227.0" cy="557.5" rx="1.3" ry="1.5" fill="#f6ef45" transform="rotate(48 227.0 557.5)"/><ellipse cx="193.8" cy="586.4" rx="1.2" ry="1.6" fill="#f6ef45" transform="rotate(54 193.8 586.4)"/><ellipse cx="119.3" cy="685.8" rx="1.7" ry="1.2" fill="#f6ef45" transform="rotate(84 119.3 685.8)"/><ellipse cx="230.5" cy="691.8" rx="0.9" ry="1.1" fill="#f6ef45" transform="rotate(67 230.5 691.8)"/><ellipse cx="125.3" cy="591.9" rx="1.5" ry="1.7" fill="#f6ef45" transform="rotate(39 125.3 591.9)"/><ellipse cx="194.9" cy="691.6" rx="1.2" ry="1.2" fill="#f6ef45" transform="rotate(36 194.9 691.6)"/><ellipse cx="143.0" cy="644.5" rx="1.0" ry="1.0" fill="#f6ef45" transform="rotate(90 143.0 644.5)"/><ellipse cx="225.1" cy="563.9" rx="0.7" ry="0.9" fill="#f6ef45" transform="rotate(13 225.1 563.9)"/><ellipse cx="195.3" cy="580.1" rx="0.8" ry="0.9" fill="#f6ef45" transform="rotate(57 195.3 580.1)"/><ellipse cx="160.1" cy="617.6" rx="1.3" ry="1.6" fill="#f6ef45" transform="rotate(61 160.1 617.6)"/><ellipse cx="131.7" cy="636.6" rx="0.8" ry="0.7" fill="#f6ef45" transform="rotate(6 131.7 636.6)"/><ellipse cx="213.5" cy="632.5" rx="0.7" ry="0.5" fill="#f6ef45" transform="rotate(73 213.5 632.5)"/><ellipse cx="222.7" cy="646.2" rx="1.1" ry="1.4" fill="#f6ef45" transform="rotate(77 222.7 646.2)"/><ellipse cx="164.7" cy="596.4" rx="1.6" ry="1.1" fill="#f6ef45" transform="rotate(53 164.7 596.4)"/><ellipse cx="167.0" cy="602.4" rx="1.4" ry="1.2" fill="#f6ef45" transform="rotate(24 167.0 602.4)"/><ellipse cx="253.6" cy="660.7" rx="0.5" ry="0.7" fill="#f6ef45" transform="rotate(39 253.6 660.7)"/><ellipse cx="292.2" cy="610.0" rx="0.8" ry="1.1" fill="#f6ef45" transform="rotate(75 292.2 610.0)"/><ellipse cx="238.4" cy="597.4" rx="1.4" ry="1.4" fill="#f6ef45" transform="rotate(88 238.4 597.4)"/><ellipse cx="226.9" cy="671.8" rx="0.7" ry="0.7" fill="#f6ef45" transform="rotate(0 226.9 671.8)"/><ellipse cx="212.8" cy="620.7" rx="1.1" ry="1.0" fill="#f6ef45" transform="rotate(29 212.8 620.7)"/><ellipse cx="212.1" cy="620.0" rx="0.6" ry="0.5" fill="#f6ef45" transform="rotate(21 212.1 620.0)"/><ellipse cx="271.4" cy="580.8" rx="1.5" ry="1.7" fill="#f6ef45" transform="rotate(49 271.4 580.8)"/><ellipse cx="190.1" cy="682.7" rx="1.3" ry="1.7" fill="#f6ef45" transform="rotate(26 190.1 682.7)"/><ellipse cx="234.8" cy="636.8" rx="1.4" ry="1.4" fill="#f6ef45" transform="rotate(55 234.8 636.8)"/><ellipse cx="220.9" cy="578.4" rx="0.6" ry="0.6" fill="#f6ef45" transform="rotate(70 220.9 578.4)"/><ellipse cx="253.7" cy="614.5" rx="1.3" ry="0.9" fill="#f6ef45" transform="rotate(33 253.7 614.5)"/><ellipse cx="211.2" cy="542.4" rx="1.0" ry="1.0" fill="#f6ef45" transform="rotate(24 211.2 542.4)"/><ellipse cx="255.3" cy="559.3" rx="1.0" ry="1.0" fill="#f6ef45" transform="rotate(60 255.3 559.3)"/><ellipse cx="201.1" cy="627.0" rx="0.5" ry="0.7" fill="#f6ef45" transform="rotate(78 201.1 627.0)"/><ellipse cx="228.6" cy="678.1" rx="1.2" ry="1.5" fill="#f6ef45" transform="rotate(79 228.6 678.1)"/><ellipse cx="150.2" cy="648.2" rx="1.0" ry="1.0" fill="#f6ef45" transform="rotate(8 150.2 648.2)"/><ellipse cx="242.2" cy="574.8" rx="1.1" ry="1.5" fill="#f6ef45" transform="rotate(22 242.2 574.8)"/><ellipse cx="153.2" cy="542.5" rx="1.0" ry="0.9" fill="#f6ef45" transform="rotate(49 153.2 542.5)"/><ellipse cx="185.2" cy="667.8" rx="0.6" ry="0.6" fill="#f6ef45" transform="rotate(24 185.2 667.8)"/><ellipse cx="152.6" cy="607.6" rx="1.0" ry="1.0" fill="#f6ef45" transform="rotate(3 152.6 607.6)"/><ellipse cx="163.2" cy="627.5" rx="0.7" ry="0.9" fill="#f6ef45" transform="rotate(87 163.2 627.5)"/><ellipse cx="161.9" cy="557.0" rx="0.8" ry="0.7" fill="#f6ef45" transform="rotate(53 161.9 557.0)"/><ellipse cx="266.1" cy="688.7" rx="1.2" ry="1.5" fill="#f6ef45" transform="rotate(56 266.1 688.7)"/><ellipse cx="249.0" cy="575.0" rx="1.2" ry="1.4" fill="#f6ef45" transform="rotate(5 249.0 575.0)"/><ellipse cx="147.9" cy="629.0" rx="1.5" ry="1.3" fill="#f6ef45" transform="rotate(12 147.9 629.0)"/><ellipse cx="244.5" cy="612.6" rx="1.5" ry="1.6" fill="#f6ef45" transform="rotate(23 244.5 612.6)"/><ellipse cx="113.3" cy="566.3" rx="1.0" ry="0.7" fill="#f6ef45" transform="rotate(0 113.3 566.3)"/><ellipse cx="243.1" cy="618.1" rx="1.5" ry="2.0" fill="#f6ef45" transform="rotate(10 243.1 618.1)"/><ellipse cx="203.2" cy="601.9" rx="1.7" ry="2.0" fill="#f6ef45" transform="rotate(47 203.2 601.9)"/><ellipse cx="253.6" cy="619.9" rx="1.5" ry="1.4" fill="#f6ef45" transform="rotate(42 253.6 619.9)"/><ellipse cx="225.7" cy="629.5" rx="0.7" ry="0.7" fill="#f6ef45" transform="rotate(56 225.7 629.5)"/><ellipse cx="294.9" cy="544.7" rx="1.1" ry="0.7" fill="#f6ef45" transform="rotate(65 294.9 544.7)"/><ellipse cx="125.3" cy="629.5" rx="0.8" ry="0.9" fill="#f6ef45" transform="rotate(76 125.3 629.5)"/><ellipse cx="170.7" cy="555.2" rx="0.9" ry="0.7" fill="#f6ef45" transform="rotate(44 170.7 555.2)"/><ellipse cx="272.2" cy="668.9" rx="0.9" ry="1.0" fill="#f6ef45" transform="rotate(15 272.2 668.9)"/><ellipse cx="285.3" cy="687.1" rx="1.4" ry="1.8" fill="#f6ef45" transform="rotate(87 285.3 687.1)"/><ellipse cx="231.0" cy="548.6" rx="1.1" ry="1.1" fill="#f6ef45" transform="rotate(56 231.0 548.6)"/><ellipse cx="168.8" cy="611.1" rx="1.2" ry="1.3" fill="#f6ef45" transform="rotate(86 168.8 611.1)"/><ellipse cx="208.6" cy="685.6" rx="1.5" ry="1.6" fill="#f6ef45" transform="rotate(9 208.6 685.6)"/><ellipse cx="286.1" cy="589.6" rx="0.6" ry="0.5" fill="#f6ef45" transform="rotate(54 286.1 589.6)"/><ellipse cx="128.4" cy="597.8" rx="0.8" ry="0.9" fill="#f6ef45" transform="rotate(59 128.4 597.8)"/><ellipse cx="172.8" cy="677.3" rx="1.1" ry="0.7" fill="#f6ef45" transform="rotate(57 172.8 677.3)"/><ellipse cx="243.0" cy="693.7" rx="1.2" ry="1.6" fill="#f6ef45" transform="rotate(39 243.0 693.7)"/><ellipse cx="161.4" cy="676.0" rx="1.1" ry="1.0" fill="#f6ef45" transform="rotate(64 161.4 676.0)"/><ellipse cx="129.5" cy="625.2" rx="1.6" ry="1.5" fill="#f6ef45" transform="rotate(25 129.5 625.2)"/><ellipse cx="227.0" cy="608.1" rx="1.0" ry="0.7" fill="#f6ef45" transform="rotate(56 227.0 608.1)"/><ellipse cx="172.4" cy="548.2" rx="1.4" ry="1.4" fill="#f6ef45" transform="rotate(75 172.4 548.2)"/><ellipse cx="132.2" cy="543.5" rx="0.7" ry="0.6" fill="#f6ef45" transform="rotate(72 132.2 543.5)"/><ellipse cx="132.3" cy="665.1" rx="1.6" ry="1.0" fill="#f6ef45" transform="rotate(10 132.3 665.1)"/><circle cx="167.1" cy="589.6" r="0.4" fill="#f3ee60"/><circle cx="192.8" cy="579.8" r="0.4" fill="#f3ee60"/><circle cx="193.1" cy="590.3" r="0.4" fill="#f3ee60"/><circle cx="241.9" cy="628.1" r="0.4" fill="#f3ee60"/><circle cx="298.4" cy="633.9" r="0.4" fill="#f3ee60"/><circle cx="185.9" cy="618.0" r="0.4" fill="#f3ee60"/><circle cx="198.5" cy="548.3" r="0.4" fill="#f3ee60"/><circle cx="180.3" cy="704.5" r="0.4" fill="#f3ee60"/><circle cx="270.9" cy="556.4" r="0.4" fill="#f3ee60"/><circle cx="193.8" cy="586.6" r="0.4" fill="#f3ee60"/><circle cx="284.1" cy="597.4" r="0.4" fill="#f3ee60"/><circle cx="229.4" cy="560.8" r="0.4" fill="#f3ee60"/><circle cx="187.2" cy="615.2" r="0.4" fill="#f3ee60"/><circle cx="161.5" cy="565.6" r="0.4" fill="#f3ee60"/><circle cx="261.7" cy="630.4" r="0.4" fill="#f3ee60"/><circle cx="178.8" cy="571.5" r="0.4" fill="#f3ee60"/><circle cx="296.0" cy="543.5" r="0.4" fill="#f3ee60"/><circle cx="239.8" cy="593.4" r="0.4" fill="#f3ee60"/><circle cx="148.4" cy="567.4" r="0.4" fill="#f3ee60"/><circle cx="282.4" cy="626.1" r="0.4" fill="#f3ee60"/><circle cx="134.1" cy="603.6" r="0.4" fill="#f3ee60"/><circle cx="148.3" cy="573.5" r="0.4" fill="#f3ee60"/><circle cx="187.9" cy="654.7" r="0.4" fill="#f3ee60"/><circle cx="275.7" cy="650.9" r="0.4" fill="#f3ee60"/><circle cx="116.9" cy="560.5" r="0.4" fill="#f3ee60"/><circle cx="215.7" cy="558.2" r="0.4" fill="#f3ee60"/><circle cx="175.0" cy="598.7" r="0.4" fill="#f3ee60"/><circle cx="270.4" cy="544.1" r="0.4" fill="#f3ee60"/><circle cx="148.7" cy="547.4" r="0.4" fill="#f3ee60"/><circle cx="200.9" cy="575.4" r="0.4" fill="#f3ee60"/><circle cx="284.3" cy="703.8" r="0.4" fill="#f3ee60"/><circle cx="173.7" cy="593.3" r="0.4" fill="#f3ee60"/><circle cx="180.8" cy="544.8" r="0.4" fill="#f3ee60"/><circle cx="242.7" cy="665.7" r="0.4" fill="#f3ee60"/><circle cx="132.3" cy="655.0" r="0.4" fill="#f3ee60"/><circle cx="134.4" cy="688.5" r="0.4" fill="#f3ee60"/><circle cx="230.6" cy="667.9" r="0.4" fill="#f3ee60"/><circle cx="279.4" cy="637.3" r="0.4" fill="#f3ee60"/><circle cx="284.4" cy="599.2" r="0.4" fill="#f3ee60"/><circle cx="175.1" cy="609.0" r="0.4" fill="#f3ee60"/><circle cx="257.3" cy="591.9" r="0.4" fill="#f3ee60"/><circle cx="185.2" cy="581.3" r="0.4" fill="#f3ee60"/><circle cx="292.1" cy="678.6" r="0.4" fill="#f3ee60"/><circle cx="255.5" cy="618.6" r="0.4" fill="#f3ee60"/><circle cx="155.4" cy="551.0" r="0.4" fill="#f3ee60"/><circle cx="251.6" cy="665.2" r="0.4" fill="#f3ee60"/><circle cx="288.4" cy="577.6" r="0.4" fill="#f3ee60"/><circle cx="236.4" cy="557.8" r="0.4" fill="#f3ee60"/><circle cx="202.6" cy="654.1" r="0.4" fill="#f3ee60"/><circle cx="112.7" cy="566.0" r="0.4" fill="#f3ee60"/><circle cx="250.6" cy="692.7" r="0.4" fill="#f3ee60"/><circle cx="171.8" cy="581.3" r="0.4" fill="#f3ee60"/><circle cx="226.9" cy="543.1" r="0.4" fill="#f3ee60"/><circle cx="242.3" cy="542.3" r="0.4" fill="#f3ee60"/><circle cx="289.0" cy="627.1" r="0.4" fill="#f3ee60"/><circle cx="178.1" cy="585.7" r="0.4" fill="#f3ee60"/><circle cx="152.3" cy="679.0" r="0.4" fill="#f3ee60"/><circle cx="221.2" cy="615.8" r="0.4" fill="#f3ee60"/><circle cx="240.2" cy="638.5" r="0.4" fill="#f3ee60"/><circle cx="149.2" cy="690.3" r="0.4" fill="#f3ee60"/><circle cx="217.5" cy="556.5" r="0.4" fill="#f3ee60"/><circle cx="156.3" cy="604.4" r="0.4" fill="#f3ee60"/><circle cx="232.9" cy="577.5" r="0.4" fill="#f3ee60"/><circle cx="269.4" cy="564.6" r="0.4" fill="#f3ee60"/><circle cx="254.1" cy="569.6" r="0.4" fill="#f3ee60"/><circle cx="225.3" cy="642.3" r="0.4" fill="#f3ee60"/><circle cx="268.7" cy="639.2" r="0.4" fill="#f3ee60"/><circle cx="153.5" cy="613.6" r="0.4" fill="#f3ee60"/><circle cx="169.2" cy="583.4" r="0.4" fill="#f3ee60"/><circle cx="223.6" cy="638.1" r="0.4" fill="#f3ee60"/><circle cx="261.7" cy="648.0" r="0.4" fill="#f3ee60"/><circle cx="238.5" cy="646.3" r="0.4" fill="#f3ee60"/><circle cx="218.1" cy="696.0" r="0.4" fill="#f3ee60"/><circle cx="297.4" cy="544.3" r="0.4" fill="#f3ee60"/><circle cx="114.6" cy="568.9" r="0.4" fill="#f3ee60"/><circle cx="141.9" cy="670.2" r="0.4" fill="#f3ee60"/><circle cx="182.9" cy="678.6" r="0.4" fill="#f3ee60"/><circle cx="271.3" cy="640.7" r="0.4" fill="#f3ee60"/><circle cx="175.1" cy="573.6" r="0.4" fill="#f3ee60"/><circle cx="214.5" cy="644.8" r="0.4" fill="#f3ee60"/><circle cx="250.7" cy="641.5" r="0.4" fill="#f3ee60"/><circle cx="269.5" cy="690.9" r="0.4" fill="#f3ee60"/><circle cx="145.8" cy="631.0" r="0.4" fill="#f3ee60"/><circle cx="149.1" cy="658.8" r="0.4" fill="#f3ee60"/><circle cx="163.8" cy="676.8" r="0.4" fill="#f3ee60"/><circle cx="162.6" cy="646.3" r="0.4" fill="#f3ee60"/><circle cx="170.3" cy="560.4" r="0.4" fill="#f3ee60"/><circle cx="157.5" cy="640.4" r="0.4" fill="#f3ee60"/><circle cx="288.4" cy="673.4" r="0.4" fill="#f3ee60"/><circle cx="182.8" cy="673.7" r="0.4" fill="#f3ee60"/><circle cx="124.6" cy="606.4" r="0.4" fill="#f3ee60"/><circle cx="295.1" cy="608.2" r="0.4" fill="#f3ee60"/><circle cx="278.7" cy="702.8" r="0.4" fill="#f3ee60"/><circle cx="287.6" cy="552.1" r="0.4" fill="#f3ee60"/><circle cx="296.8" cy="606.9" r="0.4" fill="#f3ee60"/><circle cx="223.9" cy="574.8" r="0.4" fill="#f3ee60"/><circle cx="256.3" cy="584.1" r="0.4" fill="#f3ee60"/><circle cx="206.1" cy="570.6" r="0.4" fill="#f3ee60"/><circle cx="192.7" cy="673.7" r="0.4" fill="#f3ee60"/><circle cx="238.6" cy="568.5" r="0.4" fill="#f3ee60"/><circle cx="183.7" cy="676.6" r="0.4" fill="#f3ee60"/><circle cx="272.1" cy="692.6" r="0.4" fill="#f3ee60"/><circle cx="217.8" cy="670.0" r="0.4" fill="#f3ee60"/><circle cx="235.5" cy="588.1" r="0.4" fill="#f3ee60"/><circle cx="295.4" cy="610.0" r="0.4" fill="#f3ee60"/><circle cx="201.7" cy="680.6" r="0.4" fill="#f3ee60"/><circle cx="144.9" cy="674.2" r="0.4" fill="#f3ee60"/><circle cx="202.0" cy="622.0" r="0.4" fill="#f3ee60"/><circle cx="230.0" cy="580.9" r="0.4" fill="#f3ee60"/><circle cx="156.2" cy="657.8" r="0.4" fill="#f3ee60"/><circle cx="153.2" cy="565.9" r="0.4" fill="#f3ee60"/><circle cx="135.0" cy="614.7" r="0.4" fill="#f3ee60"/><circle cx="199.6" cy="648.1" r="0.4" fill="#f3ee60"/><circle cx="114.1" cy="652.1" r="0.4" fill="#f3ee60"/><circle cx="114.6" cy="655.8" r="0.4" fill="#f3ee60"/><circle cx="239.1" cy="564.9" r="0.4" fill="#f3ee60"/><circle cx="132.9" cy="549.6" r="0.4" fill="#f3ee60"/><circle cx="254.4" cy="679.3" r="0.4" fill="#f3ee60"/><circle cx="194.5" cy="571.9" r="0.4" fill="#f3ee60"/><circle cx="134.3" cy="545.3" r="0.4" fill="#f3ee60"/><circle cx="259.5" cy="613.0" r="0.4" fill="#f3ee60"/><circle cx="297.1" cy="626.7" r="0.4" fill="#f3ee60"/><circle cx="253.3" cy="597.4" r="0.4" fill="#f3ee60"/><circle cx="153.9" cy="568.7" r="0.4" fill="#f3ee60"/><circle cx="207.8" cy="680.2" r="0.4" fill="#f3ee60"/><circle cx="279.1" cy="594.7" r="0.4" fill="#f3ee60"/><circle cx="256.0" cy="637.8" r="0.4" fill="#f3ee60"/><circle cx="113.7" cy="703.2" r="0.4" fill="#f3ee60"/><circle cx="150.1" cy="631.4" r="0.4" fill="#f3ee60"/><circle cx="159.4" cy="700.4" r="0.4" fill="#f3ee60"/><circle cx="155.0" cy="651.1" r="0.4" fill="#f3ee60"/><circle cx="194.9" cy="552.9" r="0.4" fill="#f3ee60"/><circle cx="204.8" cy="692.1" r="0.4" fill="#f3ee60"/><circle cx="155.6" cy="609.5" r="0.4" fill="#f3ee60"/><circle cx="152.4" cy="613.1" r="0.4" fill="#f3ee60"/><circle cx="170.8" cy="671.0" r="0.4" fill="#f3ee60"/><circle cx="156.4" cy="588.8" r="0.4" fill="#f3ee60"/><circle cx="155.9" cy="691.0" r="0.4" fill="#f3ee60"/><circle cx="255.1" cy="703.9" r="0.4" fill="#f3ee60"/><circle cx="131.5" cy="633.1" r="0.4" fill="#f3ee60"/><circle cx="159.3" cy="628.6" r="0.4" fill="#f3ee60"/><circle cx="229.8" cy="549.1" r="0.4" fill="#f3ee60"/><circle cx="236.8" cy="682.9" r="0.4" fill="#f3ee60"/><circle cx="130.9" cy="591.0" r="0.4" fill="#f3ee60"/><circle cx="139.2" cy="693.6" r="0.4" fill="#f3ee60"/><circle cx="153.4" cy="595.1" r="0.4" fill="#f3ee60"/><circle cx="146.4" cy="612.3" r="0.4" fill="#f3ee60"/><circle cx="233.7" cy="604.4" r="0.4" fill="#f3ee60"/><circle cx="133.4" cy="678.0" r="0.4" fill="#f3ee60"/><circle cx="210.3" cy="605.8" r="0.4" fill="#f3ee60"/><circle cx="128.4" cy="557.7" r="0.4" fill="#f3ee60"/><circle cx="170.7" cy="633.3" r="0.4" fill="#f3ee60"/><circle cx="137.9" cy="659.3" r="0.4" fill="#f3ee60"/><circle cx="229.4" cy="601.2" r="0.4" fill="#f3ee60"/><circle cx="292.2" cy="683.1" r="0.4" fill="#f3ee60"/><circle cx="164.0" cy="613.2" r="0.4" fill="#f3ee60"/><circle cx="292.2" cy="543.2" r="0.4" fill="#f3ee60"/><circle cx="201.7" cy="662.4" r="0.4" fill="#f3ee60"/><circle cx="297.4" cy="558.1" r="0.4" fill="#f3ee60"/><circle cx="209.3" cy="554.2" r="0.4" fill="#f3ee60"/><circle cx="297.5" cy="559.9" r="0.4" fill="#f3ee60"/><circle cx="221.0" cy="646.6" r="0.4" fill="#f3ee60"/><circle cx="206.9" cy="605.5" r="0.4" fill="#f3ee60"/><circle cx="147.9" cy="651.6" r="0.4" fill="#f3ee60"/><circle cx="200.6" cy="626.9" r="0.4" fill="#f3ee60"/><circle cx="149.8" cy="657.9" r="0.4" fill="#f3ee60"/><circle cx="116.5" cy="642.7" r="0.4" fill="#f3ee60"/><circle cx="189.3" cy="698.5" r="0.4" fill="#f3ee60"/><circle cx="199.6" cy="633.4" r="0.4" fill="#f3ee60"/><circle cx="279.8" cy="689.7" r="0.4" fill="#f3ee60"/><circle cx="160.4" cy="579.0" r="0.4" fill="#f3ee60"/><circle cx="203.3" cy="583.3" r="0.4" fill="#f3ee60"/><circle cx="161.8" cy="642.2" r="0.4" fill="#f3ee60"/><circle cx="292.7" cy="631.3" r="0.4" fill="#f3ee60"/><circle cx="296.7" cy="612.5" r="0.4" fill="#f3ee60"/><circle cx="237.6" cy="618.3" r="0.4" fill="#f3ee60"/><circle cx="122.0" cy="570.2" r="0.4" fill="#f3ee60"/><circle cx="155.5" cy="626.3" r="0.4" fill="#f3ee60"/><circle cx="274.8" cy="566.5" r="0.4" fill="#f3ee60"/><circle cx="177.7" cy="653.8" r="0.4" fill="#f3ee60"/><circle cx="256.9" cy="611.9" r="0.4" fill="#f3ee60"/><circle cx="153.7" cy="696.1" r="0.4" fill="#f3ee60"/><circle cx="293.1" cy="647.5" r="0.4" fill="#f3ee60"/><circle cx="219.2" cy="682.8" r="0.4" fill="#f3ee60"/><circle cx="195.2" cy="568.6" r="0.4" fill="#f3ee60"/><circle cx="179.9" cy="560.7" r="0.4" fill="#f3ee60"/><circle cx="199.6" cy="553.7" r="0.4" fill="#f3ee60"/><circle cx="198.4" cy="650.9" r="0.4" fill="#f3ee60"/><circle cx="179.3" cy="641.0" r="0.4" fill="#f3ee60"/><circle cx="295.4" cy="581.8" r="0.4" fill="#f3ee60"/><circle cx="208.4" cy="649.4" r="0.4" fill="#f3ee60"/><circle cx="181.4" cy="592.0" r="0.4" fill="#f3ee60"/><circle cx="209.1" cy="663.2" r="0.4" fill="#f3ee60"/><circle cx="181.5" cy="670.0" r="0.4" fill="#f3ee60"/><circle cx="270.9" cy="604.1" r="0.4" fill="#f3ee60"/><circle cx="188.8" cy="640.4" r="0.4" fill="#f3ee60"/><circle cx="190.7" cy="678.3" r="0.4" fill="#f3ee60"/><circle cx="153.1" cy="571.4" r="0.4" fill="#f3ee60"/><circle cx="245.3" cy="691.5" r="0.4" fill="#f3ee60"/><circle cx="175.9" cy="549.3" r="0.4" fill="#f3ee60"/><circle cx="257.3" cy="690.3" r="0.4" fill="#f3ee60"/><circle cx="192.0" cy="627.7" r="0.4" fill="#f3ee60"/><circle cx="278.0" cy="651.5" r="0.4" fill="#f3ee60"/><circle cx="133.3" cy="704.7" r="0.4" fill="#f3ee60"/><circle cx="181.2" cy="606.4" r="0.4" fill="#f3ee60"/><circle cx="217.4" cy="603.6" r="0.4" fill="#f3ee60"/><circle cx="170.8" cy="579.0" r="0.4" fill="#f3ee60"/><circle cx="141.3" cy="596.2" r="0.4" fill="#f3ee60"/><circle cx="268.9" cy="592.7" r="0.4" fill="#f3ee60"/><circle cx="173.2" cy="579.6" r="0.4" fill="#f3ee60"/><circle cx="279.3" cy="687.6" r="0.4" fill="#f3ee60"/><circle cx="253.7" cy="595.5" r="0.4" fill="#f3ee60"/><circle cx="128.3" cy="623.0" r="0.4" fill="#f3ee60"/><circle cx="292.6" cy="556.6" r="0.4" fill="#f3ee60"/><circle cx="139.7" cy="595.6" r="0.4" fill="#f3ee60"/><circle cx="242.5" cy="666.6" r="0.4" fill="#f3ee60"/><circle cx="143.0" cy="574.2" r="0.4" fill="#f3ee60"/><circle cx="185.6" cy="702.4" r="0.4" fill="#f3ee60"/><circle cx="162.7" cy="647.0" r="0.4" fill="#f3ee60"/><circle cx="280.7" cy="546.2" r="0.4" fill="#f3ee60"/><circle cx="261.5" cy="639.5" r="0.4" fill="#f3ee60"/><circle cx="131.8" cy="665.1" r="0.4" fill="#f3ee60"/><circle cx="208.0" cy="657.3" r="0.4" fill="#f3ee60"/><circle cx="219.4" cy="656.0" r="0.4" fill="#f3ee60"/><circle cx="256.0" cy="680.2" r="0.4" fill="#f3ee60"/><circle cx="273.7" cy="633.2" r="0.4" fill="#f3ee60"/><circle cx="288.3" cy="654.0" r="0.4" fill="#f3ee60"/><circle cx="278.5" cy="560.6" r="0.4" fill="#f3ee60"/><circle cx="210.3" cy="650.5" r="0.4" fill="#f3ee60"/><circle cx="253.0" cy="654.6" r="0.4" fill="#f3ee60"/><circle cx="295.8" cy="593.9" r="0.4" fill="#f3ee60"/><circle cx="242.6" cy="575.2" r="0.4" fill="#f3ee60"/><circle cx="185.9" cy="568.2" r="0.4" fill="#f3ee60"/><circle cx="225.2" cy="620.9" r="0.4" fill="#f3ee60"/><circle cx="298.3" cy="606.8" r="0.4" fill="#f3ee60"/><circle cx="197.0" cy="659.0" r="0.4" fill="#f3ee60"/><circle cx="170.8" cy="547.6" r="0.4" fill="#f3ee60"/><circle cx="165.2" cy="606.6" r="0.4" fill="#f3ee60"/><circle cx="225.8" cy="668.4" r="0.4" fill="#f3ee60"/><circle cx="156.2" cy="669.9" r="0.4" fill="#f3ee60"/><circle cx="261.1" cy="555.6" r="0.4" fill="#f3ee60"/><circle cx="131.5" cy="608.4" r="0.4" fill="#f3ee60"/><circle cx="232.9" cy="559.4" r="0.4" fill="#f3ee60"/><circle cx="179.3" cy="563.9" r="0.4" fill="#f3ee60"/><circle cx="276.2" cy="548.0" r="0.4" fill="#f3ee60"/><circle cx="224.5" cy="594.4" r="0.4" fill="#f3ee60"/><circle cx="234.8" cy="583.9" r="0.4" fill="#f3ee60"/><circle cx="270.4" cy="703.4" r="0.4" fill="#f3ee60"/><circle cx="259.4" cy="644.6" r="0.4" fill="#f3ee60"/><circle cx="148.5" cy="696.4" r="0.4" fill="#f3ee60"/><circle cx="244.7" cy="622.9" r="0.4" fill="#f3ee60"/><circle cx="281.1" cy="552.9" r="0.4" fill="#f3ee60"/><circle cx="164.6" cy="644.0" r="0.4" fill="#f3ee60"/><circle cx="223.2" cy="580.2" r="0.4" fill="#f3ee60"/><circle cx="121.6" cy="559.8" r="0.4" fill="#f3ee60"/><circle cx="195.7" cy="554.7" r="0.4" fill="#f3ee60"/><circle cx="281.9" cy="613.8" r="0.4" fill="#f3ee60"/><circle cx="126.1" cy="663.9" r="0.4" fill="#f3ee60"/><circle cx="130.7" cy="626.6" r="0.4" fill="#f3ee60"/><circle cx="151.2" cy="640.6" r="0.4" fill="#f3ee60"/><circle cx="236.7" cy="636.8" r="0.4" fill="#f3ee60"/><circle cx="278.9" cy="624.2" r="0.4" fill="#f3ee60"/><circle cx="204.9" cy="559.8" r="0.4" fill="#f3ee60"/><circle cx="138.1" cy="621.0" r="0.4" fill="#f3ee60"/><circle cx="180.8" cy="648.1" r="0.4" fill="#f3ee60"/><circle cx="269.9" cy="544.9" r="0.4" fill="#f3ee60"/><circle cx="138.0" cy="682.7" r="0.4" fill="#f3ee60"/><circle cx="229.9" cy="563.8" r="0.4" fill="#f3ee60"/><circle cx="118.2" cy="664.7" r="0.4" fill="#f3ee60"/><circle cx="189.7" cy="703.1" r="0.4" fill="#f3ee60"/><circle cx="222.3" cy="616.7" r="0.4" fill="#f3ee60"/><circle cx="201.8" cy="610.6" r="0.4" fill="#f3ee60"/><circle cx="154.4" cy="675.5" r="0.4" fill="#f3ee60"/><circle cx="201.0" cy="695.0" r="0.4" fill="#f3ee60"/><circle cx="292.0" cy="561.6" r="0.4" fill="#f3ee60"/><circle cx="247.1" cy="695.7" r="0.4" fill="#f3ee60"/><circle cx="250.3" cy="654.6" r="0.4" fill="#f3ee60"/><circle cx="116.1" cy="651.4" r="0.4" fill="#f3ee60"/><circle cx="246.4" cy="614.8" r="0.4" fill="#f3ee60"/><circle cx="137.9" cy="595.2" r="0.4" fill="#f3ee60"/><circle cx="279.6" cy="609.1" r="0.4" fill="#f3ee60"/><circle cx="126.9" cy="586.5" r="0.4" fill="#f3ee60"/><circle cx="125.9" cy="554.5" r="0.4" fill="#f3ee60"/><circle cx="125.5" cy="651.5" r="0.4" fill="#f3ee60"/><circle cx="208.3" cy="553.9" r="0.4" fill="#f3ee60"/><circle cx="278.8" cy="692.1" r="0.4" fill="#f3ee60"/><circle cx="193.7" cy="678.3" r="0.4" fill="#f3ee60"/><circle cx="183.5" cy="639.6" r="0.4" fill="#f3ee60"/><circle cx="147.7" cy="704.9" r="0.4" fill="#f3ee60"/><circle cx="127.7" cy="649.9" r="0.4" fill="#f3ee60"/><circle cx="294.4" cy="592.6" r="0.4" fill="#f3ee60"/><circle cx="118.6" cy="609.4" r="0.4" fill="#f3ee60"/><circle cx="263.1" cy="605.0" r="0.4" fill="#f3ee60"/><circle cx="275.6" cy="594.3" r="0.4" fill="#f3ee60"/><circle cx="135.7" cy="640.2" r="0.4" fill="#f3ee60"/><circle cx="114.2" cy="613.9" r="0.4" fill="#f3ee60"/><circle cx="148.6" cy="679.3" r="0.4" fill="#f3ee60"/><circle cx="238.5" cy="669.9" r="0.4" fill="#f3ee60"/><circle cx="204.7" cy="622.4" r="0.4" fill="#f3ee60"/><circle cx="196.6" cy="554.7" r="0.4" fill="#f3ee60"/><circle cx="274.8" cy="570.3" r="0.4" fill="#f3ee60"/><circle cx="262.8" cy="548.8" r="0.4" fill="#f3ee60"/><circle cx="277.4" cy="552.3" r="0.4" fill="#f3ee60"/><circle cx="116.1" cy="595.1" r="0.4" fill="#f3ee60"/><circle cx="296.0" cy="676.2" r="0.4" fill="#f3ee60"/><circle cx="200.6" cy="688.3" r="0.4" fill="#f3ee60"/><circle cx="270.7" cy="629.6" r="0.4" fill="#f3ee60"/><circle cx="156.3" cy="617.2" r="0.4" fill="#f3ee60"/><circle cx="116.8" cy="580.6" r="0.4" fill="#f3ee60"/><circle cx="177.7" cy="548.5" r="0.4" fill="#f3ee60"/><circle cx="132.8" cy="573.9" r="0.4" fill="#f3ee60"/><circle cx="171.8" cy="578.1" r="0.4" fill="#f3ee60"/><circle cx="293.2" cy="634.2" r="0.4" fill="#f3ee60"/><circle cx="222.1" cy="580.5" r="0.4" fill="#f3ee60"/><circle cx="148.1" cy="694.2" r="0.4" fill="#f3ee60"/><circle cx="277.0" cy="562.3" r="0.4" fill="#f3ee60"/><circle cx="222.6" cy="643.9" r="0.4" fill="#f3ee60"/><circle cx="114.9" cy="685.1" r="0.4" fill="#f3ee60"/><circle cx="286.2" cy="620.3" r="0.4" fill="#f3ee60"/><circle cx="114.8" cy="545.1" r="0.4" fill="#f3ee60"/><circle cx="251.8" cy="694.2" r="0.4" fill="#f3ee60"/><circle cx="141.2" cy="604.6" r="0.4" fill="#f3ee60"/><circle cx="275.3" cy="570.3" r="0.4" fill="#f3ee60"/><circle cx="212.4" cy="654.6" r="0.4" fill="#f3ee60"/><circle cx="161.1" cy="574.8" r="0.4" fill="#f3ee60"/><circle cx="233.6" cy="630.2" r="0.4" fill="#f3ee60"/><circle cx="235.5" cy="602.6" r="0.4" fill="#f3ee60"/><circle cx="254.7" cy="660.1" r="0.4" fill="#f3ee60"/><circle cx="203.6" cy="673.4" r="0.4" fill="#f3ee60"/><circle cx="122.2" cy="700.2" r="0.4" fill="#f3ee60"/><circle cx="289.2" cy="631.5" r="0.4" fill="#f3ee60"/><circle cx="298.2" cy="672.4" r="0.4" fill="#f3ee60"/><circle cx="293.9" cy="690.0" r="0.4" fill="#f3ee60"/><circle cx="293.2" cy="561.9" r="0.4" fill="#f3ee60"/><circle cx="135.5" cy="662.4" r="0.4" fill="#f3ee60"/><circle cx="179.6" cy="551.1" r="0.4" fill="#f3ee60"/><circle cx="194.2" cy="680.2" r="0.4" fill="#f3ee60"/><circle cx="295.3" cy="649.4" r="0.4" fill="#f3ee60"/><circle cx="274.0" cy="669.2" r="0.4" fill="#f3ee60"/><circle cx="155.7" cy="570.6" r="0.4" fill="#f3ee60"/><circle cx="142.2" cy="679.0" r="0.4" fill="#f3ee60"/><circle cx="236.1" cy="646.3" r="0.4" fill="#f3ee60"/><circle cx="149.7" cy="649.3" r="0.4" fill="#f3ee60"/><circle cx="288.7" cy="549.4" r="0.4" fill="#f3ee60"/><circle cx="175.6" cy="579.1" r="0.4" fill="#f3ee60"/><circle cx="132.7" cy="686.4" r="0.4" fill="#f3ee60"/><circle cx="245.2" cy="661.6" r="0.4" fill="#f3ee60"/><circle cx="219.9" cy="594.7" r="0.4" fill="#f3ee60"/><circle cx="207.1" cy="682.9" r="0.4" fill="#f3ee60"/><circle cx="135.2" cy="597.7" r="0.4" fill="#f3ee60"/><circle cx="258.9" cy="657.1" r="0.4" fill="#f3ee60"/><circle cx="184.6" cy="667.4" r="0.4" fill="#f3ee60"/><circle cx="126.9" cy="659.5" r="0.4" fill="#f3ee60"/><circle cx="267.6" cy="637.3" r="0.4" fill="#f3ee60"/><circle cx="266.3" cy="576.7" r="0.4" fill="#f3ee60"/><circle cx="191.7" cy="583.5" r="0.4" fill="#f3ee60"/><circle cx="267.4" cy="689.8" r="0.4" fill="#f3ee60"/><circle cx="179.8" cy="611.8" r="0.4" fill="#f3ee60"/><circle cx="181.0" cy="704.6" r="0.4" fill="#f3ee60"/><circle cx="148.7" cy="699.3" r="0.4" fill="#f3ee60"/><circle cx="256.9" cy="584.2" r="0.4" fill="#f3ee60"/><circle cx="293.8" cy="554.7" r="0.4" fill="#f3ee60"/><circle cx="126.8" cy="602.5" r="0.4" fill="#f3ee60"/><circle cx="125.4" cy="691.9" r="0.4" fill="#f3ee60"/><circle cx="216.1" cy="640.6" r="0.4" fill="#f3ee60"/><circle cx="160.7" cy="636.4" r="0.4" fill="#f3ee60"/><circle cx="266.8" cy="645.2" r="0.4" fill="#f3ee60"/><circle cx="134.1" cy="588.4" r="0.4" fill="#f3ee60"/><circle cx="296.8" cy="614.1" r="0.4" fill="#f3ee60"/><circle cx="157.8" cy="699.7" r="0.4" fill="#f3ee60"/><circle cx="283.2" cy="563.0" r="0.4" fill="#f3ee60"/><circle cx="294.0" cy="602.0" r="0.4" fill="#f3ee60"/><circle cx="268.2" cy="624.1" r="0.4" fill="#f3ee60"/><circle cx="161.7" cy="568.5" r="0.4" fill="#f3ee60"/><circle cx="177.8" cy="676.8" r="0.4" fill="#f3ee60"/><circle cx="183.9" cy="564.0" r="0.4" fill="#f3ee60"/><circle cx="241.7" cy="555.0" r="0.4" fill="#f3ee60"/><circle cx="174.2" cy="650.7" r="0.4" fill="#f3ee60"/><circle cx="264.9" cy="654.0" r="0.4" fill="#f3ee60"/><circle cx="230.2" cy="642.9" r="0.4" fill="#f3ee60"/><circle cx="273.3" cy="641.0" r="0.4" fill="#f3ee60"/><circle cx="133.3" cy="685.8" r="0.4" fill="#f3ee60"/><circle cx="167.2" cy="546.6" r="0.4" fill="#f3ee60"/><circle cx="234.2" cy="625.2" r="0.4" fill="#f3ee60"/><circle cx="115.2" cy="623.2" r="0.4" fill="#f3ee60"/><circle cx="124.1" cy="596.1" r="0.4" fill="#f3ee60"/><circle cx="141.3" cy="692.4" r="0.4" fill="#f3ee60"/><circle cx="194.5" cy="543.5" r="0.4" fill="#f3ee60"/><circle cx="141.5" cy="558.3" r="0.4" fill="#f3ee60"/><circle cx="256.6" cy="598.7" r="0.4" fill="#f3ee60"/><circle cx="227.7" cy="686.6" r="0.4" fill="#f3ee60"/><circle cx="139.9" cy="686.0" r="0.4" fill="#f3ee60"/><circle cx="160.3" cy="644.4" r="0.4" fill="#f3ee60"/><circle cx="146.1" cy="689.9" r="0.4" fill="#f3ee60"/><circle cx="243.3" cy="571.1" r="0.4" fill="#f3ee60"/><circle cx="190.9" cy="646.1" r="0.4" fill="#f3ee60"/><circle cx="246.0" cy="701.9" r="0.4" fill="#f3ee60"/><circle cx="189.4" cy="627.9" r="0.4" fill="#f3ee60"/><circle cx="274.0" cy="570.4" r="0.4" fill="#f3ee60"/><circle cx="259.4" cy="638.3" r="0.4" fill="#f3ee60"/><circle cx="112.2" cy="590.0" r="0.4" fill="#f3ee60"/><circle cx="287.2" cy="680.6" r="0.4" fill="#f3ee60"/><circle cx="292.8" cy="643.7" r="0.4" fill="#f3ee60"/><circle cx="294.9" cy="642.3" r="0.4" fill="#f3ee60"/><circle cx="256.7" cy="543.9" r="0.4" fill="#f3ee60"/><circle cx="230.8" cy="583.5" r="0.4" fill="#f3ee60"/><circle cx="269.6" cy="688.8" r="0.4" fill="#f3ee60"/><circle cx="246.1" cy="616.2" r="0.4" fill="#f3ee60"/><circle cx="174.3" cy="567.9" r="0.4" fill="#f3ee60"/><circle cx="213.1" cy="671.2" r="0.4" fill="#f3ee60"/><circle cx="152.7" cy="680.2" r="0.4" fill="#f3ee60"/><circle cx="285.0" cy="573.4" r="0.4" fill="#f3ee60"/><circle cx="239.7" cy="600.1" r="0.4" fill="#f3ee60"/><circle cx="198.0" cy="637.4" r="0.4" fill="#f3ee60"/><circle cx="247.3" cy="587.0" r="0.4" fill="#f3ee60"/><circle cx="123.7" cy="670.7" r="0.4" fill="#f3ee60"/><circle cx="128.6" cy="555.3" r="0.4" fill="#f3ee60"/><circle cx="160.7" cy="683.0" r="0.4" fill="#f3ee60"/><circle cx="154.2" cy="693.9" r="0.4" fill="#f3ee60"/><circle cx="272.5" cy="653.0" r="0.4" fill="#f3ee60"/><circle cx="200.7" cy="675.1" r="0.4" fill="#f3ee60"/><circle cx="124.9" cy="680.6" r="0.4" fill="#f3ee60"/><circle cx="169.5" cy="582.0" r="0.4" fill="#f3ee60"/><circle cx="113.5" cy="704.9" r="0.4" fill="#f3ee60"/><circle cx="258.8" cy="546.7" r="0.4" fill="#f3ee60"/><circle cx="270.1" cy="586.5" r="0.4" fill="#f3ee60"/><circle cx="284.0" cy="641.0" r="0.4" fill="#f3ee60"/><circle cx="221.8" cy="615.1" r="0.4" fill="#f3ee60"/><circle cx="215.1" cy="578.6" r="0.4" fill="#f3ee60"/><circle cx="127.8" cy="632.5" r="0.4" fill="#f3ee60"/><circle cx="224.5" cy="675.9" r="0.4" fill="#f3ee60"/><circle cx="203.9" cy="596.5" r="0.4" fill="#f3ee60"/><circle cx="193.4" cy="576.9" r="0.4" fill="#f3ee60"/><circle cx="177.6" cy="594.5" r="0.4" fill="#f3ee60"/><circle cx="271.9" cy="691.9" r="0.4" fill="#f3ee60"/><circle cx="149.6" cy="628.4" r="0.4" fill="#f3ee60"/><circle cx="126.0" cy="696.4" r="0.4" fill="#f3ee60"/><circle cx="231.6" cy="612.3" r="0.4" fill="#f3ee60"/><circle cx="269.0" cy="565.0" r="0.4" fill="#f3ee60"/><circle cx="161.6" cy="660.9" r="0.4" fill="#f3ee60"/><circle cx="178.8" cy="600.7" r="0.4" fill="#f3ee60"/><circle cx="295.0" cy="634.4" r="0.4" fill="#f3ee60"/><circle cx="147.6" cy="550.3" r="0.4" fill="#f3ee60"/><circle cx="137.1" cy="650.8" r="0.4" fill="#f3ee60"/><circle cx="220.1" cy="684.6" r="0.4" fill="#f3ee60"/><circle cx="276.3" cy="544.0" r="0.4" fill="#f3ee60"/><circle cx="170.5" cy="564.7" r="0.4" fill="#f3ee60"/><circle cx="294.4" cy="596.8" r="0.4" fill="#f3ee60"/><circle cx="257.1" cy="597.0" r="0.4" fill="#f3ee60"/><circle cx="186.0" cy="582.3" r="0.4" fill="#f3ee60"/><circle cx="218.1" cy="696.3" r="0.4" fill="#f3ee60"/><circle cx="296.8" cy="627.9" r="0.4" fill="#f3ee60"/><circle cx="234.6" cy="652.1" r="0.4" fill="#f3ee60"/><circle cx="263.6" cy="658.0" r="0.4" fill="#f3ee60"/><circle cx="206.9" cy="611.9" r="0.4" fill="#f3ee60"/><circle cx="236.0" cy="548.3" r="0.4" fill="#f3ee60"/><circle cx="128.8" cy="675.7" r="0.4" fill="#f3ee60"/><circle cx="221.8" cy="566.7" r="0.4" fill="#f3ee60"/><circle cx="260.5" cy="576.0" r="0.4" fill="#f3ee60"/><circle cx="267.8" cy="544.8" r="0.4" fill="#f3ee60"/><circle cx="199.8" cy="697.5" r="0.4" fill="#f3ee60"/><circle cx="269.6" cy="626.3" r="0.4" fill="#f3ee60"/><circle cx="185.1" cy="684.0" r="0.4" fill="#f3ee60"/><circle cx="143.8" cy="695.8" r="0.4" fill="#f3ee60"/><circle cx="277.2" cy="555.3" r="0.4" fill="#f3ee60"/><circle cx="116.5" cy="636.4" r="0.4" fill="#f3ee60"/><circle cx="127.3" cy="548.8" r="0.4" fill="#f3ee60"/><circle cx="223.6" cy="613.0" r="0.4" fill="#f3ee60"/><circle cx="212.4" cy="587.6" r="0.4" fill="#f3ee60"/><circle cx="222.8" cy="606.9" r="0.4" fill="#f3ee60"/><circle cx="281.7" cy="674.1" r="0.4" fill="#f3ee60"/><circle cx="164.0" cy="685.0" r="0.4" fill="#f3ee60"/><circle cx="143.1" cy="604.1" r="0.4" fill="#f3ee60"/><circle cx="262.3" cy="598.6" r="0.4" fill="#f3ee60"/><circle cx="115.6" cy="576.0" r="0.4" fill="#f3ee60"/><circle cx="218.3" cy="556.5" r="0.4" fill="#f3ee60"/><circle cx="160.3" cy="667.8" r="0.4" fill="#f3ee60"/><circle cx="254.6" cy="632.6" r="0.4" fill="#f3ee60"/><circle cx="271.1" cy="694.8" r="0.4" fill="#f3ee60"/><circle cx="287.7" cy="552.1" r="0.4" fill="#f3ee60"/><circle cx="271.6" cy="571.5" r="0.4" fill="#f3ee60"/><circle cx="166.1" cy="562.5" r="0.4" fill="#f3ee60"/><circle cx="278.0" cy="598.4" r="0.4" fill="#f3ee60"/><circle cx="219.0" cy="660.8" r="0.4" fill="#f3ee60"/><circle cx="243.8" cy="581.4" r="0.4" fill="#f3ee60"/><circle cx="232.1" cy="639.2" r="0.4" fill="#f3ee60"/><circle cx="219.9" cy="670.7" r="0.4" fill="#f3ee60"/><circle cx="206.1" cy="655.2" r="0.4" fill="#f3ee60"/><circle cx="153.2" cy="693.0" r="0.4" fill="#f3ee60"/><circle cx="290.5" cy="674.3" r="0.4" fill="#f3ee60"/><circle cx="138.5" cy="660.3" r="0.4" fill="#f3ee60"/><circle cx="269.6" cy="675.8" r="0.4" fill="#f3ee60"/><circle cx="169.0" cy="623.9" r="0.4" fill="#f3ee60"/><circle cx="279.8" cy="629.7" r="0.4" fill="#f3ee60"/><circle cx="191.6" cy="572.4" r="0.4" fill="#f3ee60"/><circle cx="277.0" cy="571.7" r="0.4" fill="#f3ee60"/><circle cx="223.0" cy="591.2" r="0.4" fill="#f3ee60"/><circle cx="262.4" cy="551.4" r="0.4" fill="#f3ee60"/><circle cx="162.3" cy="585.9" r="0.4" fill="#f3ee60"/><circle cx="169.1" cy="646.8" r="0.4" fill="#f3ee60"/></g>
<path d="M113.7 603.6 C125 650 150 704.4 205.7 704.4 C261.4 704.4 286.4 650 297.7 603.6" stroke="#d4cc30" stroke-width="1" fill="none"/>
<line x1="146.5" y1="541.5" x2="264.9" y2="541.5" stroke="#12e2e2" stroke-width="1" />
<line x1="146.5" y1="541.2" x2="113.7" y2="603.6" stroke="#12e2e2" stroke-width="1" />
<line x1="264.9" y1="541.2" x2="297.7" y2="603.6" stroke="#12e2e2" stroke-width="1" />
<line x1="127.9" y1="573.5" x2="281.3" y2="573.5" stroke="#12e2e2" stroke-width="1" />
<line x1="103.8" y1="603.5" x2="113.7" y2="603.5" stroke="#12e2e2" stroke-width="1" />
<line x1="297.7" y1="603.5" x2="307.6" y2="603.5" stroke="#12e2e2" stroke-width="1" />
<rect x="153.5" y="541.5" width="23.0" height="5.0" stroke="#12e2e2" stroke-width="0.9" fill="#fff" />
<line x1="153.6" y1="546.0" x2="156.2" y2="541.6" stroke="#8a2a2a" stroke-width="0.9" />
<line x1="155.7" y1="546.0" x2="158.3" y2="541.6" stroke="#8a2a2a" stroke-width="0.9" />
<line x1="157.8" y1="546.0" x2="160.4" y2="541.6" stroke="#8a2a2a" stroke-width="0.9" />
<line x1="159.9" y1="546.0" x2="162.5" y2="541.6" stroke="#8a2a2a" stroke-width="0.9" />
<line x1="162.0" y1="546.0" x2="164.6" y2="541.6" stroke="#8a2a2a" stroke-width="0.9" />
<line x1="164.1" y1="546.0" x2="166.7" y2="541.6" stroke="#8a2a2a" stroke-width="0.9" />
<line x1="166.2" y1="546.0" x2="168.8" y2="541.6" stroke="#8a2a2a" stroke-width="0.9" />
<line x1="168.3" y1="546.0" x2="170.9" y2="541.6" stroke="#8a2a2a" stroke-width="0.9" />
<line x1="170.4" y1="546.0" x2="173.0" y2="541.6" stroke="#8a2a2a" stroke-width="0.9" />
<line x1="172.5" y1="546.0" x2="175.1" y2="541.6" stroke="#8a2a2a" stroke-width="0.9" />
<line x1="174.6" y1="546.0" x2="177.2" y2="541.6" stroke="#8a2a2a" stroke-width="0.9" />
<rect x="234.5" y="541.5" width="23.0" height="5.0" stroke="#12e2e2" stroke-width="0.9" fill="#fff" />
<line x1="234.7" y1="546.0" x2="237.3" y2="541.6" stroke="#8a2a2a" stroke-width="0.9" />
<line x1="236.8" y1="546.0" x2="239.4" y2="541.6" stroke="#8a2a2a" stroke-width="0.9" />
<line x1="238.9" y1="546.0" x2="241.5" y2="541.6" stroke="#8a2a2a" stroke-width="0.9" />
<line x1="241.0" y1="546.0" x2="243.6" y2="541.6" stroke="#8a2a2a" stroke-width="0.9" />
<line x1="243.1" y1="546.0" x2="245.7" y2="541.6" stroke="#8a2a2a" stroke-width="0.9" />
<line x1="245.2" y1="546.0" x2="247.8" y2="541.6" stroke="#8a2a2a" stroke-width="0.9" />
<line x1="247.3" y1="546.0" x2="249.9" y2="541.6" stroke="#8a2a2a" stroke-width="0.9" />
<line x1="249.4" y1="546.0" x2="252.0" y2="541.6" stroke="#8a2a2a" stroke-width="0.9" />
<line x1="251.5" y1="546.0" x2="254.1" y2="541.6" stroke="#8a2a2a" stroke-width="0.9" />
<line x1="253.6" y1="546.0" x2="256.2" y2="541.6" stroke="#8a2a2a" stroke-width="0.9" />
<line x1="255.7" y1="546.0" x2="258.3" y2="541.6" stroke="#8a2a2a" stroke-width="0.9" />
<rect x="170.5" y="535.5" width="71.0" height="5.0" stroke="#12e2e2" stroke-width="1" fill="none" />
<line x1="176.0" y1="544.5" x2="234.0" y2="544.5" stroke="#12e2e2" stroke-width="0.9" />
<line x1="176.0" y1="546.5" x2="234.0" y2="546.5" stroke="#12e2e2" stroke-width="0.9" />
<path d="M195.1 546.5 L195.1 567.0 L215.1 567.0 L215.1 546.5" stroke="#12e2e2" stroke-width="1" fill="none" />
<path d="M196.5 546.5 L196.5 565.6 L213.7 565.6 L213.7 546.5" stroke="#12e2e2" stroke-width="0.7" fill="none" />
<line x1="163.5" y1="530.0" x2="163.5" y2="683.0" stroke="#12e2e2" stroke-width="1.1" />
<line x1="166.5" y1="530.0" x2="166.5" y2="683.0" stroke="#12e2e2" stroke-width="1.1" />
<line x1="164.5" y1="524.0" x2="164.5" y2="687.0" stroke="#18d818" stroke-width="0.9" />
<rect x="162.5" y="531.5" width="5.0" height="9.0" stroke="#12e2e2" stroke-width="1" fill="#8ff" />
<rect x="162.5" y="545.5" width="4.0" height="6.0" stroke="#12e2e2" stroke-width="0.9" fill="none" />
<line x1="189.5" y1="530.0" x2="189.5" y2="683.0" stroke="#12e2e2" stroke-width="1.1" />
<line x1="192.5" y1="530.0" x2="192.5" y2="683.0" stroke="#12e2e2" stroke-width="1.1" />
<line x1="191.5" y1="524.0" x2="191.5" y2="687.0" stroke="#18d818" stroke-width="0.9" />
<rect x="188.5" y="531.5" width="5.0" height="9.0" stroke="#12e2e2" stroke-width="1" fill="#8ff" />
<rect x="188.5" y="545.5" width="5.0" height="6.0" stroke="#12e2e2" stroke-width="0.9" fill="none" />
<line x1="216.5" y1="530.0" x2="216.5" y2="683.0" stroke="#12e2e2" stroke-width="1.1" />
<line x1="219.5" y1="530.0" x2="219.5" y2="683.0" stroke="#12e2e2" stroke-width="1.1" />
<line x1="218.5" y1="524.0" x2="218.5" y2="687.0" stroke="#18d818" stroke-width="0.9" />
<rect x="215.5" y="531.5" width="5.0" height="9.0" stroke="#12e2e2" stroke-width="1" fill="#8ff" />
<rect x="216.5" y="545.5" width="4.0" height="6.0" stroke="#12e2e2" stroke-width="0.9" fill="none" />
<line x1="245.5" y1="530.0" x2="245.5" y2="683.0" stroke="#12e2e2" stroke-width="1.1" />
<line x1="248.5" y1="530.0" x2="248.5" y2="683.0" stroke="#12e2e2" stroke-width="1.1" />
<line x1="246.5" y1="524.0" x2="246.5" y2="687.0" stroke="#18d818" stroke-width="0.9" />
<rect x="244.5" y="531.5" width="5.0" height="9.0" stroke="#12e2e2" stroke-width="1" fill="#8ff" />
<rect x="244.5" y="545.5" width="4.0" height="6.0" stroke="#12e2e2" stroke-width="0.9" fill="none" />
<rect x="159.5" y="664.5" width="93.0" height="15.0" stroke="#12e2e2" stroke-width="1.1" fill="none" />
<line x1="164.0" y1="677.5" x2="250.0" y2="677.5" stroke="#12e2e2" stroke-width="1.2" />
<line x1="160.5" y1="678.8" x2="173.0" y2="678.8" stroke="#999" stroke-width="1.4" stroke-dasharray="1 1"/>
<line x1="236.0" y1="678.8" x2="251.0" y2="678.8" stroke="#999" stroke-width="1.4" stroke-dasharray="1 1"/>
<line x1="251.5" y1="665.0" x2="251.5" y2="679.0" stroke="#999" stroke-width="1.2" stroke-dasharray="1 1"/>
<text transform="translate(85.9 513.8) rotate(0) scale(0.86 1)" fill="#b80f0f" stroke="#b80f0f" stroke-width="0.34" font-size="8" text-anchor="start" >500</text>
<line x1="83.0" y1="516.5" x2="102.7" y2="516.5" stroke="#b80f0f" stroke-width="1" />
<line x1="102.5" y1="516.0" x2="102.5" y2="533.5" stroke="#b80f0f" stroke-width="1" />
<path d="M98.3 533.6 L107.1 533.6 L102.7 541.0 Z" stroke="#b80f0f" stroke-width="0.9" fill="none" />
<line x1="70.5" y1="541.5" x2="146.5" y2="541.5" stroke="#b80f0f" stroke-width="1" />
<line x1="75.5" y1="541.2" x2="75.5" y2="680.9" stroke="#b80f0f" stroke-width="1" />
<line x1="95.5" y1="541.2" x2="95.5" y2="603.6" stroke="#b80f0f" stroke-width="1" />
<text transform="translate(93.0 571.9) rotate(-90) scale(0.86 1)" fill="#b80f0f" stroke="#b80f0f" stroke-width="0.34" font-size="8" text-anchor="middle" >500</text>
<text transform="translate(73.0 610.8) rotate(-90) scale(0.86 1)" fill="#b80f0f" stroke="#b80f0f" stroke-width="0.34" font-size="8" text-anchor="middle" >1000</text>
<line x1="90.7" y1="603.5" x2="103.8" y2="603.5" stroke="#b80f0f" stroke-width="1" />
<line x1="70.5" y1="680.5" x2="159.7" y2="680.5" stroke="#b80f0f" stroke-width="1" />
<line x1="252.8" y1="680.5" x2="329.0" y2="680.5" stroke="#b80f0f" stroke-width="1" />
<line x1="107.1" y1="664.5" x2="159.7" y2="664.5" stroke="#b80f0f" stroke-width="1" />
<line x1="113.5" y1="664.0" x2="113.5" y2="680.9" stroke="#b80f0f" stroke-width="1" />
<text transform="translate(111.3 672.5) rotate(-90) scale(0.86 1)" fill="#b80f0f" stroke="#b80f0f" stroke-width="0.34" font-size="8" text-anchor="middle" >100</text>
<line x1="159.5" y1="664.0" x2="159.5" y2="720.0" stroke="#b80f0f" stroke-width="1" />
<line x1="252.5" y1="680.9" x2="252.5" y2="720.0" stroke="#b80f0f" stroke-width="1" />
<line x1="161.9" y1="717.5" x2="249.5" y2="717.5" stroke="#b80f0f" stroke-width="1" />
<path d="M164.4 716.3 L161.9 717.2 L164.4 718.1" stroke="#b80f0f" stroke-width="0.5" fill="none" />
<path d="M247.0 716.3 L249.5 717.2 L247.0 718.1" stroke="#b80f0f" stroke-width="0.5" fill="none" />
<text transform="translate(205.5 715.3) rotate(0) scale(0.86 1)" fill="#b80f0f" stroke="#b80f0f" stroke-width="0.34" font-size="8" text-anchor="middle" >730*730</text>
<line x1="248.9" y1="529.5" x2="329.0" y2="529.5" stroke="#b80f0f" stroke-width="1" />
<line x1="324.5" y1="533.5" x2="324.5" y2="675.5" stroke="#b80f0f" stroke-width="1" />
<text transform="translate(321.8 605.3) rotate(-90) scale(0.86 1)" fill="#b80f0f" stroke="#b80f0f" stroke-width="0.34" font-size="8" text-anchor="middle" >1070</text>
<circle cx="262.0" cy="511.0" r="2.4" stroke="#b80f0f" stroke-width="1" fill="none"/>
<line x1="262.0" y1="511.0" x2="241.9" y2="539.7" stroke="#b80f0f" stroke-width="1" />
<line x1="263.5" y1="497.5" x2="263.5" y2="511.0" stroke="#b80f0f" stroke-width="1" />
<path d="M263.0 497.5 L269.5 500.0 L263.0 502.5" stroke="#b80f0f" stroke-width="0.9" fill="none" />
<line x1="262.0" y1="511.5" x2="290.0" y2="511.5" stroke="#b80f0f" stroke-width="1" />
<text transform="translate(273.5 510.0) rotate(0) scale(0.86 1)" fill="#b80f0f" stroke="#b80f0f" stroke-width="0.34" font-size="7.5" text-anchor="middle" >20</text>
<path d="M279.0 511.0 L279.0 505.5 L286.5 511.0" stroke="#b80f0f" stroke-width="0.9" fill="none" />
<text transform="translate(293.5 514.0) rotate(0) scale(0.86 1)" fill="#b80f0f" stroke="#b80f0f" stroke-width="0.34" font-size="7.5" text-anchor="middle" >12</text>
<path d="M403.2 706.1 L403.2 474.7 L472.7 474.7" stroke="#12e2e2" stroke-width="1" fill="none" />
<line x1="403.2" y1="706.5" x2="587.2" y2="706.5" stroke="#12e2e2" stroke-width="1" />
<line x1="587.5" y1="463.5" x2="587.5" y2="706.1" stroke="#12e2e2" stroke-width="1" />
<rect x="472.5" y="463.5" width="115.0" height="25.0" stroke="#12e2e2" stroke-width="1" fill="none" />
<line x1="483.5" y1="463.5" x2="483.5" y2="488.8" stroke="#12e2e2" stroke-width="1" />
<line x1="523.5" y1="463.5" x2="523.5" y2="488.8" stroke="#12e2e2" stroke-width="1" />
<line x1="483.0" y1="473.5" x2="587.2" y2="473.5" stroke="#12e2e2" stroke-width="0.9" />
<rect x="532.5" y="473.5" width="33.0" height="15.0" stroke="#12e2e2" stroke-width="1.2" fill="none" />
<line x1="403.2" y1="488.5" x2="587.2" y2="488.5" stroke="#12e2e2" stroke-width="1" />
<line x1="403.2" y1="692.5" x2="587.2" y2="692.5" stroke="#12e2e2" stroke-width="1" />
<line x1="416.5" y1="488.8" x2="416.5" y2="692.4" stroke="#12e2e2" stroke-width="0.9" />
<line x1="429.5" y1="488.8" x2="429.5" y2="692.4" stroke="#12e2e2" stroke-width="0.9" />
<line x1="462.5" y1="488.8" x2="462.5" y2="692.4" stroke="#12e2e2" stroke-width="0.9" />
<line x1="487.5" y1="488.8" x2="487.5" y2="692.4" stroke="#12e2e2" stroke-width="0.9" />
<line x1="519.5" y1="488.8" x2="519.5" y2="692.4" stroke="#12e2e2" stroke-width="0.9" />
<line x1="540.5" y1="488.8" x2="540.5" y2="692.4" stroke="#12e2e2" stroke-width="0.9" />
<line x1="572.5" y1="488.8" x2="572.5" y2="692.4" stroke="#12e2e2" stroke-width="0.9" />
<line x1="409.5" y1="488.8" x2="409.5" y2="692.4" stroke="#12e2e2" stroke-width="0.6" />
<line x1="581.5" y1="488.8" x2="581.5" y2="692.4" stroke="#12e2e2" stroke-width="0.6" />
<path d="M416.3 488.8 L380.3 569.6 L380.3 609.8 L416.3 691.5" stroke="#12e2e2" stroke-width="1" fill="none" />
<line x1="381.5" y1="569.6" x2="381.5" y2="609.8" stroke="#12e2e2" stroke-width="0.8" />
<path d="M586.5 488.0 L639.7 563.1 L639.7 617.2 L586.5 690.7" stroke="#12e2e2" stroke-width="1" fill="none" />
<line x1="638.5" y1="563.1" x2="638.5" y2="617.2" stroke="#12e2e2" stroke-width="0.8" />
<line x1="597.5" y1="500.0" x2="597.5" y2="678.7" stroke="#12e2e2" stroke-width="0.9" />
<line x1="374.0" y1="589.5" x2="658.6" y2="589.5" stroke="#18d818" stroke-width="1.1" stroke-dasharray="26 1.5 1.5 1.5"/>
<line x1="417.4" y1="511.5" x2="433.4" y2="511.5" stroke="#18d818" stroke-width="1" />
<line x1="425.5" y1="502.0" x2="425.5" y2="520.0" stroke="#18d818" stroke-width="1" />
<circle cx="425.4" cy="511.0" r="3.2" stroke="#12e2e2" stroke-width="0.7" fill="none"/>
<line x1="421.4" y1="507.0" x2="429.4" y2="515.0" stroke="#12e2e2" stroke-width="0.6" />
<line x1="421.4" y1="515.0" x2="429.4" y2="507.0" stroke="#12e2e2" stroke-width="0.6" />
<line x1="460.5" y1="511.5" x2="476.5" y2="511.5" stroke="#18d818" stroke-width="1" />
<line x1="468.5" y1="502.0" x2="468.5" y2="520.0" stroke="#18d818" stroke-width="1" />
<circle cx="468.5" cy="511.0" r="3.2" stroke="#12e2e2" stroke-width="0.7" fill="none"/>
<line x1="464.5" y1="507.0" x2="472.5" y2="515.0" stroke="#12e2e2" stroke-width="0.6" />
<line x1="464.5" y1="515.0" x2="472.5" y2="507.0" stroke="#12e2e2" stroke-width="0.6" />
<line x1="474.4" y1="511.5" x2="490.4" y2="511.5" stroke="#18d818" stroke-width="1" />
<line x1="482.5" y1="502.0" x2="482.5" y2="520.0" stroke="#18d818" stroke-width="1" />
<circle cx="482.4" cy="511.0" r="3.2" stroke="#12e2e2" stroke-width="0.7" fill="none"/>
<line x1="478.4" y1="507.0" x2="486.4" y2="515.0" stroke="#12e2e2" stroke-width="0.6" />
<line x1="478.4" y1="515.0" x2="486.4" y2="507.0" stroke="#12e2e2" stroke-width="0.6" />
<line x1="516.9" y1="511.5" x2="532.9" y2="511.5" stroke="#18d818" stroke-width="1" />
<line x1="524.5" y1="502.0" x2="524.5" y2="520.0" stroke="#18d818" stroke-width="1" />
<circle cx="524.9" cy="511.0" r="3.2" stroke="#12e2e2" stroke-width="0.7" fill="none"/>
<line x1="520.9" y1="507.0" x2="528.9" y2="515.0" stroke="#12e2e2" stroke-width="0.6" />
<line x1="520.9" y1="515.0" x2="528.9" y2="507.0" stroke="#12e2e2" stroke-width="0.6" />
<line x1="526.6" y1="511.5" x2="542.6" y2="511.5" stroke="#18d818" stroke-width="1" />
<line x1="534.5" y1="502.0" x2="534.5" y2="520.0" stroke="#18d818" stroke-width="1" />
<circle cx="534.6" cy="511.0" r="3.2" stroke="#12e2e2" stroke-width="0.7" fill="none"/>
<line x1="530.6" y1="507.0" x2="538.6" y2="515.0" stroke="#12e2e2" stroke-width="0.6" />
<line x1="530.6" y1="515.0" x2="538.6" y2="507.0" stroke="#12e2e2" stroke-width="0.6" />
<line x1="569.5" y1="511.5" x2="585.5" y2="511.5" stroke="#18d818" stroke-width="1" />
<line x1="577.5" y1="502.0" x2="577.5" y2="520.0" stroke="#18d818" stroke-width="1" />
<circle cx="577.5" cy="511.0" r="3.2" stroke="#12e2e2" stroke-width="0.7" fill="none"/>
<line x1="573.5" y1="507.0" x2="581.5" y2="515.0" stroke="#12e2e2" stroke-width="0.6" />
<line x1="573.5" y1="515.0" x2="581.5" y2="507.0" stroke="#12e2e2" stroke-width="0.6" />
<line x1="417.4" y1="567.5" x2="433.4" y2="567.5" stroke="#18d818" stroke-width="1" />
<line x1="425.5" y1="558.3" x2="425.5" y2="576.3" stroke="#18d818" stroke-width="1" />
<circle cx="425.4" cy="567.3" r="3.2" stroke="#12e2e2" stroke-width="0.7" fill="none"/>
<line x1="421.4" y1="563.3" x2="429.4" y2="571.3" stroke="#12e2e2" stroke-width="0.6" />
<line x1="421.4" y1="571.3" x2="429.4" y2="563.3" stroke="#12e2e2" stroke-width="0.6" />
<line x1="460.5" y1="567.5" x2="476.5" y2="567.5" stroke="#18d818" stroke-width="1" />
<line x1="468.5" y1="558.3" x2="468.5" y2="576.3" stroke="#18d818" stroke-width="1" />
<circle cx="468.5" cy="567.3" r="3.2" stroke="#12e2e2" stroke-width="0.7" fill="none"/>
<line x1="464.5" y1="563.3" x2="472.5" y2="571.3" stroke="#12e2e2" stroke-width="0.6" />
<line x1="464.5" y1="571.3" x2="472.5" y2="563.3" stroke="#12e2e2" stroke-width="0.6" />
<line x1="474.4" y1="567.5" x2="490.4" y2="567.5" stroke="#18d818" stroke-width="1" />
<line x1="482.5" y1="558.3" x2="482.5" y2="576.3" stroke="#18d818" stroke-width="1" />
<circle cx="482.4" cy="567.3" r="3.2" stroke="#12e2e2" stroke-width="0.7" fill="none"/>
<line x1="478.4" y1="563.3" x2="486.4" y2="571.3" stroke="#12e2e2" stroke-width="0.6" />
<line x1="478.4" y1="571.3" x2="486.4" y2="563.3" stroke="#12e2e2" stroke-width="0.6" />
<line x1="516.9" y1="567.5" x2="532.9" y2="567.5" stroke="#18d818" stroke-width="1" />
<line x1="524.5" y1="558.3" x2="524.5" y2="576.3" stroke="#18d818" stroke-width="1" />
<circle cx="524.9" cy="567.3" r="3.2" stroke="#12e2e2" stroke-width="0.7" fill="none"/>
<line x1="520.9" y1="563.3" x2="528.9" y2="571.3" stroke="#12e2e2" stroke-width="0.6" />
<line x1="520.9" y1="571.3" x2="528.9" y2="563.3" stroke="#12e2e2" stroke-width="0.6" />
<line x1="526.6" y1="567.5" x2="542.6" y2="567.5" stroke="#18d818" stroke-width="1" />
<line x1="534.5" y1="558.3" x2="534.5" y2="576.3" stroke="#18d818" stroke-width="1" />
<circle cx="534.6" cy="567.3" r="3.2" stroke="#12e2e2" stroke-width="0.7" fill="none"/>
<line x1="530.6" y1="563.3" x2="538.6" y2="571.3" stroke="#12e2e2" stroke-width="0.6" />
<line x1="530.6" y1="571.3" x2="538.6" y2="563.3" stroke="#12e2e2" stroke-width="0.6" />
<line x1="569.5" y1="567.5" x2="585.5" y2="567.5" stroke="#18d818" stroke-width="1" />
<line x1="577.5" y1="558.3" x2="577.5" y2="576.3" stroke="#18d818" stroke-width="1" />
<circle cx="577.5" cy="567.3" r="3.2" stroke="#12e2e2" stroke-width="0.7" fill="none"/>
<line x1="573.5" y1="563.3" x2="581.5" y2="571.3" stroke="#12e2e2" stroke-width="0.6" />
<line x1="573.5" y1="571.3" x2="581.5" y2="563.3" stroke="#12e2e2" stroke-width="0.6" />
<line x1="417.4" y1="614.5" x2="433.4" y2="614.5" stroke="#18d818" stroke-width="1" />
<line x1="425.5" y1="605.2" x2="425.5" y2="623.2" stroke="#18d818" stroke-width="1" />
<circle cx="425.4" cy="614.2" r="3.2" stroke="#12e2e2" stroke-width="0.7" fill="none"/>
<line x1="421.4" y1="610.2" x2="429.4" y2="618.2" stroke="#12e2e2" stroke-width="0.6" />
<line x1="421.4" y1="618.2" x2="429.4" y2="610.2" stroke="#12e2e2" stroke-width="0.6" />
<line x1="460.5" y1="614.5" x2="476.5" y2="614.5" stroke="#18d818" stroke-width="1" />
<line x1="468.5" y1="605.2" x2="468.5" y2="623.2" stroke="#18d818" stroke-width="1" />
<circle cx="468.5" cy="614.2" r="3.2" stroke="#12e2e2" stroke-width="0.7" fill="none"/>
<line x1="464.5" y1="610.2" x2="472.5" y2="618.2" stroke="#12e2e2" stroke-width="0.6" />
<line x1="464.5" y1="618.2" x2="472.5" y2="610.2" stroke="#12e2e2" stroke-width="0.6" />
<line x1="474.4" y1="614.5" x2="490.4" y2="614.5" stroke="#18d818" stroke-width="1" />
<line x1="482.5" y1="605.2" x2="482.5" y2="623.2" stroke="#18d818" stroke-width="1" />
<circle cx="482.4" cy="614.2" r="3.2" stroke="#12e2e2" stroke-width="0.7" fill="none"/>
<line x1="478.4" y1="610.2" x2="486.4" y2="618.2" stroke="#12e2e2" stroke-width="0.6" />
<line x1="478.4" y1="618.2" x2="486.4" y2="610.2" stroke="#12e2e2" stroke-width="0.6" />
<line x1="516.9" y1="614.5" x2="532.9" y2="614.5" stroke="#18d818" stroke-width="1" />
<line x1="524.5" y1="605.2" x2="524.5" y2="623.2" stroke="#18d818" stroke-width="1" />
<circle cx="524.9" cy="614.2" r="3.2" stroke="#12e2e2" stroke-width="0.7" fill="none"/>
<line x1="520.9" y1="610.2" x2="528.9" y2="618.2" stroke="#12e2e2" stroke-width="0.6" />
<line x1="520.9" y1="618.2" x2="528.9" y2="610.2" stroke="#12e2e2" stroke-width="0.6" />
<line x1="526.6" y1="614.5" x2="542.6" y2="614.5" stroke="#18d818" stroke-width="1" />
<line x1="534.5" y1="605.2" x2="534.5" y2="623.2" stroke="#18d818" stroke-width="1" />
<circle cx="534.6" cy="614.2" r="3.2" stroke="#12e2e2" stroke-width="0.7" fill="none"/>
<line x1="530.6" y1="610.2" x2="538.6" y2="618.2" stroke="#12e2e2" stroke-width="0.6" />
<line x1="530.6" y1="618.2" x2="538.6" y2="610.2" stroke="#12e2e2" stroke-width="0.6" />
<line x1="569.5" y1="614.5" x2="585.5" y2="614.5" stroke="#18d818" stroke-width="1" />
<line x1="577.5" y1="605.2" x2="577.5" y2="623.2" stroke="#18d818" stroke-width="1" />
<circle cx="577.5" cy="614.2" r="3.2" stroke="#12e2e2" stroke-width="0.7" fill="none"/>
<line x1="573.5" y1="610.2" x2="581.5" y2="618.2" stroke="#12e2e2" stroke-width="0.6" />
<line x1="573.5" y1="618.2" x2="581.5" y2="610.2" stroke="#12e2e2" stroke-width="0.6" />
<line x1="417.4" y1="669.5" x2="433.4" y2="669.5" stroke="#18d818" stroke-width="1" />
<line x1="425.5" y1="660.9" x2="425.5" y2="678.9" stroke="#18d818" stroke-width="1" />
<circle cx="425.4" cy="669.9" r="3.2" stroke="#12e2e2" stroke-width="0.7" fill="none"/>
<line x1="421.4" y1="665.9" x2="429.4" y2="673.9" stroke="#12e2e2" stroke-width="0.6" />
<line x1="421.4" y1="673.9" x2="429.4" y2="665.9" stroke="#12e2e2" stroke-width="0.6" />
<line x1="460.5" y1="669.5" x2="476.5" y2="669.5" stroke="#18d818" stroke-width="1" />
<line x1="468.5" y1="660.9" x2="468.5" y2="678.9" stroke="#18d818" stroke-width="1" />
<circle cx="468.5" cy="669.9" r="3.2" stroke="#12e2e2" stroke-width="0.7" fill="none"/>
<line x1="464.5" y1="665.9" x2="472.5" y2="673.9" stroke="#12e2e2" stroke-width="0.6" />
<line x1="464.5" y1="673.9" x2="472.5" y2="665.9" stroke="#12e2e2" stroke-width="0.6" />
<line x1="474.4" y1="669.5" x2="490.4" y2="669.5" stroke="#18d818" stroke-width="1" />
<line x1="482.5" y1="660.9" x2="482.5" y2="678.9" stroke="#18d818" stroke-width="1" />
<circle cx="482.4" cy="669.9" r="3.2" stroke="#12e2e2" stroke-width="0.7" fill="none"/>
<line x1="478.4" y1="665.9" x2="486.4" y2="673.9" stroke="#12e2e2" stroke-width="0.6" />
<line x1="478.4" y1="673.9" x2="486.4" y2="665.9" stroke="#12e2e2" stroke-width="0.6" />
<line x1="516.9" y1="669.5" x2="532.9" y2="669.5" stroke="#18d818" stroke-width="1" />
<line x1="524.5" y1="660.9" x2="524.5" y2="678.9" stroke="#18d818" stroke-width="1" />
<circle cx="524.9" cy="669.9" r="3.2" stroke="#12e2e2" stroke-width="0.7" fill="none"/>
<line x1="520.9" y1="665.9" x2="528.9" y2="673.9" stroke="#12e2e2" stroke-width="0.6" />
<line x1="520.9" y1="673.9" x2="528.9" y2="665.9" stroke="#12e2e2" stroke-width="0.6" />
<line x1="526.6" y1="669.5" x2="542.6" y2="669.5" stroke="#18d818" stroke-width="1" />
<line x1="534.5" y1="660.9" x2="534.5" y2="678.9" stroke="#18d818" stroke-width="1" />
<circle cx="534.6" cy="669.9" r="3.2" stroke="#12e2e2" stroke-width="0.7" fill="none"/>
<line x1="530.6" y1="665.9" x2="538.6" y2="673.9" stroke="#12e2e2" stroke-width="0.6" />
<line x1="530.6" y1="673.9" x2="538.6" y2="665.9" stroke="#12e2e2" stroke-width="0.6" />
<line x1="569.5" y1="669.5" x2="585.5" y2="669.5" stroke="#18d818" stroke-width="1" />
<line x1="577.5" y1="660.9" x2="577.5" y2="678.9" stroke="#18d818" stroke-width="1" />
<circle cx="577.5" cy="669.9" r="3.2" stroke="#12e2e2" stroke-width="0.7" fill="none"/>
<line x1="573.5" y1="665.9" x2="581.5" y2="673.9" stroke="#12e2e2" stroke-width="0.6" />
<line x1="573.5" y1="673.9" x2="581.5" y2="665.9" stroke="#12e2e2" stroke-width="0.6" />
<circle cx="421.0" cy="497.3" r="2.0" stroke="#18d818" stroke-width="1" fill="none"/>
<circle cx="421.0" cy="497.3" r="2.8" stroke="#12e2e2" stroke-width="0.6" fill="none"/>
<line x1="417.5" y1="497.5" x2="424.5" y2="497.5" stroke="#18d818" stroke-width="0.7" />
<line x1="421.5" y1="493.8" x2="421.5" y2="500.8" stroke="#18d818" stroke-width="0.7" />
<circle cx="421.0" cy="683.6" r="2.0" stroke="#18d818" stroke-width="1" fill="none"/>
<circle cx="421.0" cy="683.6" r="2.8" stroke="#12e2e2" stroke-width="0.6" fill="none"/>
<line x1="417.5" y1="683.5" x2="424.5" y2="683.5" stroke="#18d818" stroke-width="0.7" />
<line x1="421.5" y1="680.1" x2="421.5" y2="687.1" stroke="#18d818" stroke-width="0.7" />
<circle cx="478.5" cy="497.3" r="2.0" stroke="#18d818" stroke-width="1" fill="none"/>
<circle cx="478.5" cy="497.3" r="2.8" stroke="#12e2e2" stroke-width="0.6" fill="none"/>
<line x1="475.0" y1="497.5" x2="482.0" y2="497.5" stroke="#18d818" stroke-width="0.7" />
<line x1="478.5" y1="493.8" x2="478.5" y2="500.8" stroke="#18d818" stroke-width="0.7" />
<circle cx="478.5" cy="683.6" r="2.0" stroke="#18d818" stroke-width="1" fill="none"/>
<circle cx="478.5" cy="683.6" r="2.8" stroke="#12e2e2" stroke-width="0.6" fill="none"/>
<line x1="475.0" y1="683.5" x2="482.0" y2="683.5" stroke="#18d818" stroke-width="0.7" />
<line x1="478.5" y1="680.1" x2="478.5" y2="687.1" stroke="#18d818" stroke-width="0.7" />
<circle cx="581.4" cy="497.3" r="2.0" stroke="#18d818" stroke-width="1" fill="none"/>
<circle cx="581.4" cy="497.3" r="2.8" stroke="#12e2e2" stroke-width="0.6" fill="none"/>
<line x1="577.9" y1="497.5" x2="584.9" y2="497.5" stroke="#18d818" stroke-width="0.7" />
<line x1="581.5" y1="493.8" x2="581.5" y2="500.8" stroke="#18d818" stroke-width="0.7" />
<circle cx="581.4" cy="683.6" r="2.0" stroke="#18d818" stroke-width="1" fill="none"/>
<circle cx="581.4" cy="683.6" r="2.8" stroke="#12e2e2" stroke-width="0.6" fill="none"/>
<line x1="577.9" y1="683.5" x2="584.9" y2="683.5" stroke="#18d818" stroke-width="0.7" />
<line x1="581.5" y1="680.1" x2="581.5" y2="687.1" stroke="#18d818" stroke-width="0.7" />
<rect x="447.5" y="572.5" width="10.0" height="9.0" stroke="#12e2e2" stroke-width="1" fill="none" />
<rect x="449.5" y="573.5" width="6.0" height="7.0" stroke="#12e2e2" stroke-width="0.7" fill="none" />
<line x1="441.4" y1="577.5" x2="463.4" y2="577.5" stroke="#18d818" stroke-width="1" />
<line x1="452.5" y1="569.1" x2="452.5" y2="585.1" stroke="#18d818" stroke-width="1" />
<rect x="447.5" y="675.5" width="10.0" height="9.0" stroke="#12e2e2" stroke-width="1" fill="none" />
<rect x="449.5" y="677.5" width="6.0" height="6.0" stroke="#12e2e2" stroke-width="0.7" fill="none" />
<line x1="441.4" y1="680.5" x2="463.4" y2="680.5" stroke="#18d818" stroke-width="1" />
<line x1="452.5" y1="672.2" x2="452.5" y2="688.2" stroke="#18d818" stroke-width="1" />
<rect x="444.5" y="586.5" width="15.0" height="15.0" stroke="#12e2e2" stroke-width="1" fill="none" />
<rect x="446.5" y="588.5" width="11.0" height="11.0" stroke="#12e2e2" stroke-width="0.8" fill="none" />
<rect x="448.5" y="590.5" width="7.0" height="7.0" stroke="#12e2e2" stroke-width="0.7" fill="none" />
<line x1="441.4" y1="594.5" x2="463.4" y2="594.5" stroke="#18d818" stroke-width="1" />
<line x1="452.5" y1="585.0" x2="452.5" y2="603.0" stroke="#18d818" stroke-width="1" />
<rect x="444.5" y="655.5" width="15.0" height="15.0" stroke="#12e2e2" stroke-width="1" fill="none" />
<rect x="446.5" y="657.5" width="11.0" height="11.0" stroke="#12e2e2" stroke-width="0.8" fill="none" />
<rect x="448.5" y="659.5" width="7.0" height="7.0" stroke="#12e2e2" stroke-width="0.7" fill="none" />
<line x1="441.4" y1="662.5" x2="463.4" y2="662.5" stroke="#18d818" stroke-width="1" />
<line x1="452.5" y1="653.9" x2="452.5" y2="671.9" stroke="#18d818" stroke-width="1" />
<line x1="450.5" y1="601.5" x2="450.5" y2="655.5" stroke="#12e2e2" stroke-width="1" />
<line x1="454.5" y1="601.5" x2="454.5" y2="655.5" stroke="#12e2e2" stroke-width="1" />
<line x1="450.1" y1="603.5" x2="454.7" y2="603.5" stroke="#12e2e2" stroke-width="0.9" />
<line x1="450.1" y1="606.5" x2="454.7" y2="606.5" stroke="#12e2e2" stroke-width="0.9" />
<line x1="450.1" y1="609.5" x2="454.7" y2="609.5" stroke="#12e2e2" stroke-width="0.9" />
<line x1="450.1" y1="612.5" x2="454.7" y2="612.5" stroke="#12e2e2" stroke-width="0.9" />
<line x1="450.1" y1="615.5" x2="454.7" y2="615.5" stroke="#12e2e2" stroke-width="0.9" />
<line x1="450.1" y1="618.5" x2="454.7" y2="618.5" stroke="#12e2e2" stroke-width="0.9" />
<line x1="450.1" y1="621.5" x2="454.7" y2="621.5" stroke="#12e2e2" stroke-width="0.9" />
<line x1="450.1" y1="624.5" x2="454.7" y2="624.5" stroke="#12e2e2" stroke-width="0.9" />
<line x1="450.1" y1="627.5" x2="454.7" y2="627.5" stroke="#12e2e2" stroke-width="0.9" />
<line x1="450.1" y1="630.5" x2="454.7" y2="630.5" stroke="#12e2e2" stroke-width="0.9" />
<line x1="450.1" y1="634.5" x2="454.7" y2="634.5" stroke="#12e2e2" stroke-width="0.9" />
<line x1="450.1" y1="637.5" x2="454.7" y2="637.5" stroke="#12e2e2" stroke-width="0.9" />
<line x1="450.1" y1="640.5" x2="454.7" y2="640.5" stroke="#12e2e2" stroke-width="0.9" />
<line x1="450.1" y1="643.5" x2="454.7" y2="643.5" stroke="#12e2e2" stroke-width="0.9" />
<line x1="450.1" y1="646.5" x2="454.7" y2="646.5" stroke="#12e2e2" stroke-width="0.9" />
<line x1="450.1" y1="649.5" x2="454.7" y2="649.5" stroke="#12e2e2" stroke-width="0.9" />
<line x1="450.1" y1="652.5" x2="454.7" y2="652.5" stroke="#12e2e2" stroke-width="0.9" />
<line x1="450.5" y1="581.8" x2="450.5" y2="586.5" stroke="#12e2e2" stroke-width="0.8" />
<line x1="453.5" y1="581.8" x2="453.5" y2="586.5" stroke="#12e2e2" stroke-width="0.8" />
<line x1="450.5" y1="670.5" x2="450.5" y2="675.5" stroke="#12e2e2" stroke-width="0.8" />
<line x1="453.5" y1="670.5" x2="453.5" y2="675.5" stroke="#12e2e2" stroke-width="0.8" />
<rect x="504.5" y="572.5" width="10.0" height="9.0" stroke="#12e2e2" stroke-width="1" fill="none" />
<rect x="506.5" y="573.5" width="6.0" height="7.0" stroke="#12e2e2" stroke-width="0.7" fill="none" />
<line x1="498.3" y1="577.5" x2="520.3" y2="577.5" stroke="#18d818" stroke-width="1" />
<line x1="509.5" y1="569.1" x2="509.5" y2="585.1" stroke="#18d818" stroke-width="1" />
<rect x="504.5" y="675.5" width="10.0" height="9.0" stroke="#12e2e2" stroke-width="1" fill="none" />
<rect x="506.5" y="677.5" width="6.0" height="6.0" stroke="#12e2e2" stroke-width="0.7" fill="none" />
<line x1="498.3" y1="680.5" x2="520.3" y2="680.5" stroke="#18d818" stroke-width="1" />
<line x1="509.5" y1="672.2" x2="509.5" y2="688.2" stroke="#18d818" stroke-width="1" />
<rect x="501.5" y="586.5" width="15.0" height="15.0" stroke="#12e2e2" stroke-width="1" fill="none" />
<rect x="503.5" y="588.5" width="11.0" height="11.0" stroke="#12e2e2" stroke-width="0.8" fill="none" />
<rect x="505.5" y="590.5" width="7.0" height="7.0" stroke="#12e2e2" stroke-width="0.7" fill="none" />
<line x1="498.3" y1="594.5" x2="520.3" y2="594.5" stroke="#18d818" stroke-width="1" />
<line x1="509.5" y1="585.0" x2="509.5" y2="603.0" stroke="#18d818" stroke-width="1" />
<rect x="501.5" y="655.5" width="15.0" height="15.0" stroke="#12e2e2" stroke-width="1" fill="none" />
<rect x="503.5" y="657.5" width="11.0" height="11.0" stroke="#12e2e2" stroke-width="0.8" fill="none" />
<rect x="505.5" y="659.5" width="7.0" height="7.0" stroke="#12e2e2" stroke-width="0.7" fill="none" />
<line x1="498.3" y1="662.5" x2="520.3" y2="662.5" stroke="#18d818" stroke-width="1" />
<line x1="509.5" y1="653.9" x2="509.5" y2="671.9" stroke="#18d818" stroke-width="1" />
<line x1="507.5" y1="601.5" x2="507.5" y2="655.5" stroke="#12e2e2" stroke-width="1" />
<line x1="511.5" y1="601.5" x2="511.5" y2="655.5" stroke="#12e2e2" stroke-width="1" />
<line x1="507.0" y1="603.5" x2="511.6" y2="603.5" stroke="#12e2e2" stroke-width="0.9" />
<line x1="507.0" y1="606.5" x2="511.6" y2="606.5" stroke="#12e2e2" stroke-width="0.9" />
<line x1="507.0" y1="609.5" x2="511.6" y2="609.5" stroke="#12e2e2" stroke-width="0.9" />
<line x1="507.0" y1="612.5" x2="511.6" y2="612.5" stroke="#12e2e2" stroke-width="0.9" />
<line x1="507.0" y1="615.5" x2="511.6" y2="615.5" stroke="#12e2e2" stroke-width="0.9" />
<line x1="507.0" y1="618.5" x2="511.6" y2="618.5" stroke="#12e2e2" stroke-width="0.9" />
<line x1="507.0" y1="621.5" x2="511.6" y2="621.5" stroke="#12e2e2" stroke-width="0.9" />
<line x1="507.0" y1="624.5" x2="511.6" y2="624.5" stroke="#12e2e2" stroke-width="0.9" />
<line x1="507.0" y1="627.5" x2="511.6" y2="627.5" stroke="#12e2e2" stroke-width="0.9" />
<line x1="507.0" y1="630.5" x2="511.6" y2="630.5" stroke="#12e2e2" stroke-width="0.9" />
<line x1="507.0" y1="634.5" x2="511.6" y2="634.5" stroke="#12e2e2" stroke-width="0.9" />
<line x1="507.0" y1="637.5" x2="511.6" y2="637.5" stroke="#12e2e2" stroke-width="0.9" />
<line x1="507.0" y1="640.5" x2="511.6" y2="640.5" stroke="#12e2e2" stroke-width="0.9" />
<line x1="507.0" y1="643.5" x2="511.6" y2="643.5" stroke="#12e2e2" stroke-width="0.9" />
<line x1="507.0" y1="646.5" x2="511.6" y2="646.5" stroke="#12e2e2" stroke-width="0.9" />
<line x1="507.0" y1="649.5" x2="511.6" y2="649.5" stroke="#12e2e2" stroke-width="0.9" />
<line x1="507.0" y1="652.5" x2="511.6" y2="652.5" stroke="#12e2e2" stroke-width="0.9" />
<line x1="507.5" y1="581.8" x2="507.5" y2="586.5" stroke="#12e2e2" stroke-width="0.8" />
<line x1="510.5" y1="581.8" x2="510.5" y2="586.5" stroke="#12e2e2" stroke-width="0.8" />
<line x1="507.5" y1="670.5" x2="507.5" y2="675.5" stroke="#12e2e2" stroke-width="0.8" />
<line x1="510.5" y1="670.5" x2="510.5" y2="675.5" stroke="#12e2e2" stroke-width="0.8" />
<rect x="544.5" y="572.5" width="9.0" height="9.0" stroke="#12e2e2" stroke-width="1" fill="none" />
<rect x="545.5" y="573.5" width="7.0" height="7.0" stroke="#12e2e2" stroke-width="0.7" fill="none" />
<line x1="538.1" y1="577.5" x2="560.1" y2="577.5" stroke="#18d818" stroke-width="1" />
<line x1="549.5" y1="569.1" x2="549.5" y2="585.1" stroke="#18d818" stroke-width="1" />
<rect x="544.5" y="675.5" width="9.0" height="9.0" stroke="#12e2e2" stroke-width="1" fill="none" />
<rect x="545.5" y="677.5" width="7.0" height="6.0" stroke="#12e2e2" stroke-width="0.7" fill="none" />
<line x1="538.1" y1="680.5" x2="560.1" y2="680.5" stroke="#18d818" stroke-width="1" />
<line x1="549.5" y1="672.2" x2="549.5" y2="688.2" stroke="#18d818" stroke-width="1" />
<rect x="541.5" y="586.5" width="15.0" height="15.0" stroke="#12e2e2" stroke-width="1" fill="none" />
<rect x="543.5" y="588.5" width="11.0" height="11.0" stroke="#12e2e2" stroke-width="0.8" fill="none" />
<rect x="545.5" y="590.5" width="7.0" height="7.0" stroke="#12e2e2" stroke-width="0.7" fill="none" />
<line x1="538.1" y1="594.5" x2="560.1" y2="594.5" stroke="#18d818" stroke-width="1" />
<line x1="549.5" y1="585.0" x2="549.5" y2="603.0" stroke="#18d818" stroke-width="1" />
<rect x="541.5" y="655.5" width="15.0" height="15.0" stroke="#12e2e2" stroke-width="1" fill="none" />
<rect x="543.5" y="657.5" width="11.0" height="11.0" stroke="#12e2e2" stroke-width="0.8" fill="none" />
<rect x="545.5" y="659.5" width="7.0" height="7.0" stroke="#12e2e2" stroke-width="0.7" fill="none" />
<line x1="538.1" y1="662.5" x2="560.1" y2="662.5" stroke="#18d818" stroke-width="1" />
<line x1="549.5" y1="653.9" x2="549.5" y2="671.9" stroke="#18d818" stroke-width="1" />
<line x1="546.5" y1="601.5" x2="546.5" y2="655.5" stroke="#12e2e2" stroke-width="1" />
<line x1="551.5" y1="601.5" x2="551.5" y2="655.5" stroke="#12e2e2" stroke-width="1" />
<line x1="546.8" y1="603.5" x2="551.4" y2="603.5" stroke="#12e2e2" stroke-width="0.9" />
<line x1="546.8" y1="606.5" x2="551.4" y2="606.5" stroke="#12e2e2" stroke-width="0.9" />
<line x1="546.8" y1="609.5" x2="551.4" y2="609.5" stroke="#12e2e2" stroke-width="0.9" />
<line x1="546.8" y1="612.5" x2="551.4" y2="612.5" stroke="#12e2e2" stroke-width="0.9" />
<line x1="546.8" y1="615.5" x2="551.4" y2="615.5" stroke="#12e2e2" stroke-width="0.9" />
<line x1="546.8" y1="618.5" x2="551.4" y2="618.5" stroke="#12e2e2" stroke-width="0.9" />
<line x1="546.8" y1="621.5" x2="551.4" y2="621.5" stroke="#12e2e2" stroke-width="0.9" />
<line x1="546.8" y1="624.5" x2="551.4" y2="624.5" stroke="#12e2e2" stroke-width="0.9" />
<line x1="546.8" y1="627.5" x2="551.4" y2="627.5" stroke="#12e2e2" stroke-width="0.9" />
<line x1="546.8" y1="630.5" x2="551.4" y2="630.5" stroke="#12e2e2" stroke-width="0.9" />
<line x1="546.8" y1="634.5" x2="551.4" y2="634.5" stroke="#12e2e2" stroke-width="0.9" />
<line x1="546.8" y1="637.5" x2="551.4" y2="637.5" stroke="#12e2e2" stroke-width="0.9" />
<line x1="546.8" y1="640.5" x2="551.4" y2="640.5" stroke="#12e2e2" stroke-width="0.9" />
<line x1="546.8" y1="643.5" x2="551.4" y2="643.5" stroke="#12e2e2" stroke-width="0.9" />
<line x1="546.8" y1="646.5" x2="551.4" y2="646.5" stroke="#12e2e2" stroke-width="0.9" />
<line x1="546.8" y1="649.5" x2="551.4" y2="649.5" stroke="#12e2e2" stroke-width="0.9" />
<line x1="546.8" y1="652.5" x2="551.4" y2="652.5" stroke="#12e2e2" stroke-width="0.9" />
<line x1="547.5" y1="581.8" x2="547.5" y2="586.5" stroke="#12e2e2" stroke-width="0.8" />
<line x1="550.5" y1="581.8" x2="550.5" y2="586.5" stroke="#12e2e2" stroke-width="0.8" />
<line x1="547.5" y1="670.5" x2="547.5" y2="675.5" stroke="#12e2e2" stroke-width="0.8" />
<line x1="550.5" y1="670.5" x2="550.5" y2="675.5" stroke="#12e2e2" stroke-width="0.8" />
<line x1="457.0" y1="575.5" x2="468.5" y2="575.5" stroke="#12e2e2" stroke-width="0.9" />
<line x1="457.0" y1="578.5" x2="468.5" y2="578.5" stroke="#12e2e2" stroke-width="0.9" />
<line x1="457.0" y1="678.5" x2="468.5" y2="678.5" stroke="#12e2e2" stroke-width="0.9" />
<line x1="457.0" y1="682.5" x2="468.5" y2="682.5" stroke="#12e2e2" stroke-width="0.9" />
<line x1="514.0" y1="575.5" x2="524.9" y2="575.5" stroke="#12e2e2" stroke-width="0.9" />
<line x1="514.0" y1="578.5" x2="524.9" y2="578.5" stroke="#12e2e2" stroke-width="0.9" />
<line x1="514.0" y1="678.5" x2="524.9" y2="678.5" stroke="#12e2e2" stroke-width="0.9" />
<line x1="514.0" y1="682.5" x2="524.9" y2="682.5" stroke="#12e2e2" stroke-width="0.9" />
<line x1="534.6" y1="575.5" x2="544.5" y2="575.5" stroke="#12e2e2" stroke-width="0.9" />
<line x1="534.6" y1="578.5" x2="544.5" y2="578.5" stroke="#12e2e2" stroke-width="0.9" />
<line x1="534.6" y1="678.5" x2="544.5" y2="678.5" stroke="#12e2e2" stroke-width="0.9" />
<line x1="534.6" y1="682.5" x2="544.5" y2="682.5" stroke="#12e2e2" stroke-width="0.9" />
<path d="M464.5 567.3 L464.5 575.5" stroke="#12e2e2" stroke-width="0.8" fill="none" />
<path d="M472.5 567.3 L472.5 575.5" stroke="#12e2e2" stroke-width="0.8" fill="none" />
<path d="M520.9 567.3 L520.9 575.5" stroke="#12e2e2" stroke-width="0.8" fill="none" />
<path d="M528.9 567.3 L528.9 575.5" stroke="#12e2e2" stroke-width="0.8" fill="none" />
<path d="M530.6 567.3 L530.6 575.5" stroke="#12e2e2" stroke-width="0.8" fill="none" />
<path d="M538.6 567.3 L538.6 575.5" stroke="#12e2e2" stroke-width="0.8" fill="none" />
<path d="M523.7 563.0 L529.7 576.0 L535.7 563.0" stroke="#12e2e2" stroke-width="0.9" fill="none" />
<path d="M523.7 673.0 L529.7 686.0 L535.7 673.0" stroke="#12e2e2" stroke-width="0.9" fill="none" />
<path d="M525.7 563.0 L529.7 572.0 L533.7 563.0" stroke="#12e2e2" stroke-width="0.7" fill="none" />
<path d="M525.7 675.0 L529.7 684.0 L533.7 675.0" stroke="#12e2e2" stroke-width="0.7" fill="none" />
<line x1="364.7" y1="646.5" x2="561.0" y2="646.5" stroke="#5eeaea" stroke-width="2.8" />
<line x1="414.5" y1="637.5" x2="533.7" y2="637.5" stroke="#18d818" stroke-width="1" />
<line x1="414.5" y1="655.5" x2="533.7" y2="655.5" stroke="#18d818" stroke-width="1" />
<line x1="420.5" y1="635.0" x2="420.5" y2="657.6" stroke="#18d818" stroke-width="1.2" />
<line x1="469.5" y1="635.0" x2="469.5" y2="657.6" stroke="#18d818" stroke-width="1.2" />
<line x1="525.5" y1="635.0" x2="525.5" y2="657.6" stroke="#18d818" stroke-width="1.2" />
<line x1="403.5" y1="637.5" x2="416.0" y2="637.5" stroke="#12e2e2" stroke-width="0.7" />
<line x1="403.5" y1="655.5" x2="416.0" y2="655.5" stroke="#12e2e2" stroke-width="0.7" />
<text transform="translate(412.5 483.2) rotate(0) scale(0.86 1)" fill="#b80f0f" stroke="#b80f0f" stroke-width="0.34" font-size="7.5" text-anchor="middle" >165</text>
<line x1="422.5" y1="480.4" x2="422.5" y2="488.8" stroke="#b80f0f" stroke-width="1" />
<line x1="425.5" y1="480.4" x2="425.5" y2="533.9" stroke="#b80f0f" stroke-width="1" />
<line x1="417.0" y1="486.5" x2="422.0" y2="486.5" stroke="#b80f0f" stroke-width="0.8" />
<line x1="428.5" y1="485.5" x2="433.0" y2="485.5" stroke="#b80f0f" stroke-width="0.8" />
<text transform="translate(493.0 483.2) rotate(0) scale(0.86 1)" fill="#b80f0f" stroke="#b80f0f" stroke-width="0.34" font-size="7.5" text-anchor="middle" >185</text>
<line x1="479.5" y1="480.4" x2="479.5" y2="488.8" stroke="#b80f0f" stroke-width="1" />
<line x1="482.5" y1="480.4" x2="482.5" y2="533.9" stroke="#b80f0f" stroke-width="1" />
<line x1="470.0" y1="485.5" x2="476.5" y2="485.5" stroke="#b80f0f" stroke-width="0.8" />
<line x1="485.0" y1="486.5" x2="489.0" y2="486.5" stroke="#b80f0f" stroke-width="0.8" />
<text transform="translate(571.7 483.2) rotate(0) scale(0.86 1)" fill="#b80f0f" stroke="#b80f0f" stroke-width="0.34" font-size="7.5" text-anchor="middle" >165</text>
<line x1="577.5" y1="480.4" x2="577.5" y2="533.9" stroke="#b80f0f" stroke-width="1" />
<line x1="581.5" y1="480.4" x2="581.5" y2="488.8" stroke="#b80f0f" stroke-width="1" />
<line x1="566.0" y1="486.5" x2="576.0" y2="486.5" stroke="#b80f0f" stroke-width="0.8" />
<line x1="583.5" y1="485.5" x2="588.0" y2="485.5" stroke="#b80f0f" stroke-width="0.8" />
<line x1="425.4" y1="496.5" x2="447.9" y2="496.5" stroke="#b80f0f" stroke-width="1" />
<line x1="425.4" y1="511.5" x2="447.9" y2="511.5" stroke="#b80f0f" stroke-width="1" />
<line x1="435.5" y1="496.7" x2="435.5" y2="511.0" stroke="#b80f0f" stroke-width="1" />
<text transform="translate(440.9 503.8) rotate(-90) scale(0.86 1)" fill="#b80f0f" stroke="#b80f0f" stroke-width="0.34" font-size="7.5" text-anchor="middle" >1600</text>
<line x1="482.4" y1="496.5" x2="504.6" y2="496.5" stroke="#b80f0f" stroke-width="1" />
<line x1="482.4" y1="511.5" x2="504.6" y2="511.5" stroke="#b80f0f" stroke-width="1" />
<line x1="492.5" y1="496.7" x2="492.5" y2="511.0" stroke="#b80f0f" stroke-width="1" />
<text transform="translate(498.2 503.8) rotate(-90) scale(0.86 1)" fill="#b80f0f" stroke="#b80f0f" stroke-width="0.34" font-size="7.5" text-anchor="middle" >1600</text>
<line x1="555.3" y1="496.5" x2="577.5" y2="496.5" stroke="#b80f0f" stroke-width="1" />
<line x1="555.3" y1="511.5" x2="577.5" y2="511.5" stroke="#b80f0f" stroke-width="1" />
<line x1="555.5" y1="496.7" x2="555.5" y2="511.0" stroke="#b80f0f" stroke-width="1" />
<text transform="translate(561.2 503.8) rotate(-90) scale(0.86 1)" fill="#b80f0f" stroke="#b80f0f" stroke-width="0.34" font-size="7.5" text-anchor="middle" >1600</text>
<line x1="406.0" y1="511.5" x2="425.4" y2="511.5" stroke="#b80f0f" stroke-width="1" />
<line x1="427.2" y1="529.5" x2="466.7" y2="529.5" stroke="#b80f0f" stroke-width="1" />
<path d="M429.7 528.7 L427.2 529.6 L429.7 530.5" stroke="#b80f0f" stroke-width="0.5" fill="none" />
<path d="M464.2 528.7 L466.7 529.6 L464.2 530.5" stroke="#b80f0f" stroke-width="0.5" fill="none" />
<text transform="translate(447.0 527.5) rotate(0) scale(0.86 1)" fill="#b80f0f" stroke="#b80f0f" stroke-width="0.34" font-size="8" text-anchor="middle" >4000</text>
<line x1="484.9" y1="529.5" x2="523.0" y2="529.5" stroke="#b80f0f" stroke-width="1" />
<path d="M487.4 528.7 L484.9 529.6 L487.4 530.5" stroke="#b80f0f" stroke-width="0.5" fill="none" />
<path d="M520.5 528.7 L523.0 529.6 L520.5 530.5" stroke="#b80f0f" stroke-width="0.5" fill="none" />
<text transform="translate(503.1 527.5) rotate(0) scale(0.86 1)" fill="#b80f0f" stroke="#b80f0f" stroke-width="0.34" font-size="8" text-anchor="middle" >4000</text>
<line x1="537.5" y1="529.5" x2="576.0" y2="529.5" stroke="#b80f0f" stroke-width="1" />
<path d="M540.0 528.7 L537.5 529.6 L540.0 530.5" stroke="#b80f0f" stroke-width="0.5" fill="none" />
<path d="M573.5 528.7 L576.0 529.6 L573.5 530.5" stroke="#b80f0f" stroke-width="0.5" fill="none" />
<text transform="translate(555.9 527.5) rotate(0) scale(0.86 1)" fill="#b80f0f" stroke="#b80f0f" stroke-width="0.34" font-size="8" text-anchor="middle" >4000</text>
<line x1="468.5" y1="529.5" x2="482.4" y2="529.5" stroke="#b80f0f" stroke-width="1" />
<line x1="524.9" y1="529.5" x2="534.6" y2="529.5" stroke="#b80f0f" stroke-width="1" />
<line x1="468.5" y1="511.0" x2="468.5" y2="537.6" stroke="#b80f0f" stroke-width="1" />
<line x1="524.5" y1="511.0" x2="524.5" y2="537.6" stroke="#b80f0f" stroke-width="1" />
<line x1="534.5" y1="511.0" x2="534.5" y2="533.9" stroke="#b80f0f" stroke-width="1" />
<text transform="translate(475.0 538.8) rotate(0) scale(0.86 1)" fill="#b80f0f" stroke="#b80f0f" stroke-width="0.34" font-size="8" text-anchor="middle" >1400</text>
<text transform="translate(530.0 538.8) rotate(0) scale(0.86 1)" fill="#b80f0f" stroke="#b80f0f" stroke-width="0.34" font-size="8" text-anchor="middle" >1000</text>
<line x1="410.5" y1="511.0" x2="410.5" y2="669.9" stroke="#b80f0f" stroke-width="1" />
<text transform="translate(408.6 539.1) rotate(-90) scale(0.86 1)" fill="#b80f0f" stroke="#b80f0f" stroke-width="0.34" font-size="8" text-anchor="middle" >4800</text>
<text transform="translate(408.6 590.2) rotate(-90) scale(0.86 1)" fill="#b80f0f" stroke="#b80f0f" stroke-width="0.34" font-size="8" text-anchor="middle" >4610</text>
<text transform="translate(408.6 635.1) rotate(-90) scale(0.86 1)" fill="#b80f0f" stroke="#b80f0f" stroke-width="0.34" font-size="8" text-anchor="middle" >4800</text>
<line x1="406.0" y1="567.5" x2="425.0" y2="567.5" stroke="#b80f0f" stroke-width="1" />
<line x1="406.0" y1="614.5" x2="418.0" y2="614.5" stroke="#b80f0f" stroke-width="1" />
<line x1="406.0" y1="669.5" x2="418.2" y2="669.5" stroke="#b80f0f" stroke-width="1" />
<text transform="translate(460.5 550.6) rotate(0) scale(0.86 1)" fill="#b80f0f" stroke="#b80f0f" stroke-width="0.34" font-size="8" text-anchor="middle" >1525</text>
<line x1="452.5" y1="550.8" x2="452.5" y2="575.2" stroke="#b80f0f" stroke-width="1" />
<line x1="468.5" y1="550.8" x2="468.5" y2="575.2" stroke="#b80f0f" stroke-width="1" />
<line x1="455.0" y1="555.5" x2="466.0" y2="555.5" stroke="#b80f0f" stroke-width="1" />
<text transform="translate(541.5 550.6) rotate(0) scale(0.86 1)" fill="#b80f0f" stroke="#b80f0f" stroke-width="0.34" font-size="8" text-anchor="middle" >1525</text>
<line x1="534.5" y1="550.8" x2="534.5" y2="575.2" stroke="#b80f0f" stroke-width="1" />
<line x1="549.5" y1="550.8" x2="549.5" y2="575.2" stroke="#b80f0f" stroke-width="1" />
<line x1="537.0" y1="555.5" x2="547.0" y2="555.5" stroke="#b80f0f" stroke-width="1" />
<text transform="translate(563.8 556.4) rotate(-90) scale(0.86 1)" fill="#b80f0f" stroke="#b80f0f" stroke-width="0.34" font-size="8" text-anchor="middle" >850</text>
<text transform="translate(565.0 585.5) rotate(-90) scale(0.86 1)" fill="#b80f0f" stroke="#b80f0f" stroke-width="0.34" font-size="8" text-anchor="middle" >1650</text>
<line x1="566.5" y1="567.3" x2="566.5" y2="577.0" stroke="#b80f0f" stroke-width="1" />
<line x1="566.5" y1="597.7" x2="566.5" y2="657.7" stroke="#b80f0f" stroke-width="1" />
<line x1="541.2" y1="567.5" x2="572.2" y2="567.5" stroke="#b80f0f" stroke-width="1" />
<line x1="549.7" y1="577.5" x2="572.2" y2="577.5" stroke="#b80f0f" stroke-width="1" />
<line x1="561.9" y1="594.5" x2="572.2" y2="594.5" stroke="#b80f0f" stroke-width="1" />
<line x1="561.9" y1="580.5" x2="566.6" y2="580.5" stroke="#b80f0f" stroke-width="0.8" />
<text transform="translate(564.0 628.5) rotate(-90) scale(0.86 1)" fill="#b80f0f" stroke="#b80f0f" stroke-width="0.34" font-size="8" text-anchor="middle" >6110</text>
<text transform="translate(564.0 671.7) rotate(-90) scale(0.86 1)" fill="#b80f0f" stroke="#b80f0f" stroke-width="0.34" font-size="8" text-anchor="middle" >1650</text>
<line x1="564.7" y1="662.5" x2="572.2" y2="662.5" stroke="#b80f0f" stroke-width="1" />
<line x1="559.0" y1="680.5" x2="572.2" y2="680.5" stroke="#b80f0f" stroke-width="1" />
<text transform="translate(495.5 685.8) rotate(-90) scale(0.86 1)" fill="#b80f0f" stroke="#b80f0f" stroke-width="0.34" font-size="8" text-anchor="middle" >950</text>
<line x1="487.7" y1="669.5" x2="502.7" y2="669.5" stroke="#b80f0f" stroke-width="1" />
<line x1="472.7" y1="679.5" x2="502.7" y2="679.5" stroke="#b80f0f" stroke-width="1" />
<line x1="498.5" y1="661.4" x2="498.5" y2="680.2" stroke="#b80f0f" stroke-width="1" />
<line x1="496.5" y1="663.5" x2="499.5" y2="663.5" stroke="#b80f0f" stroke-width="0.8" />
<line x1="493.0" y1="468.5" x2="499.0" y2="468.5" stroke="#b80f0f" stroke-width="0.9" />
<text transform="translate(505.1 470.8) scale(0.77 1)" fill="#e01018" font-size="6" font-weight="bold" text-anchor="middle" stroke="#e01018" stroke-width="0.55">E</text>
<text transform="translate(508.4 470.8) scale(0.62 1)" fill="#e01018" font-size="6" font-weight="bold" text-anchor="middle" stroke="#e01018" stroke-width="0.55">M</text>
<text transform="translate(539.1 485.0) scale(0.71 1)" fill="#e01018" font-size="6" font-weight="bold" text-anchor="middle" stroke="#e01018" stroke-width="0.55">&amp;</text>
<text transform="translate(542.4 485.0) scale(0.53 1)" fill="#e01018" font-size="6" font-weight="bold" text-anchor="middle" stroke="#e01018" stroke-width="0.55">@</text>
<line x1="551.0" y1="482.5" x2="558.5" y2="482.5" stroke="#b80f0f" stroke-width="0.9" />
<text transform="translate(814.4 487.6) scale(0.86 1)" fill="#e01018" font-size="7.5" font-weight="bold" text-anchor="middle" stroke="#e01018" stroke-width="0.55">&amp;</text>
<text transform="translate(819.3 487.6) scale(0.86 1)" fill="#e01018" font-size="7.5" font-weight="bold" text-anchor="middle" stroke="#e01018" stroke-width="0.55">H</text>
<text transform="translate(824.2 487.6) scale(0.69 1)" fill="#e01018" font-size="7.5" font-weight="bold" text-anchor="middle" stroke="#e01018" stroke-width="0.55">%</text>
<text transform="translate(829.1 487.6) scale(0.74 1)" fill="#e01018" font-size="7.5" font-weight="bold" text-anchor="middle" stroke="#e01018" stroke-width="0.55">M</text>
<line x1="811.0" y1="489.5" x2="832.5" y2="489.5" stroke="#b80f0f" stroke-width="0.9" />
<rect x="770.7" y="541.1" width="109.9" height="87.5" stroke="#3fe6c8" stroke-width="1.5" fill="none" />
<rect x="772.5" y="542.5" width="107.0" height="85.0" stroke="#ecf040" stroke-width="1.1" fill="none" />
<rect x="771.5" y="541.5" width="109.0" height="87.0" stroke="#9ef" stroke-width="0.7" fill="none" stroke-dasharray="3 2"/>
<line x1="801.7" y1="541.1" x2="801.7" y2="628.6" stroke="#0de67a" stroke-width="2.6" />
<line x1="799.5" y1="543.1" x2="799.5" y2="626.6" stroke="#12e2e2" stroke-width="0.8" />
<line x1="803.5" y1="543.1" x2="803.5" y2="626.6" stroke="#12e2e2" stroke-width="0.8" />
<line x1="797.2" y1="543.6" x2="799.8" y2="547.6" stroke="#12e2e2" stroke-width="0.8" />
<line x1="806.2" y1="543.6" x2="803.6" y2="547.6" stroke="#12e2e2" stroke-width="0.8" />
<line x1="797.2" y1="626.1" x2="799.8" y2="622.1" stroke="#12e2e2" stroke-width="0.8" />
<line x1="806.2" y1="626.1" x2="803.6" y2="622.1" stroke="#12e2e2" stroke-width="0.8" />
<line x1="850.5" y1="541.1" x2="850.5" y2="628.6" stroke="#0de67a" stroke-width="2.6" />
<line x1="848.5" y1="543.1" x2="848.5" y2="626.6" stroke="#12e2e2" stroke-width="0.8" />
<line x1="852.5" y1="543.1" x2="852.5" y2="626.6" stroke="#12e2e2" stroke-width="0.8" />
<line x1="846.0" y1="543.6" x2="848.6" y2="547.6" stroke="#12e2e2" stroke-width="0.8" />
<line x1="855.0" y1="543.6" x2="852.4" y2="547.6" stroke="#12e2e2" stroke-width="0.8" />
<line x1="846.0" y1="626.1" x2="848.6" y2="622.1" stroke="#12e2e2" stroke-width="0.8" />
<line x1="855.0" y1="626.1" x2="852.4" y2="622.1" stroke="#12e2e2" stroke-width="0.8" />
<line x1="769.2" y1="585.2" x2="882.1" y2="585.2" stroke="#0de67a" stroke-width="2.6" />
<line x1="772.7" y1="583.5" x2="878.6" y2="583.5" stroke="#12e2e2" stroke-width="0.8" />
<line x1="772.7" y1="587.5" x2="878.6" y2="587.5" stroke="#12e2e2" stroke-width="0.8" />
<line x1="773.2" y1="580.7" x2="777.2" y2="583.3" stroke="#12e2e2" stroke-width="0.8" />
<line x1="773.2" y1="589.7" x2="777.2" y2="587.1" stroke="#12e2e2" stroke-width="0.8" />
<line x1="878.1" y1="580.7" x2="874.1" y2="583.3" stroke="#12e2e2" stroke-width="0.8" />
<line x1="878.1" y1="589.7" x2="874.1" y2="587.1" stroke="#12e2e2" stroke-width="0.8" />
<line x1="825.5" y1="535.0" x2="825.5" y2="653.0" stroke="#18d818" stroke-width="1" stroke-dasharray="14 1.5 1.5 1.5"/>
<line x1="773.5" y1="520.5" x2="877.7" y2="520.5" stroke="#b80f0f" stroke-width="1" />
<path d="M776.0 519.1 L773.5 520.0 L776.0 520.9" stroke="#b80f0f" stroke-width="0.5" fill="none" />
<path d="M875.2 519.1 L877.7 520.0 L875.2 520.9" stroke="#b80f0f" stroke-width="0.5" fill="none" />
<text transform="translate(825.7 518.2) rotate(0) scale(0.86 1)" fill="#b80f0f" stroke="#b80f0f" stroke-width="0.34" font-size="8" text-anchor="middle" >5300</text>
<line x1="774.5" y1="530.5" x2="876.8" y2="530.5" stroke="#b80f0f" stroke-width="1" />
<path d="M777.0 529.9 L774.5 530.8 L777.0 531.7" stroke="#b80f0f" stroke-width="0.5" fill="none" />
<path d="M874.3 529.9 L876.8 530.8 L874.3 531.7" stroke="#b80f0f" stroke-width="0.5" fill="none" />
<text transform="translate(825.7 529.0) rotate(0) scale(0.86 1)" fill="#b80f0f" stroke="#b80f0f" stroke-width="0.34" font-size="8" text-anchor="middle" >20*260=5200</text>
<line x1="770.5" y1="515.9" x2="770.5" y2="540.7" stroke="#b80f0f" stroke-width="1" />
<line x1="771.0" y1="527.0" x2="771.0" y2="540.7" stroke="#b80f0f" stroke-width="2" />
<line x1="880.5" y1="515.9" x2="880.5" y2="540.7" stroke="#b80f0f" stroke-width="1" />
<line x1="881.0" y1="527.0" x2="881.0" y2="540.7" stroke="#b80f0f" stroke-width="2" />
<text transform="translate(741.6 523.4) rotate(0) scale(0.86 1)" fill="#b80f0f" stroke="#b80f0f" stroke-width="0.34" font-size="7.8" text-anchor="middle" >60-ø18</text>
<line x1="729.4" y1="524.5" x2="753.8" y2="524.5" stroke="#b80f0f" stroke-width="1" />
<line x1="753.8" y1="524.4" x2="769.8" y2="540.7" stroke="#b80f0f" stroke-width="1" />
<path d="M739.5 531.0 L741.6 526.0 L743.7 531.0 Z" stroke="#111" stroke-width="0.8" fill="none" />
<text transform="translate(741.5 538.0) rotate(0) scale(0.86 1)" fill="#111" stroke="#111" stroke-width="0.34" font-size="7" text-anchor="middle" >/25</text>
<line x1="749.5" y1="541.1" x2="749.5" y2="628.6" stroke="#b80f0f" stroke-width="1" />
<line x1="761.5" y1="541.1" x2="761.5" y2="628.6" stroke="#b80f0f" stroke-width="1" />
<line x1="744.4" y1="541.5" x2="770.7" y2="541.5" stroke="#b80f0f" stroke-width="1" />
<line x1="744.4" y1="628.5" x2="770.7" y2="628.5" stroke="#b80f0f" stroke-width="1" />
<line x1="756.6" y1="541.0" x2="770.7" y2="541.0" stroke="#b80f0f" stroke-width="1.8" />
<line x1="756.6" y1="628.0" x2="770.7" y2="628.0" stroke="#b80f0f" stroke-width="1.8" />
<text transform="translate(747.6 584.9) rotate(-90) scale(0.86 1)" fill="#b80f0f" stroke="#b80f0f" stroke-width="0.34" font-size="8" text-anchor="middle" >4200</text>
<text transform="translate(759.8 584.9) rotate(-90) scale(0.86 1)" fill="#b80f0f" stroke="#b80f0f" stroke-width="0.34" font-size="8" text-anchor="middle" >20*205=4100</text>
<line x1="880.6" y1="542.5" x2="901.8" y2="542.5" stroke="#b80f0f" stroke-width="1" />
<line x1="880.6" y1="626.5" x2="901.8" y2="626.5" stroke="#b80f0f" stroke-width="1" />
<line x1="896.5" y1="548.2" x2="896.5" y2="622.4" stroke="#b80f0f" stroke-width="1" />
<text transform="translate(894.6 584.9) rotate(-90) scale(0.86 1)" fill="#b80f0f" stroke="#b80f0f" stroke-width="0.34" font-size="8" text-anchor="middle" >4000</text>
<line x1="895.5" y1="502.2" x2="895.5" y2="521.0" stroke="#b80f0f" stroke-width="1" />
<path d="M895.6 502.2 L904.6 505.6 L895.6 508.7" stroke="#b80f0f" stroke-width="0.9" fill="none" />
<line x1="895.6" y1="521.5" x2="924.7" y2="521.5" stroke="#b80f0f" stroke-width="1" />
<line x1="895.6" y1="521.0" x2="881.5" y2="539.8" stroke="#b80f0f" stroke-width="1" />
<text transform="translate(916.1 510.0) rotate(0) scale(0.86 1)" fill="#b80f0f" stroke="#b80f0f" stroke-width="0.34" font-size="7" text-anchor="middle" >60</text>
<line x1="911.6" y1="512.0" x2="916.1" y2="518.5" stroke="#b80f0f" stroke-width="0.8" />
<line x1="920.6" y1="512.0" x2="916.1" y2="518.5" stroke="#b80f0f" stroke-width="0.8" />
<line x1="916.5" y1="514.0" x2="916.5" y2="521.0" stroke="#b80f0f" stroke-width="0.8" />
<text transform="translate(911.6 520.2) rotate(0) scale(0.86 1)" fill="#b80f0f" stroke="#b80f0f" stroke-width="0.34" font-size="5.5" text-anchor="middle" >2</text>
<text transform="translate(926.7 523.8) rotate(0) scale(0.86 1)" fill="#b80f0f" stroke="#b80f0f" stroke-width="0.34" font-size="7.5" text-anchor="middle" >4</text>
<circle cx="810.5" cy="568.0" r="2.3" stroke="#b80f0f" stroke-width="1" fill="none"/>
<line x1="810.5" y1="568.0" x2="803.6" y2="582.0" stroke="#b80f0f" stroke-width="1" />
<line x1="810.5" y1="550.5" x2="810.5" y2="568.0" stroke="#b80f0f" stroke-width="1" />
<path d="M810.8 550.5 L819.5 554.0 L810.8 556.5" stroke="#b80f0f" stroke-width="0.9" fill="none" />
<line x1="810.5" y1="568.5" x2="836.5" y2="568.5" stroke="#b80f0f" stroke-width="1" />
<text transform="translate(819.8 567.2) rotate(0) scale(0.86 1)" fill="#b80f0f" stroke="#b80f0f" stroke-width="0.34" font-size="7.5" text-anchor="middle" >6</text>
<path d="M825.0 568.0 L825.0 562.5 L831.5 568.0" stroke="#b80f0f" stroke-width="0.9" fill="none" />
<text transform="translate(838.3 570.6) rotate(0) scale(0.86 1)" fill="#b80f0f" stroke="#b80f0f" stroke-width="0.34" font-size="7.5" text-anchor="middle" >4</text>
<line x1="877.7" y1="589.6" x2="896.9" y2="656.0" stroke="#b80f0f" stroke-width="1" />
<line x1="897.5" y1="637.2" x2="897.5" y2="656.0" stroke="#b80f0f" stroke-width="1" />
<path d="M897.4 637.2 L904.9 640.5 L897.4 642.7" stroke="#b80f0f" stroke-width="0.9" fill="none" />
<line x1="896.9" y1="656.5" x2="923.8" y2="656.5" stroke="#b80f0f" stroke-width="1" />
<text transform="translate(905.4 655.2) rotate(0) scale(0.86 1)" fill="#b80f0f" stroke="#b80f0f" stroke-width="0.34" font-size="7.5" text-anchor="middle" >6</text>
<path d="M910.4 650.5 L910.4 661.0 L916.9 656.0 Z" stroke="#b80f0f" stroke-width="0.9" fill="none" />
<text transform="translate(925.3 658.6) rotate(0) scale(0.86 1)" fill="#b80f0f" stroke="#b80f0f" stroke-width="0.34" font-size="7.5" text-anchor="middle" >6</text>
<line x1="772.5" y1="629.7" x2="772.5" y2="667.3" stroke="#b80f0f" stroke-width="1" />
<line x1="801.5" y1="629.7" x2="801.5" y2="653.2" stroke="#b80f0f" stroke-width="1" />
<line x1="850.5" y1="629.7" x2="850.5" y2="653.2" stroke="#b80f0f" stroke-width="1" />
<line x1="879.5" y1="629.7" x2="879.5" y2="667.3" stroke="#b80f0f" stroke-width="1" />
<line x1="804.5" y1="648.5" x2="847.7" y2="648.5" stroke="#b80f0f" stroke-width="1" />
<path d="M807.0 647.6 L804.5 648.5 L807.0 649.4" stroke="#b80f0f" stroke-width="0.5" fill="none" />
<path d="M845.2 647.6 L847.7 648.5 L845.2 649.4" stroke="#b80f0f" stroke-width="0.5" fill="none" />
<text transform="translate(825.7 646.3) rotate(0) scale(0.86 1)" fill="#b80f0f" stroke="#b80f0f" stroke-width="0.34" font-size="8" text-anchor="middle" >1700</text>
<line x1="774.5" y1="662.5" x2="877.4" y2="662.5" stroke="#b80f0f" stroke-width="1" />
<path d="M777.0 661.3 L774.5 662.2 L777.0 663.1" stroke="#b80f0f" stroke-width="0.5" fill="none" />
<path d="M874.9 661.3 L877.4 662.2 L874.9 663.1" stroke="#b80f0f" stroke-width="0.5" fill="none" />
<text transform="translate(825.7 660.3) rotate(0) scale(0.86 1)" fill="#b80f0f" stroke="#b80f0f" stroke-width="0.34" font-size="8" text-anchor="middle" >5100</text>
<text transform="translate(815.9 699.5) scale(0.83 1)" fill="#e01018" font-size="7.5" font-weight="bold" text-anchor="middle" stroke="#e01018" stroke-width="0.55">R</text>
<text transform="translate(820.6 699.5) scale(0.72 1)" fill="#e01018" font-size="7.5" font-weight="bold" text-anchor="middle" stroke="#e01018" stroke-width="0.55">M</text>
<text transform="translate(825.4 699.5) scale(0.83 1)" fill="#e01018" font-size="7.5" font-weight="bold" text-anchor="middle" stroke="#e01018" stroke-width="0.55">&amp;</text>
<text transform="translate(830.1 699.5) scale(0.68 1)" fill="#e01018" font-size="7.5" font-weight="bold" text-anchor="middle" stroke="#e01018" stroke-width="0.55">%</text>
<line x1="812.0" y1="700.5" x2="833.0" y2="700.5" stroke="#b80f0f" stroke-width="0.9" />
<rect x="783.5" y="747.5" width="87.7" height="110.4" stroke="#3fe6c8" stroke-width="1.5" fill="none" />
<rect x="785.5" y="749.5" width="84.0" height="107.0" stroke="#ecf040" stroke-width="1.1" fill="none" />
<rect x="783.5" y="747.5" width="87.0" height="110.0" stroke="#9ef" stroke-width="0.7" fill="none" stroke-dasharray="3 2"/>
<line x1="827.4" y1="747.5" x2="827.4" y2="857.9" stroke="#0de67a" stroke-width="2.6" />
<line x1="825.5" y1="749.5" x2="825.5" y2="855.9" stroke="#12e2e2" stroke-width="0.8" />
<line x1="829.5" y1="749.5" x2="829.5" y2="855.9" stroke="#12e2e2" stroke-width="0.8" />
<line x1="822.9" y1="750.0" x2="825.5" y2="754.0" stroke="#12e2e2" stroke-width="0.8" />
<line x1="831.9" y1="750.0" x2="829.3" y2="754.0" stroke="#12e2e2" stroke-width="0.8" />
<line x1="822.9" y1="855.4" x2="825.5" y2="851.4" stroke="#12e2e2" stroke-width="0.8" />
<line x1="831.9" y1="855.4" x2="829.3" y2="851.4" stroke="#12e2e2" stroke-width="0.8" />
<line x1="782.0" y1="780.0" x2="872.7" y2="780.0" stroke="#0de67a" stroke-width="2.6" />
<line x1="785.5" y1="778.5" x2="869.2" y2="778.5" stroke="#12e2e2" stroke-width="0.8" />
<line x1="785.5" y1="781.5" x2="869.2" y2="781.5" stroke="#12e2e2" stroke-width="0.8" />
<line x1="786.0" y1="775.5" x2="790.0" y2="778.1" stroke="#12e2e2" stroke-width="0.8" />
<line x1="786.0" y1="784.5" x2="790.0" y2="781.9" stroke="#12e2e2" stroke-width="0.8" />
<line x1="868.7" y1="775.5" x2="864.7" y2="778.1" stroke="#12e2e2" stroke-width="0.8" />
<line x1="868.7" y1="784.5" x2="864.7" y2="781.9" stroke="#12e2e2" stroke-width="0.8" />
<line x1="782.0" y1="825.4" x2="872.7" y2="825.4" stroke="#0de67a" stroke-width="2.6" />
<line x1="785.5" y1="823.5" x2="869.2" y2="823.5" stroke="#12e2e2" stroke-width="0.8" />
<line x1="785.5" y1="827.5" x2="869.2" y2="827.5" stroke="#12e2e2" stroke-width="0.8" />
<line x1="786.0" y1="820.9" x2="790.0" y2="823.5" stroke="#12e2e2" stroke-width="0.8" />
<line x1="786.0" y1="829.9" x2="790.0" y2="827.3" stroke="#12e2e2" stroke-width="0.8" />
<line x1="868.7" y1="820.9" x2="864.7" y2="823.5" stroke="#12e2e2" stroke-width="0.8" />
<line x1="868.7" y1="829.9" x2="864.7" y2="827.3" stroke="#12e2e2" stroke-width="0.8" />
<line x1="776.5" y1="802.5" x2="877.5" y2="802.5" stroke="#18d818" stroke-width="1" stroke-dasharray="14 1.5 1.5 1.5"/>
<line x1="785.7" y1="718.5" x2="870.2" y2="718.5" stroke="#b80f0f" stroke-width="1" />
<path d="M788.2 718.0 L785.7 718.9 L788.2 719.8" stroke="#b80f0f" stroke-width="0.5" fill="none" />
<path d="M867.7 718.0 L870.2 718.9 L867.7 719.8" stroke="#b80f0f" stroke-width="0.5" fill="none" />
<text transform="translate(827.0 717.0) rotate(0) scale(0.86 1)" fill="#b80f0f" stroke="#b80f0f" stroke-width="0.34" font-size="8" text-anchor="middle" >4200</text>
<line x1="786.7" y1="731.5" x2="869.3" y2="731.5" stroke="#b80f0f" stroke-width="1" />
<path d="M789.2 730.2 L786.7 731.1 L789.2 732.0" stroke="#b80f0f" stroke-width="0.5" fill="none" />
<path d="M866.8 730.2 L869.3 731.1 L866.8 732.0" stroke="#b80f0f" stroke-width="0.5" fill="none" />
<text transform="translate(827.5 728.6) rotate(0) scale(0.86 1)" fill="#b80f0f" stroke="#b80f0f" stroke-width="0.34" font-size="8" text-anchor="middle" >20*205=4100</text>
<line x1="783.5" y1="715.2" x2="783.5" y2="747.0" stroke="#b80f0f" stroke-width="1" />
<line x1="784.0" y1="726.5" x2="784.0" y2="747.0" stroke="#b80f0f" stroke-width="2" />
<line x1="871.5" y1="715.2" x2="871.5" y2="747.0" stroke="#b80f0f" stroke-width="1" />
<line x1="871.0" y1="726.5" x2="871.0" y2="747.0" stroke="#b80f0f" stroke-width="2" />
<text transform="translate(754.6 728.7) rotate(0) scale(0.86 1)" fill="#b80f0f" stroke="#b80f0f" stroke-width="0.34" font-size="7.8" text-anchor="middle" >96-ø18</text>
<line x1="742.2" y1="729.5" x2="767.0" y2="729.5" stroke="#b80f0f" stroke-width="1" />
<line x1="767.0" y1="729.9" x2="782.9" y2="746.7" stroke="#b80f0f" stroke-width="1" />
<path d="M752.6 737.0 L754.7 732.0 L756.8 737.0 Z" stroke="#111" stroke-width="0.8" fill="none" />
<text transform="translate(753.5 744.2) rotate(0) scale(0.86 1)" fill="#111" stroke="#111" stroke-width="0.34" font-size="7" text-anchor="middle" >/25</text>
<line x1="886.5" y1="708.6" x2="886.5" y2="727.9" stroke="#b80f0f" stroke-width="1" />
<path d="M886.6 708.6 L895.6 712.0 L886.6 715.1" stroke="#b80f0f" stroke-width="0.9" fill="none" />
<line x1="886.6" y1="727.5" x2="915.3" y2="727.5" stroke="#b80f0f" stroke-width="1" />
<line x1="886.6" y1="727.9" x2="872.1" y2="746.7" stroke="#b80f0f" stroke-width="1" />
<text transform="translate(907.1 716.9) rotate(0) scale(0.86 1)" fill="#b80f0f" stroke="#b80f0f" stroke-width="0.34" font-size="7" text-anchor="middle" >60</text>
<line x1="902.6" y1="718.9" x2="907.1" y2="725.4" stroke="#b80f0f" stroke-width="0.8" />
<line x1="911.6" y1="718.9" x2="907.1" y2="725.4" stroke="#b80f0f" stroke-width="0.8" />
<line x1="907.5" y1="720.9" x2="907.5" y2="727.9" stroke="#b80f0f" stroke-width="0.8" />
<text transform="translate(902.6 727.1) rotate(0) scale(0.86 1)" fill="#b80f0f" stroke="#b80f0f" stroke-width="0.34" font-size="5.5" text-anchor="middle" >2</text>
<text transform="translate(917.3 730.7) rotate(0) scale(0.86 1)" fill="#b80f0f" stroke="#b80f0f" stroke-width="0.34" font-size="7.5" text-anchor="middle" >4</text>
<line x1="753.4" y1="747.5" x2="783.5" y2="747.5" stroke="#b80f0f" stroke-width="1" />
<line x1="871.2" y1="747.5" x2="905.0" y2="747.5" stroke="#b80f0f" stroke-width="1" />
<line x1="871.2" y1="748.0" x2="892.8" y2="748.0" stroke="#b80f0f" stroke-width="1.8" />
<line x1="753.4" y1="856.5" x2="783.5" y2="856.5" stroke="#b80f0f" stroke-width="1" />
<line x1="871.2" y1="857.5" x2="905.0" y2="857.5" stroke="#b80f0f" stroke-width="1" />
<line x1="871.2" y1="858.0" x2="892.8" y2="858.0" stroke="#b80f0f" stroke-width="1.8" />
<line x1="757.5" y1="748.5" x2="757.5" y2="856.4" stroke="#b80f0f" stroke-width="1" />
<text transform="translate(756.0 802.3) rotate(-90) scale(0.86 1)" fill="#b80f0f" stroke="#b80f0f" stroke-width="0.34" font-size="8" text-anchor="middle" >6875</text>
<line x1="772.5" y1="780.0" x2="772.5" y2="825.4" stroke="#b80f0f" stroke-width="1" />
<line x1="768.5" y1="780.5" x2="783.5" y2="780.5" stroke="#b80f0f" stroke-width="1" />
<line x1="768.5" y1="825.5" x2="783.5" y2="825.5" stroke="#b80f0f" stroke-width="1" />
<text transform="translate(770.7 802.3) rotate(-90) scale(0.86 1)" fill="#b80f0f" stroke="#b80f0f" stroke-width="0.34" font-size="8" text-anchor="middle" >2281</text>
<line x1="890.5" y1="747.5" x2="890.5" y2="857.9" stroke="#b80f0f" stroke-width="1" />
<line x1="899.5" y1="751.3" x2="899.5" y2="854.6" stroke="#b80f0f" stroke-width="1" />
<text transform="translate(887.6 802.3) rotate(-90) scale(0.86 1)" fill="#b80f0f" stroke="#b80f0f" stroke-width="0.34" font-size="8" text-anchor="middle" >28*249=6972</text>
<text transform="translate(897.4 802.3) rotate(-90) scale(0.86 1)" fill="#b80f0f" stroke="#b80f0f" stroke-width="0.34" font-size="8" text-anchor="middle" >7075</text>
<circle cx="836.1" cy="764.4" r="2.3" stroke="#b80f0f" stroke-width="1" fill="none"/>
<line x1="836.1" y1="764.4" x2="828.9" y2="778.1" stroke="#b80f0f" stroke-width="1" />
<line x1="836.5" y1="746.9" x2="836.5" y2="764.4" stroke="#b80f0f" stroke-width="1" />
<path d="M836.4 746.9 L845.1 750.4 L836.4 752.9" stroke="#b80f0f" stroke-width="0.9" fill="none" />
<line x1="836.1" y1="764.5" x2="862.1" y2="764.5" stroke="#b80f0f" stroke-width="1" />
<text transform="translate(845.4 763.6) rotate(0) scale(0.86 1)" fill="#b80f0f" stroke="#b80f0f" stroke-width="0.34" font-size="7.5" text-anchor="middle" >6</text>
<path d="M850.6 764.4 L850.6 758.9 L857.1 764.4" stroke="#b80f0f" stroke-width="0.9" fill="none" />
<text transform="translate(863.9 767.0) rotate(0) scale(0.86 1)" fill="#b80f0f" stroke="#b80f0f" stroke-width="0.34" font-size="7.5" text-anchor="middle" >4</text>
<line x1="867.0" y1="828.3" x2="890.0" y2="884.6" stroke="#b80f0f" stroke-width="1" />
<line x1="890.5" y1="865.4" x2="890.5" y2="884.6" stroke="#b80f0f" stroke-width="1" />
<path d="M890.5 865.4 L898.0 868.7 L890.5 870.9" stroke="#b80f0f" stroke-width="0.9" fill="none" />
<line x1="890.0" y1="884.5" x2="917.2" y2="884.5" stroke="#b80f0f" stroke-width="1" />
<text transform="translate(898.5 883.8) rotate(0) scale(0.86 1)" fill="#b80f0f" stroke="#b80f0f" stroke-width="0.34" font-size="7.5" text-anchor="middle" >6</text>
<path d="M903.5 879.1 L903.5 889.6 L910.0 884.6 Z" stroke="#b80f0f" stroke-width="0.9" fill="none" />
<text transform="translate(918.7 887.2) rotate(0) scale(0.86 1)" fill="#b80f0f" stroke="#b80f0f" stroke-width="0.34" font-size="7.5" text-anchor="middle" >6</text>
<line x1="785.5" y1="859.2" x2="785.5" y2="878.6" stroke="#b80f0f" stroke-width="1" />
<line x1="869.5" y1="859.2" x2="869.5" y2="878.6" stroke="#b80f0f" stroke-width="1" />
<line x1="787.6" y1="873.5" x2="866.9" y2="873.5" stroke="#b80f0f" stroke-width="1" />
<path d="M790.1 873.0 L787.6 873.9 L790.1 874.8" stroke="#b80f0f" stroke-width="0.5" fill="none" />
<path d="M864.4 873.0 L866.9 873.9 L864.4 874.8" stroke="#b80f0f" stroke-width="0.5" fill="none" />
<text transform="translate(827.4 871.7) rotate(0) scale(0.86 1)" fill="#b80f0f" stroke="#b80f0f" stroke-width="0.34" font-size="8" text-anchor="middle" >4000</text>
<text transform="translate(584.6 741.6) scale(0.78 1)" fill="#e01018" font-size="7" font-weight="bold" text-anchor="middle" stroke="#e01018" stroke-width="0.55">R</text>
<text transform="translate(588.7 741.6) scale(0.63 1)" fill="#e01018" font-size="7" font-weight="bold" text-anchor="middle" stroke="#e01018" stroke-width="0.55">%</text>
<text transform="translate(592.8 741.6) scale(0.78 1)" fill="#e01018" font-size="7" font-weight="bold" text-anchor="middle" stroke="#e01018" stroke-width="0.55">H</text>
<text transform="translate(596.9 741.6) scale(0.63 1)" fill="#e01018" font-size="7" font-weight="bold" text-anchor="middle" stroke="#e01018" stroke-width="0.55">%</text>
<line x1="581.5" y1="743.5" x2="599.5" y2="743.5" stroke="#b80f0f" stroke-width="0.9" />
<rect x="544.5" y="767.3" width="92.9" height="93.4" stroke="#12e2e2" stroke-width="1.6" fill="none" />
<rect x="556.0" y="779.7" width="70.1" height="69.2" stroke="#12e2e2" stroke-width="1.4" fill="none" />
<line x1="556.5" y1="781.0" x2="556.5" y2="848.0" stroke="#eef03a" stroke-width="1" />
<line x1="625.5" y1="781.0" x2="625.5" y2="848.0" stroke="#eef03a" stroke-width="1" />
<line x1="557.0" y1="848.5" x2="625.0" y2="848.5" stroke="#eef03a" stroke-width="1" />
<line x1="544.5" y1="779.5" x2="637.4" y2="779.5" stroke="#12e2e2" stroke-width="1.2" />
<line x1="544.5" y1="848.5" x2="637.4" y2="848.5" stroke="#12e2e2" stroke-width="1.2" />
<line x1="556.5" y1="767.3" x2="556.5" y2="860.7" stroke="#12e2e2" stroke-width="1.1" />
<line x1="626.5" y1="767.3" x2="626.5" y2="860.7" stroke="#12e2e2" stroke-width="1.1" />
<line x1="590.5" y1="767.3" x2="590.5" y2="860.7" stroke="#18d818" stroke-width="1.2" />
<line x1="533.2" y1="813.5" x2="642.5" y2="813.5" stroke="#18d818" stroke-width="1.2" />
<line x1="545.0" y1="780.5" x2="637.0" y2="780.5" stroke="#18d818" stroke-width="1" />
<line x1="546.0" y1="773.5" x2="553.2" y2="773.5" stroke="#18d818" stroke-width="1" />
<line x1="549.5" y1="770.2" x2="549.5" y2="777.4" stroke="#18d818" stroke-width="1" />
<line x1="546.0" y1="855.5" x2="553.2" y2="855.5" stroke="#18d818" stroke-width="1" />
<line x1="549.5" y1="851.7" x2="549.5" y2="858.9" stroke="#18d818" stroke-width="1" />
<line x1="566.6" y1="773.5" x2="573.8" y2="773.5" stroke="#18d818" stroke-width="1" />
<line x1="570.5" y1="770.2" x2="570.5" y2="777.4" stroke="#18d818" stroke-width="1" />
<line x1="566.6" y1="855.5" x2="573.8" y2="855.5" stroke="#18d818" stroke-width="1" />
<line x1="570.5" y1="851.7" x2="570.5" y2="858.9" stroke="#18d818" stroke-width="1" />
<line x1="587.0" y1="773.5" x2="594.2" y2="773.5" stroke="#18d818" stroke-width="1" />
<line x1="590.5" y1="770.2" x2="590.5" y2="777.4" stroke="#18d818" stroke-width="1" />
<line x1="587.0" y1="855.5" x2="594.2" y2="855.5" stroke="#18d818" stroke-width="1" />
<line x1="590.5" y1="851.7" x2="590.5" y2="858.9" stroke="#18d818" stroke-width="1" />
<line x1="608.0" y1="773.5" x2="615.2" y2="773.5" stroke="#18d818" stroke-width="1" />
<line x1="611.5" y1="770.2" x2="611.5" y2="777.4" stroke="#18d818" stroke-width="1" />
<line x1="608.0" y1="855.5" x2="615.2" y2="855.5" stroke="#18d818" stroke-width="1" />
<line x1="611.5" y1="851.7" x2="611.5" y2="858.9" stroke="#18d818" stroke-width="1" />
<line x1="628.0" y1="773.5" x2="635.2" y2="773.5" stroke="#18d818" stroke-width="1" />
<line x1="631.5" y1="770.2" x2="631.5" y2="777.4" stroke="#18d818" stroke-width="1" />
<line x1="628.0" y1="855.5" x2="635.2" y2="855.5" stroke="#18d818" stroke-width="1" />
<line x1="631.5" y1="851.7" x2="631.5" y2="858.9" stroke="#18d818" stroke-width="1" />
<line x1="546.0" y1="794.5" x2="553.2" y2="794.5" stroke="#18d818" stroke-width="1" />
<line x1="549.5" y1="790.6" x2="549.5" y2="797.8" stroke="#18d818" stroke-width="1" />
<line x1="628.0" y1="794.5" x2="635.2" y2="794.5" stroke="#18d818" stroke-width="1" />
<line x1="631.5" y1="790.6" x2="631.5" y2="797.8" stroke="#18d818" stroke-width="1" />
<line x1="546.0" y1="813.5" x2="553.2" y2="813.5" stroke="#18d818" stroke-width="1" />
<line x1="549.5" y1="810.3" x2="549.5" y2="817.5" stroke="#18d818" stroke-width="1" />
<line x1="628.0" y1="813.5" x2="635.2" y2="813.5" stroke="#18d818" stroke-width="1" />
<line x1="631.5" y1="810.3" x2="631.5" y2="817.5" stroke="#18d818" stroke-width="1" />
<line x1="546.0" y1="835.5" x2="553.2" y2="835.5" stroke="#18d818" stroke-width="1" />
<line x1="549.5" y1="831.6" x2="549.5" y2="838.8" stroke="#18d818" stroke-width="1" />
<line x1="628.0" y1="835.5" x2="635.2" y2="835.5" stroke="#18d818" stroke-width="1" />
<line x1="631.5" y1="831.6" x2="631.5" y2="838.8" stroke="#18d818" stroke-width="1" />
<line x1="549.5" y1="755.1" x2="549.5" y2="767.3" stroke="#b80f0f" stroke-width="1" />
<line x1="570.5" y1="755.1" x2="570.5" y2="767.3" stroke="#b80f0f" stroke-width="1" />
<line x1="590.5" y1="755.1" x2="590.5" y2="767.3" stroke="#b80f0f" stroke-width="1" />
<line x1="611.5" y1="755.1" x2="611.5" y2="767.3" stroke="#b80f0f" stroke-width="1" />
<line x1="631.5" y1="755.1" x2="631.5" y2="767.3" stroke="#b80f0f" stroke-width="1" />
<line x1="551.6" y1="762.5" x2="568.2" y2="762.5" stroke="#b80f0f" stroke-width="1" />
<text transform="translate(559.9 760.5) rotate(0) scale(0.86 1)" fill="#b80f0f" stroke="#b80f0f" stroke-width="0.34" font-size="7.8" text-anchor="middle" >123</text>
<line x1="572.2" y1="762.5" x2="588.6" y2="762.5" stroke="#b80f0f" stroke-width="1" />
<text transform="translate(580.4 760.5) rotate(0) scale(0.86 1)" fill="#b80f0f" stroke="#b80f0f" stroke-width="0.34" font-size="7.8" text-anchor="middle" >123</text>
<line x1="592.6" y1="762.5" x2="609.6" y2="762.5" stroke="#b80f0f" stroke-width="1" />
<text transform="translate(601.1 760.5) rotate(0) scale(0.86 1)" fill="#b80f0f" stroke="#b80f0f" stroke-width="0.34" font-size="7.8" text-anchor="middle" >123</text>
<line x1="613.6" y1="762.5" x2="629.6" y2="762.5" stroke="#b80f0f" stroke-width="1" />
<text transform="translate(621.6 760.5) rotate(0) scale(0.86 1)" fill="#b80f0f" stroke="#b80f0f" stroke-width="0.34" font-size="7.8" text-anchor="middle" >123</text>
<line x1="532.0" y1="759.5" x2="541.0" y2="759.5" stroke="#b80f0f" stroke-width="0.8" />
<line x1="535.5" y1="756.8" x2="535.5" y2="762.6" stroke="#b80f0f" stroke-width="0.8" />
<line x1="537.5" y1="756.8" x2="537.5" y2="762.6" stroke="#b80f0f" stroke-width="0.8" />
<text transform="translate(543.5 763.5) rotate(0) scale(0.86 1)" fill="#b80f0f" stroke="#b80f0f" stroke-width="0.34" font-size="7.5" text-anchor="middle" >4</text>
<line x1="532.0" y1="759.7" x2="546.0" y2="777.8" stroke="#b80f0f" stroke-width="0.9" />
<line x1="557.8" y1="780.6" x2="566.0" y2="788.8" stroke="#b80f0f" stroke-width="0.9" />
<line x1="566.0" y1="788.5" x2="578.8" y2="788.5" stroke="#b80f0f" stroke-width="1" />
<text transform="translate(569.0 788.0) rotate(0) scale(0.86 1)" fill="#b80f0f" stroke="#b80f0f" stroke-width="0.34" font-size="7.5" text-anchor="middle" >5</text>
<path d="M571.5 788.8 L571.5 785.0 L576.5 788.8" stroke="#b80f0f" stroke-width="0.8" fill="none" />
<text transform="translate(581.5 791.3) rotate(0) scale(0.86 1)" fill="#b80f0f" stroke="#b80f0f" stroke-width="0.34" font-size="7.5" text-anchor="middle" >4</text>
<line x1="536.5" y1="773.8" x2="536.5" y2="855.3" stroke="#b80f0f" stroke-width="1" />
<line x1="532.3" y1="773.5" x2="549.6" y2="773.5" stroke="#b80f0f" stroke-width="1" />
<line x1="532.3" y1="794.5" x2="549.6" y2="794.5" stroke="#b80f0f" stroke-width="1" />
<line x1="532.3" y1="813.5" x2="549.6" y2="813.5" stroke="#b80f0f" stroke-width="1" />
<line x1="532.3" y1="835.5" x2="549.6" y2="835.5" stroke="#b80f0f" stroke-width="1" />
<line x1="532.3" y1="855.5" x2="549.6" y2="855.5" stroke="#b80f0f" stroke-width="1" />
<text transform="translate(534.0 784.2) rotate(-90) scale(0.86 1)" fill="#b80f0f" stroke="#b80f0f" stroke-width="0.34" font-size="7.8" text-anchor="middle" >123</text>
<text transform="translate(534.0 804.2) rotate(-90) scale(0.86 1)" fill="#b80f0f" stroke="#b80f0f" stroke-width="0.34" font-size="7.8" text-anchor="middle" >123</text>
<text transform="translate(534.0 824.3) rotate(-90) scale(0.86 1)" fill="#b80f0f" stroke="#b80f0f" stroke-width="0.34" font-size="7.8" text-anchor="middle" >123</text>
<text transform="translate(534.0 844.3) rotate(-90) scale(0.86 1)" fill="#b80f0f" stroke="#b80f0f" stroke-width="0.34" font-size="7.8" text-anchor="middle" >123</text>
<line x1="637.4" y1="767.5" x2="666.2" y2="767.5" stroke="#b80f0f" stroke-width="1" />
<line x1="637.4" y1="860.5" x2="666.2" y2="860.5" stroke="#b80f0f" stroke-width="1" />
<line x1="626.1" y1="779.5" x2="654.4" y2="779.5" stroke="#b80f0f" stroke-width="1" />
<line x1="626.1" y1="848.5" x2="654.4" y2="848.5" stroke="#b80f0f" stroke-width="1" />
<line x1="649.5" y1="785.1" x2="649.5" y2="844.3" stroke="#b80f0f" stroke-width="1" />
<line x1="661.5" y1="767.3" x2="661.5" y2="860.7" stroke="#b80f0f" stroke-width="1" />
<text transform="translate(647.6 814.3) rotate(-90) scale(0.86 1)" fill="#b80f0f" stroke="#b80f0f" stroke-width="0.34" font-size="8" text-anchor="middle" >400</text>
<text transform="translate(659.4 814.3) rotate(-90) scale(0.86 1)" fill="#b80f0f" stroke="#b80f0f" stroke-width="0.34" font-size="8" text-anchor="middle" >550</text>
<line x1="544.5" y1="860.7" x2="544.5" y2="888.0" stroke="#b80f0f" stroke-width="1" />
<line x1="556.5" y1="848.9" x2="556.5" y2="878.0" stroke="#b80f0f" stroke-width="1" />
<line x1="625.5" y1="848.9" x2="625.5" y2="878.0" stroke="#b80f0f" stroke-width="1" />
<line x1="637.5" y1="860.7" x2="637.5" y2="888.0" stroke="#b80f0f" stroke-width="1" />
<line x1="559.6" y1="873.5" x2="622.5" y2="873.5" stroke="#b80f0f" stroke-width="1" />
<path d="M562.1 872.6 L559.6 873.5 L562.1 874.4" stroke="#b80f0f" stroke-width="0.5" fill="none" />
<path d="M620.0 872.6 L622.5 873.5 L620.0 874.4" stroke="#b80f0f" stroke-width="0.5" fill="none" />
<text transform="translate(590.6 870.9) rotate(0) scale(0.86 1)" fill="#b80f0f" stroke="#b80f0f" stroke-width="0.34" font-size="8" text-anchor="middle" >400</text>
<line x1="546.0" y1="884.5" x2="636.2" y2="884.5" stroke="#b80f0f" stroke-width="1" />
<path d="M548.5 883.1 L546.0 884.0 L548.5 884.9" stroke="#b80f0f" stroke-width="0.5" fill="none" />
<path d="M633.7 883.1 L636.2 884.0 L633.7 884.9" stroke="#b80f0f" stroke-width="0.5" fill="none" />
<text transform="translate(590.6 881.7) rotate(0) scale(0.86 1)" fill="#b80f0f" stroke="#b80f0f" stroke-width="0.34" font-size="8" text-anchor="middle" >550</text>
<text transform="translate(658.5 872.6) rotate(0) scale(0.86 1)" fill="#b80f0f" stroke="#b80f0f" stroke-width="0.34" font-size="7.8" text-anchor="middle" >16-ø18</text>
<line x1="645.3" y1="874.5" x2="670.8" y2="874.5" stroke="#b80f0f" stroke-width="1" />
<line x1="634.3" y1="858.0" x2="645.3" y2="874.0" stroke="#b80f0f" stroke-width="0.9" />
<text transform="translate(194.5 769.4) rotate(0) scale(0.75 1)" fill="#111" stroke="#111" stroke-width="0.34" font-size="8" text-anchor="middle" font-weight="bold" >A</text>
<text transform="translate(202.0 769.4) scale(0.88 1)" fill="#111" font-size="7.5" font-weight="bold" text-anchor="middle" stroke="#111" stroke-width="0.55">N</text>
<line x1="183.8" y1="771.5" x2="211.7" y2="771.5" stroke="#111" stroke-width="1.1" />
<text transform="translate(199.3 781.0) rotate(0) scale(1.0 1)" fill="#111" stroke="#111" stroke-width="0.34" font-size="8.2" text-anchor="middle" letter-spacing="1.2">1:2</text>
<circle cx="200.5" cy="840.8" r="34.0" stroke="#12e2e2" stroke-width="1" fill="none"/>
<circle cx="200.5" cy="840.8" r="23.6" stroke="#18d818" stroke-width="1" fill="none"/>
<circle cx="200.5" cy="840.8" r="12.0" stroke="#12e2e2" stroke-width="1" fill="none"/>
<circle cx="200.5" cy="840.8" r="7.3" stroke="#12e2e2" stroke-width="1.6" fill="none"/>
<circle cx="200.5" cy="840.8" r="4.2" stroke="#12e2e2" stroke-width="0.9" fill="none"/>
<line x1="161.8" y1="840.5" x2="239.0" y2="840.5" stroke="#18d818" stroke-width="1.3" />
<line x1="200.5" y1="802.5" x2="200.5" y2="879.0" stroke="#18d818" stroke-width="1.3" />
<circle cx="224.1" cy="840.8" r="1.6" stroke="#12e2e2" stroke-width="0.9" fill="#4e8"/>
<circle cx="176.9" cy="840.8" r="1.6" stroke="#12e2e2" stroke-width="0.9" fill="#4e8"/>
<circle cx="200.5" cy="864.4" r="1.6" stroke="#12e2e2" stroke-width="0.9" fill="#4e8"/>
<circle cx="200.5" cy="817.2" r="1.6" stroke="#12e2e2" stroke-width="0.9" fill="#4e8"/>
<text transform="translate(166.0 810.6) rotate(0) scale(0.86 1)" fill="#b80f0f" stroke="#b80f0f" stroke-width="0.34" font-size="7.5" text-anchor="middle" font-weight="bold" >ø85</text>
<line x1="158.3" y1="811.5" x2="171.5" y2="811.5" stroke="#b80f0f" stroke-width="1" />
<line x1="171.5" y1="811.4" x2="217.6" y2="857.8" stroke="#b80f0f" stroke-width="1" />
<text transform="translate(255.3 822.0) rotate(0) scale(0.86 1)" fill="#b80f0f" stroke="#b80f0f" stroke-width="0.34" font-size="8" text-anchor="middle" font-weight="bold" >4-ø14</text>
<line x1="242.8" y1="823.5" x2="266.0" y2="823.5" stroke="#b80f0f" stroke-width="1" />
<line x1="242.8" y1="823.2" x2="224.0" y2="841.6" stroke="#b80f0f" stroke-width="1" />
<line x1="214.5" y1="851.0" x2="220.0" y2="845.5" stroke="#b80f0f" stroke-width="1" />
<text transform="translate(250.8 829.0) scale(1.14 1)" fill="#e01018" font-size="5" font-weight="bold" text-anchor="middle" stroke="#e01018" stroke-width="0.55">E</text>
<text transform="translate(254.8 829.0) scale(1.37 1)" fill="#e01018" font-size="5" font-weight="bold" text-anchor="middle" stroke="#e01018" stroke-width="0.55">#</text>
<line x1="363.5" y1="754.6" x2="363.5" y2="762.2" stroke="#111" stroke-width="1" />
<line x1="348.0" y1="762.5" x2="375.8" y2="762.5" stroke="#111" stroke-width="1.1" />
<text transform="translate(363.8 771.6) rotate(0) scale(1.0 1)" fill="#111" stroke="#111" stroke-width="0.34" font-size="8.2" text-anchor="middle" letter-spacing="1.2">1:2</text>
<rect x="355.5" y="795.5" width="10.0" height="71.0" stroke="#12e2e2" stroke-width="1.3" fill="none" />
<rect x="355.5" y="796.5" width="10.0" height="4.0" stroke="#12e2e2" stroke-width="0.8" fill="#f7efb0" />
<line x1="356.0" y1="800.5" x2="358.5" y2="796.3" stroke="#d8a020" stroke-width="0.7" />
<line x1="357.8" y1="800.5" x2="360.3" y2="796.3" stroke="#d8a020" stroke-width="0.7" />
<line x1="359.6" y1="800.5" x2="362.1" y2="796.3" stroke="#d8a020" stroke-width="0.7" />
<line x1="361.4" y1="800.5" x2="363.9" y2="796.3" stroke="#d8a020" stroke-width="0.7" />
<line x1="363.2" y1="800.5" x2="365.7" y2="796.3" stroke="#d8a020" stroke-width="0.7" />
<rect x="355.5" y="810.5" width="10.0" height="9.0" stroke="#12e2e2" stroke-width="0.8" fill="#f7efb0" />
<line x1="356.0" y1="819.2" x2="358.5" y2="810.5" stroke="#d8a020" stroke-width="0.7" />
<line x1="357.8" y1="819.2" x2="360.3" y2="810.5" stroke="#d8a020" stroke-width="0.7" />
<line x1="359.6" y1="819.2" x2="362.1" y2="810.5" stroke="#d8a020" stroke-width="0.7" />
<line x1="361.4" y1="819.2" x2="363.9" y2="810.5" stroke="#d8a020" stroke-width="0.7" />
<line x1="363.2" y1="819.2" x2="365.7" y2="810.5" stroke="#d8a020" stroke-width="0.7" />
<line x1="355.2" y1="803.5" x2="365.6" y2="803.5" stroke="#12e2e2" stroke-width="0.8" />
<line x1="355.2" y1="808.5" x2="365.6" y2="808.5" stroke="#12e2e2" stroke-width="0.8" />
<path d="M365.6 811.0 L367.0 813.5 L367.0 845.0 L365.6 851.0" stroke="#12e2e2" stroke-width="1.1" fill="none" />
<line x1="351.5" y1="805.5" x2="369.8" y2="805.5" stroke="#18d818" stroke-width="1.1" />
<line x1="338.3" y1="830.5" x2="372.0" y2="830.5" stroke="#18d818" stroke-width="1.1" />
<line x1="351.5" y1="857.5" x2="369.8" y2="857.5" stroke="#18d818" stroke-width="1.1" />
<line x1="343.5" y1="821.0" x2="361.5" y2="821.0" stroke="#12e2e2" stroke-width="1.4" />
<line x1="343.5" y1="842.0" x2="355.2" y2="842.0" stroke="#12e2e2" stroke-width="1.4" />
<line x1="361.5" y1="821.0" x2="361.5" y2="830.8" stroke="#12e2e2" stroke-width="1.1" />
<line x1="343.5" y1="817.3" x2="343.5" y2="845.0" stroke="#a030d0" stroke-width="1.1" />
<text transform="translate(328.2 831.6) rotate(-90) scale(0.86 1)" fill="#b80f0f" stroke="#b80f0f" stroke-width="0.34" font-size="7.5" text-anchor="middle" font-weight="bold" >ø34*3.5</text>
<line x1="335.5" y1="821.0" x2="335.5" y2="842.0" stroke="#b80f0f" stroke-width="1" />
<line x1="331.5" y1="821.5" x2="343.5" y2="821.5" stroke="#b80f0f" stroke-width="1" />
<line x1="331.5" y1="842.5" x2="343.5" y2="842.5" stroke="#b80f0f" stroke-width="1" />
<line x1="367.0" y1="818.5" x2="387.8" y2="818.5" stroke="#222" stroke-width="1" />
<text transform="translate(382.0 830.8) rotate(-90) scale(0.86 1)" fill="#111" stroke="#111" stroke-width="0.34" font-size="7.5" text-anchor="middle" font-weight="bold" >ø35</text>
<line x1="383.5" y1="824.0" x2="383.5" y2="839.0" stroke="#222" stroke-width="1" />
<text transform="translate(398.0 830.8) rotate(-90) scale(0.86 1)" fill="#b80f0f" stroke="#b80f0f" stroke-width="0.34" font-size="7.5" text-anchor="middle" font-weight="bold" >ø115</text>
<line x1="399.5" y1="800.0" x2="399.5" y2="862.3" stroke="#b80f0f" stroke-width="1" />
<line x1="366.0" y1="796.5" x2="405.0" y2="796.5" stroke="#b80f0f" stroke-width="1" />
<line x1="366.0" y1="866.5" x2="405.0" y2="866.5" stroke="#b80f0f" stroke-width="1" />
<text transform="translate(425.0 825.4) rotate(0) scale(0.8 1)" fill="#111" stroke="#111" stroke-width="0.34" font-size="9" text-anchor="middle" >A</text>
<line x1="418.6" y1="831.5" x2="433.6" y2="831.5" stroke="#111" stroke-width="1.1" />
<line x1="418.6" y1="832.0" x2="421.0" y2="832.0" stroke="#111" stroke-width="1.8" />
<text transform="translate(1094.4 500.0) scale(0.52 1)" fill="#e01018" font-size="9" font-weight="bold" text-anchor="middle" stroke="#e01018" stroke-width="0.55">E</text>
<text transform="translate(1097.7 500.0) scale(0.63 1)" fill="#e01018" font-size="9" font-weight="bold" text-anchor="middle" stroke="#e01018" stroke-width="0.55">#</text>
<text transform="translate(1101.0 500.0) scale(0.48 1)" fill="#e01018" font-size="9" font-weight="bold" text-anchor="middle" stroke="#e01018" stroke-width="0.55">H</text>
<text transform="translate(1104.3 500.0) scale(0.48 1)" fill="#e01018" font-size="9" font-weight="bold" text-anchor="middle" stroke="#e01018" stroke-width="0.55">B</text>
<text transform="translate(1107.6 500.0) scale(0.36 1)" fill="#e01018" font-size="9" font-weight="bold" text-anchor="middle" stroke="#e01018" stroke-width="0.55">@</text>
<text transform="translate(1110.9 500.0) scale(0.52 1)" fill="#e01018" font-size="9" font-weight="bold" text-anchor="middle" stroke="#e01018" stroke-width="0.55">E</text>
<text transform="translate(1114.2 500.0) scale(0.36 1)" fill="#e01018" font-size="9" font-weight="bold" text-anchor="middle" stroke="#e01018" stroke-width="0.55">@</text>
<text transform="translate(1117.5 500.0) scale(0.48 1)" fill="#e01018" font-size="9" font-weight="bold" text-anchor="middle" stroke="#e01018" stroke-width="0.55">N</text>
<text transform="translate(1120.8 500.0) scale(0.63 1)" fill="#e01018" font-size="9" font-weight="bold" text-anchor="middle" stroke="#e01018" stroke-width="0.55">$</text>
<text transform="translate(1124.1 500.0) scale(0.39 1)" fill="#e01018" font-size="9" font-weight="bold" text-anchor="middle" stroke="#e01018" stroke-width="0.55">%</text>
<line x1="1092.0" y1="501.5" x2="1126.5" y2="501.5" stroke="#e01018" stroke-width="0.9" />
<line x1="1011.7" y1="504.5" x2="1217.7" y2="504.5" stroke="#222" stroke-width="1.3" />
<line x1="1011.7" y1="518.5" x2="1217.7" y2="518.5" stroke="#222" stroke-width="1.3" />
<line x1="1011.7" y1="532.5" x2="1217.7" y2="532.5" stroke="#222" stroke-width="1.3" />
<line x1="1011.7" y1="545.5" x2="1217.7" y2="545.5" stroke="#222" stroke-width="1.3" />
<line x1="1011.7" y1="559.5" x2="1217.7" y2="559.5" stroke="#222" stroke-width="1.3" />
<line x1="1011.7" y1="573.5" x2="1217.7" y2="573.5" stroke="#222" stroke-width="1.3" />
<line x1="1011.7" y1="586.5" x2="1217.7" y2="586.5" stroke="#222" stroke-width="1.3" />
<line x1="1011.7" y1="600.5" x2="1217.7" y2="600.5" stroke="#222" stroke-width="1.3" />
<line x1="1011.7" y1="614.5" x2="1217.7" y2="614.5" stroke="#222" stroke-width="1.3" />
<line x1="1011.7" y1="628.5" x2="1217.7" y2="628.5" stroke="#222" stroke-width="1.3" />
<line x1="1011.7" y1="641.5" x2="1217.7" y2="641.5" stroke="#222" stroke-width="1.3" />
<line x1="1011.7" y1="655.5" x2="1217.7" y2="655.5" stroke="#222" stroke-width="1.3" />
<line x1="1011.7" y1="669.5" x2="1217.7" y2="669.5" stroke="#222" stroke-width="1.3" />
<line x1="1011.7" y1="682.5" x2="1217.7" y2="682.5" stroke="#222" stroke-width="1.3" />
<line x1="1011.7" y1="696.5" x2="1217.7" y2="696.5" stroke="#222" stroke-width="1.3" />
<line x1="1011.7" y1="710.5" x2="1217.7" y2="710.5" stroke="#222" stroke-width="1.3" />
<line x1="1011.7" y1="723.5" x2="1217.7" y2="723.5" stroke="#222" stroke-width="1.3" />
<line x1="1025.5" y1="504.8" x2="1025.5" y2="723.8" stroke="#222" stroke-width="1.1" />
<line x1="1121.5" y1="504.8" x2="1121.5" y2="723.8" stroke="#222" stroke-width="1.1" />
<line x1="1176.5" y1="504.8" x2="1176.5" y2="723.8" stroke="#222" stroke-width="1.1" />
<rect x="1011.5" y="504.5" width="206.0" height="219.0" stroke="#12e2e2" stroke-width="1.2" fill="none" />
<text transform="translate(1016.0 516.0) scale(0.42 1)" fill="#e01018" font-size="9.5" font-weight="bold" text-anchor="middle" stroke="#e01018" stroke-width="0.55">H</text>
<text transform="translate(1019.0 516.0) scale(0.54 1)" fill="#e01018" font-size="9.5" font-weight="bold" text-anchor="middle" stroke="#e01018" stroke-width="0.55">#</text>
<text transform="translate(1055.3 516.0) scale(0.43 1)" fill="#e01018" font-size="9.5" font-weight="bold" text-anchor="middle" stroke="#e01018" stroke-width="0.55">M</text>
<text transform="translate(1066.3 516.0) scale(0.50 1)" fill="#e01018" font-size="9.5" font-weight="bold" text-anchor="middle" stroke="#e01018" stroke-width="0.55">B</text>
<text transform="translate(1077.8 516.0) scale(0.43 1)" fill="#e01018" font-size="9.5" font-weight="bold" text-anchor="middle" stroke="#e01018" stroke-width="0.55">M</text>
<text transform="translate(1089.3 516.0) scale(0.50 1)" fill="#e01018" font-size="9.5" font-weight="bold" text-anchor="middle" stroke="#e01018" stroke-width="0.55">&amp;</text>
<text transform="translate(1140.8 516.0) scale(0.64 1)" fill="#e01018" font-size="9.5" font-weight="bold" text-anchor="middle" stroke="#e01018" stroke-width="0.55">#</text>
<text transform="translate(1146.5 516.0) scale(0.50 1)" fill="#e01018" font-size="9.5" font-weight="bold" text-anchor="middle" stroke="#e01018" stroke-width="0.55">K</text>
<text transform="translate(1152.2 516.0) scale(0.64 1)" fill="#e01018" font-size="9.5" font-weight="bold" text-anchor="middle" stroke="#e01018" stroke-width="0.55">$</text>
<text transform="translate(1191.6 516.0) scale(0.46 1)" fill="#e01018" font-size="9.5" font-weight="bold" text-anchor="middle" stroke="#e01018" stroke-width="0.55">K</text>
<text transform="translate(1196.9 516.0) scale(0.60 1)" fill="#e01018" font-size="9.5" font-weight="bold" text-anchor="middle" stroke="#e01018" stroke-width="0.55">$</text>
<text transform="translate(1018.4 528.8) rotate(0) scale(0.74 1)" fill="#b80f0f" stroke="#b80f0f" stroke-width="0.34" font-size="9.4" text-anchor="middle" >1</text>
<text transform="translate(1032.1 528.8) scale(0.42 1)" fill="#e01018" font-size="9.8" font-weight="bold" text-anchor="middle" stroke="#e01018" stroke-width="0.55">K</text>
<text transform="translate(1035.2 528.8) scale(0.45 1)" fill="#e01018" font-size="9.8" font-weight="bold" text-anchor="middle" stroke="#e01018" stroke-width="0.55">E</text>
<text transform="translate(1038.3 528.8) scale(0.54 1)" fill="#e01018" font-size="9.8" font-weight="bold" text-anchor="middle" stroke="#e01018" stroke-width="0.55">#</text>
<text transform="translate(1041.4 528.8) scale(0.42 1)" fill="#e01018" font-size="9.8" font-weight="bold" text-anchor="middle" stroke="#e01018" stroke-width="0.55">R</text>
<text transform="translate(1044.5 528.8) scale(0.42 1)" fill="#e01018" font-size="9.8" font-weight="bold" text-anchor="middle" stroke="#e01018" stroke-width="0.55">N</text>
<text transform="translate(1047.6 528.8) scale(0.42 1)" fill="#e01018" font-size="9.8" font-weight="bold" text-anchor="middle" stroke="#e01018" stroke-width="0.55">K</text>
<text transform="translate(1050.7 528.8) scale(0.54 1)" fill="#e01018" font-size="9.8" font-weight="bold" text-anchor="middle" stroke="#e01018" stroke-width="0.55">#</text>
<text transform="translate(1053.8 528.8) scale(0.42 1)" fill="#e01018" font-size="9.8" font-weight="bold" text-anchor="middle" stroke="#e01018" stroke-width="0.55">N</text>
<text transform="translate(1056.9 528.8) scale(0.42 1)" fill="#e01018" font-size="9.8" font-weight="bold" text-anchor="middle" stroke="#e01018" stroke-width="0.55">&amp;</text>
<text transform="translate(1060.0 528.8) scale(0.34 1)" fill="#e01018" font-size="9.8" font-weight="bold" text-anchor="middle" stroke="#e01018" stroke-width="0.55">%</text>
<text transform="translate(1146.7 528.8) rotate(0) scale(0.72 1)" fill="#b80f0f" stroke="#b80f0f" stroke-width="0.34" font-size="9.2" text-anchor="middle" >264</text>
<text transform="translate(1194.3 528.8) rotate(0) scale(0.78 1)" fill="#b80f0f" stroke="#b80f0f" stroke-width="0.34" font-size="9.4" text-anchor="middle" >m²</text>
<text transform="translate(1018.4 542.5) rotate(0) scale(0.74 1)" fill="#b80f0f" stroke="#b80f0f" stroke-width="0.34" font-size="9.4" text-anchor="middle" >2</text>
<text transform="translate(1032.1 542.5) scale(0.42 1)" fill="#e01018" font-size="9.8" font-weight="bold" text-anchor="middle" stroke="#e01018" stroke-width="0.55">K</text>
<text transform="translate(1035.2 542.5) scale(0.42 1)" fill="#e01018" font-size="9.8" font-weight="bold" text-anchor="middle" stroke="#e01018" stroke-width="0.55">H</text>
<text transform="translate(1038.3 542.5) scale(0.42 1)" fill="#e01018" font-size="9.8" font-weight="bold" text-anchor="middle" stroke="#e01018" stroke-width="0.55">&amp;</text>
<text transform="translate(1041.4 542.5) scale(0.42 1)" fill="#e01018" font-size="9.8" font-weight="bold" text-anchor="middle" stroke="#e01018" stroke-width="0.55">&amp;</text>
<text transform="translate(1044.5 542.5) scale(0.54 1)" fill="#e01018" font-size="9.8" font-weight="bold" text-anchor="middle" stroke="#e01018" stroke-width="0.55">$</text>
<text transform="translate(1047.6 542.5) scale(0.42 1)" fill="#e01018" font-size="9.8" font-weight="bold" text-anchor="middle" stroke="#e01018" stroke-width="0.55">N</text>
<text transform="translate(1050.7 542.5) scale(0.54 1)" fill="#e01018" font-size="9.8" font-weight="bold" text-anchor="middle" stroke="#e01018" stroke-width="0.55">#</text>
<text transform="translate(1146.7 542.5) rotate(0) scale(0.72 1)" fill="#b80f0f" stroke="#b80f0f" stroke-width="0.34" font-size="9.2" text-anchor="middle" >3</text>
<text transform="translate(1194.3 542.5) scale(0.48 1)" fill="#e01018" font-size="9.5" font-weight="bold" text-anchor="middle" stroke="#e01018" stroke-width="0.55">H</text>
<text transform="translate(1018.4 556.2) rotate(0) scale(0.74 1)" fill="#b80f0f" stroke="#b80f0f" stroke-width="0.34" font-size="9.4" text-anchor="middle" >3</text>
<text transform="translate(1032.1 556.2) scale(0.34 1)" fill="#e01018" font-size="9.8" font-weight="bold" text-anchor="middle" stroke="#e01018" stroke-width="0.55">M</text>
<text transform="translate(1035.0 556.2) scale(0.40 1)" fill="#e01018" font-size="9.8" font-weight="bold" text-anchor="middle" stroke="#e01018" stroke-width="0.55">H</text>
<text transform="translate(1038.0 556.2) scale(0.40 1)" fill="#e01018" font-size="9.8" font-weight="bold" text-anchor="middle" stroke="#e01018" stroke-width="0.55">R</text>
<text transform="translate(1040.9 556.2) scale(0.34 1)" fill="#e01018" font-size="9.8" font-weight="bold" text-anchor="middle" stroke="#e01018" stroke-width="0.55">M</text>
<text transform="translate(1043.9 556.2) scale(0.40 1)" fill="#e01018" font-size="9.8" font-weight="bold" text-anchor="middle" stroke="#e01018" stroke-width="0.55">B</text>
<text transform="translate(1046.8 556.2) scale(0.40 1)" fill="#e01018" font-size="9.8" font-weight="bold" text-anchor="middle" stroke="#e01018" stroke-width="0.55">&amp;</text>
<text transform="translate(1049.7 556.2) scale(0.40 1)" fill="#e01018" font-size="9.8" font-weight="bold" text-anchor="middle" stroke="#e01018" stroke-width="0.55">&amp;</text>
<text transform="translate(1052.7 556.2) scale(0.40 1)" fill="#e01018" font-size="9.8" font-weight="bold" text-anchor="middle" stroke="#e01018" stroke-width="0.55">R</text>
<text transform="translate(1055.6 556.2) scale(0.40 1)" fill="#e01018" font-size="9.8" font-weight="bold" text-anchor="middle" stroke="#e01018" stroke-width="0.55">K</text>
<text transform="translate(1058.6 556.2) scale(0.40 1)" fill="#e01018" font-size="9.8" font-weight="bold" text-anchor="middle" stroke="#e01018" stroke-width="0.55">B</text>
<text transform="translate(1146.7 556.2) rotate(0) scale(0.72 1)" fill="#b80f0f" stroke="#b80f0f" stroke-width="0.34" font-size="9.2" text-anchor="middle" >3.5</text>
<text transform="translate(1194.3 556.2) rotate(0) scale(0.78 1)" fill="#b80f0f" stroke="#b80f0f" stroke-width="0.34" font-size="9.4" text-anchor="middle" >m</text>
<text transform="translate(1018.4 569.9) rotate(0) scale(0.74 1)" fill="#b80f0f" stroke="#b80f0f" stroke-width="0.34" font-size="9.4" text-anchor="middle" >4</text>
<text transform="translate(1032.0 569.9) scale(0.36 1)" fill="#e01018" font-size="9.8" font-weight="bold" text-anchor="middle" stroke="#e01018" stroke-width="0.55">&amp;</text>
<text transform="translate(1034.7 569.9) scale(0.36 1)" fill="#e01018" font-size="9.8" font-weight="bold" text-anchor="middle" stroke="#e01018" stroke-width="0.55">N</text>
<text transform="translate(1037.4 569.9) scale(0.47 1)" fill="#e01018" font-size="9.8" font-weight="bold" text-anchor="middle" stroke="#e01018" stroke-width="0.55">$</text>
<text transform="translate(1040.1 569.9) scale(0.36 1)" fill="#e01018" font-size="9.8" font-weight="bold" text-anchor="middle" stroke="#e01018" stroke-width="0.55">&amp;</text>
<text transform="translate(1146.7 569.9) rotate(0) scale(0.72 1)" fill="#b80f0f" stroke="#b80f0f" stroke-width="0.34" font-size="9.2" text-anchor="middle" >400</text>
<text transform="translate(1194.3 569.9) rotate(0) scale(0.78 1)" fill="#b80f0f" stroke="#b80f0f" stroke-width="0.34" font-size="9.4" text-anchor="middle" >mm</text>
<text transform="translate(1018.4 583.5) rotate(0) scale(0.74 1)" fill="#b80f0f" stroke="#b80f0f" stroke-width="0.34" font-size="9.4" text-anchor="middle" >5</text>
<text transform="translate(1032.0 583.5) scale(0.30 1)" fill="#e01018" font-size="9.8" font-weight="bold" text-anchor="middle" stroke="#e01018" stroke-width="0.55">%</text>
<text transform="translate(1034.7 583.5) scale(0.27 1)" fill="#e01018" font-size="9.8" font-weight="bold" text-anchor="middle" stroke="#e01018" stroke-width="0.55">@</text>
<text transform="translate(1037.4 583.5) scale(0.36 1)" fill="#e01018" font-size="9.8" font-weight="bold" text-anchor="middle" stroke="#e01018" stroke-width="0.55">&amp;</text>
<text transform="translate(1040.1 583.5) scale(0.36 1)" fill="#e01018" font-size="9.8" font-weight="bold" text-anchor="middle" stroke="#e01018" stroke-width="0.55">B</text>
<text transform="translate(1146.7 583.5) rotate(0) scale(0.72 1)" fill="#b80f0f" stroke="#b80f0f" stroke-width="0.34" font-size="9.2" text-anchor="middle" >2*22</text>
<text transform="translate(1194.3 583.5) scale(0.42 1)" fill="#e01018" font-size="9.5" font-weight="bold" text-anchor="middle" stroke="#e01018" stroke-width="0.55">M</text>
<text transform="translate(1018.4 597.2) rotate(0) scale(0.74 1)" fill="#b80f0f" stroke="#b80f0f" stroke-width="0.34" font-size="9.4" text-anchor="middle" >6</text>
<text transform="translate(1032.1 597.2) scale(0.34 1)" fill="#e01018" font-size="9.8" font-weight="bold" text-anchor="middle" stroke="#e01018" stroke-width="0.55">%</text>
<text transform="translate(1035.2 597.2) scale(0.36 1)" fill="#e01018" font-size="9.8" font-weight="bold" text-anchor="middle" stroke="#e01018" stroke-width="0.55">M</text>
<text transform="translate(1038.3 597.2) scale(0.54 1)" fill="#e01018" font-size="9.8" font-weight="bold" text-anchor="middle" stroke="#e01018" stroke-width="0.55">#</text>
<text transform="translate(1041.4 597.2) scale(0.42 1)" fill="#e01018" font-size="9.8" font-weight="bold" text-anchor="middle" stroke="#e01018" stroke-width="0.55">&amp;</text>
<text transform="translate(1044.5 597.2) scale(0.36 1)" fill="#e01018" font-size="9.8" font-weight="bold" text-anchor="middle" stroke="#e01018" stroke-width="0.55">M</text>
<text transform="translate(1047.6 597.2) scale(0.36 1)" fill="#e01018" font-size="9.8" font-weight="bold" text-anchor="middle" stroke="#e01018" stroke-width="0.55">M</text>
<text transform="translate(1050.7 597.2) scale(0.54 1)" fill="#e01018" font-size="9.8" font-weight="bold" text-anchor="middle" stroke="#e01018" stroke-width="0.55">#</text>
<text transform="translate(1053.8 597.2) scale(0.34 1)" fill="#e01018" font-size="9.8" font-weight="bold" text-anchor="middle" stroke="#e01018" stroke-width="0.55">%</text>
<text transform="translate(1146.7 597.2) rotate(0) scale(0.72 1)" fill="#b80f0f" stroke="#b80f0f" stroke-width="0.34" font-size="9.2" text-anchor="middle" >15</text>
<text transform="translate(1194.3 597.2) rotate(0) scale(0.78 1)" fill="#b80f0f" stroke="#b80f0f" stroke-width="0.34" font-size="9.4" text-anchor="middle" >m</text>
<text transform="translate(1018.4 610.9) rotate(0) scale(0.74 1)" fill="#b80f0f" stroke="#b80f0f" stroke-width="0.34" font-size="9.4" text-anchor="middle" >7</text>
<text transform="translate(1032.3 610.9) scale(0.47 1)" fill="#e01018" font-size="9.8" font-weight="bold" text-anchor="middle" stroke="#e01018" stroke-width="0.55">H</text>
<text transform="translate(1035.8 610.9) scale(0.38 1)" fill="#e01018" font-size="9.8" font-weight="bold" text-anchor="middle" stroke="#e01018" stroke-width="0.55">%</text>
<text transform="translate(1039.3 610.9) scale(0.35 1)" fill="#e01018" font-size="9.8" font-weight="bold" text-anchor="middle" stroke="#e01018" stroke-width="0.55">@</text>
<text transform="translate(1042.8 610.9) scale(0.47 1)" fill="#e01018" font-size="9.8" font-weight="bold" text-anchor="middle" stroke="#e01018" stroke-width="0.55">&amp;</text>
<text transform="translate(1145.0 610.9) scale(0.47 1)" fill="#e01018" font-size="9.8" font-weight="bold" text-anchor="middle" stroke="#e01018" stroke-width="0.55">K</text>
<text transform="translate(1148.5 610.9) scale(0.47 1)" fill="#e01018" font-size="9.8" font-weight="bold" text-anchor="middle" stroke="#e01018" stroke-width="0.55">R</text>
<text transform="translate(1018.4 624.6) rotate(0) scale(0.74 1)" fill="#b80f0f" stroke="#b80f0f" stroke-width="0.34" font-size="9.4" text-anchor="middle" >8</text>
<text transform="translate(1032.1 624.6) scale(0.42 1)" fill="#e01018" font-size="9.8" font-weight="bold" text-anchor="middle" stroke="#e01018" stroke-width="0.55">&amp;</text>
<text transform="translate(1035.2 624.6) scale(0.42 1)" fill="#e01018" font-size="9.8" font-weight="bold" text-anchor="middle" stroke="#e01018" stroke-width="0.55">&amp;</text>
<text transform="translate(1038.3 624.6) scale(0.54 1)" fill="#e01018" font-size="9.8" font-weight="bold" text-anchor="middle" stroke="#e01018" stroke-width="0.55">$</text>
<text transform="translate(1041.4 624.6) scale(0.54 1)" fill="#e01018" font-size="9.8" font-weight="bold" text-anchor="middle" stroke="#e01018" stroke-width="0.55">$</text>
<text transform="translate(1144.0 624.6) rotate(0) scale(0.72 1)" fill="#b80f0f" stroke="#b80f0f" stroke-width="0.34" font-size="9.2" text-anchor="middle" >460C</text>
<text transform="translate(1153.8 624.6) scale(0.51 1)" fill="#e01018" font-size="9" font-weight="bold" text-anchor="middle" stroke="#e01018" stroke-width="0.55">H</text>
<text transform="translate(1018.4 638.3) rotate(0) scale(0.74 1)" fill="#b80f0f" stroke="#b80f0f" stroke-width="0.34" font-size="9.4" text-anchor="middle" >9</text>
<text transform="translate(1032.0 638.3) scale(0.50 1)" fill="#e01018" font-size="9.8" font-weight="bold" text-anchor="middle" stroke="#e01018" stroke-width="0.55">#</text>
<text transform="translate(1034.9 638.3) scale(0.50 1)" fill="#e01018" font-size="9.8" font-weight="bold" text-anchor="middle" stroke="#e01018" stroke-width="0.55">$</text>
<text transform="translate(1037.7 638.3) scale(0.38 1)" fill="#e01018" font-size="9.8" font-weight="bold" text-anchor="middle" stroke="#e01018" stroke-width="0.55">H</text>
<text transform="translate(1040.5 638.3) scale(0.31 1)" fill="#e01018" font-size="9.8" font-weight="bold" text-anchor="middle" stroke="#e01018" stroke-width="0.55">%</text>
<text transform="translate(1043.4 638.3) scale(0.38 1)" fill="#e01018" font-size="9.8" font-weight="bold" text-anchor="middle" stroke="#e01018" stroke-width="0.55">H</text>
<text transform="translate(1046.2 638.3) scale(0.38 1)" fill="#e01018" font-size="9.8" font-weight="bold" text-anchor="middle" stroke="#e01018" stroke-width="0.55">&amp;</text>
<text transform="translate(1139.9 638.3) scale(0.46 1)" fill="#e01018" font-size="9.8" font-weight="bold" text-anchor="middle" stroke="#e01018" stroke-width="0.55">H</text>
<text transform="translate(1143.3 638.3) scale(0.46 1)" fill="#e01018" font-size="9.8" font-weight="bold" text-anchor="middle" stroke="#e01018" stroke-width="0.55">R</text>
<text transform="translate(1146.7 638.3) scale(0.49 1)" fill="#e01018" font-size="9.8" font-weight="bold" text-anchor="middle" stroke="#e01018" stroke-width="0.55">E</text>
<text transform="translate(1150.1 638.3) scale(0.46 1)" fill="#e01018" font-size="9.8" font-weight="bold" text-anchor="middle" stroke="#e01018" stroke-width="0.55">R</text>
<text transform="translate(1153.5 638.3) scale(0.40 1)" fill="#e01018" font-size="9.8" font-weight="bold" text-anchor="middle" stroke="#e01018" stroke-width="0.55">M</text>
<text transform="translate(1018.4 652.0) rotate(0) scale(0.74 1)" fill="#b80f0f" stroke="#b80f0f" stroke-width="0.34" font-size="9.4" text-anchor="middle" >10</text>
<text transform="translate(1032.0 652.0) scale(0.28 1)" fill="#e01018" font-size="9.8" font-weight="bold" text-anchor="middle" stroke="#e01018" stroke-width="0.55">@</text>
<text transform="translate(1034.9 652.0) scale(0.38 1)" fill="#e01018" font-size="9.8" font-weight="bold" text-anchor="middle" stroke="#e01018" stroke-width="0.55">B</text>
<text transform="translate(1037.7 652.0) scale(0.50 1)" fill="#e01018" font-size="9.8" font-weight="bold" text-anchor="middle" stroke="#e01018" stroke-width="0.55">#</text>
<text transform="translate(1040.5 652.0) scale(0.38 1)" fill="#e01018" font-size="9.8" font-weight="bold" text-anchor="middle" stroke="#e01018" stroke-width="0.55">H</text>
<text transform="translate(1043.4 652.0) scale(0.38 1)" fill="#e01018" font-size="9.8" font-weight="bold" text-anchor="middle" stroke="#e01018" stroke-width="0.55">N</text>
<text transform="translate(1046.2 652.0) scale(0.31 1)" fill="#e01018" font-size="9.8" font-weight="bold" text-anchor="middle" stroke="#e01018" stroke-width="0.55">%</text>
<text transform="translate(1145.0 652.0) scale(0.47 1)" fill="#e01018" font-size="9.8" font-weight="bold" text-anchor="middle" stroke="#e01018" stroke-width="0.55">&amp;</text>
<text transform="translate(1148.5 652.0) scale(0.61 1)" fill="#e01018" font-size="9.8" font-weight="bold" text-anchor="middle" stroke="#e01018" stroke-width="0.55">$</text>
<text transform="translate(1018.4 665.7) rotate(0) scale(0.74 1)" fill="#b80f0f" stroke="#b80f0f" stroke-width="0.34" font-size="9.4" text-anchor="middle" >11</text>
<text transform="translate(1032.0 665.7) scale(0.38 1)" fill="#e01018" font-size="9.8" font-weight="bold" text-anchor="middle" stroke="#e01018" stroke-width="0.55">N</text>
<text transform="translate(1034.9 665.7) scale(0.38 1)" fill="#e01018" font-size="9.8" font-weight="bold" text-anchor="middle" stroke="#e01018" stroke-width="0.55">B</text>
<text transform="translate(1037.7 665.7) scale(0.38 1)" fill="#e01018" font-size="9.8" font-weight="bold" text-anchor="middle" stroke="#e01018" stroke-width="0.55">R</text>
<text transform="translate(1040.5 665.7) scale(0.38 1)" fill="#e01018" font-size="9.8" font-weight="bold" text-anchor="middle" stroke="#e01018" stroke-width="0.55">K</text>
<text transform="translate(1043.4 665.7) scale(0.50 1)" fill="#e01018" font-size="9.8" font-weight="bold" text-anchor="middle" stroke="#e01018" stroke-width="0.55">#</text>
<text transform="translate(1046.2 665.7) scale(0.38 1)" fill="#e01018" font-size="9.8" font-weight="bold" text-anchor="middle" stroke="#e01018" stroke-width="0.55">K</text>
<text transform="translate(1145.0 665.7) scale(0.35 1)" fill="#e01018" font-size="9.8" font-weight="bold" text-anchor="middle" stroke="#e01018" stroke-width="0.55">@</text>
<text transform="translate(1148.5 665.7) scale(0.61 1)" fill="#e01018" font-size="9.8" font-weight="bold" text-anchor="middle" stroke="#e01018" stroke-width="0.55">#</text>
<text transform="translate(1018.4 679.4) rotate(0) scale(0.74 1)" fill="#b80f0f" stroke="#b80f0f" stroke-width="0.34" font-size="9.4" text-anchor="middle" >12</text>
<text transform="translate(1032.0 679.4) scale(0.50 1)" fill="#e01018" font-size="9.8" font-weight="bold" text-anchor="middle" stroke="#e01018" stroke-width="0.55">#</text>
<text transform="translate(1034.9 679.4) scale(0.38 1)" fill="#e01018" font-size="9.8" font-weight="bold" text-anchor="middle" stroke="#e01018" stroke-width="0.55">&amp;</text>
<text transform="translate(1037.7 679.4) scale(0.38 1)" fill="#e01018" font-size="9.8" font-weight="bold" text-anchor="middle" stroke="#e01018" stroke-width="0.55">N</text>
<text transform="translate(1040.5 679.4) scale(0.41 1)" fill="#e01018" font-size="9.8" font-weight="bold" text-anchor="middle" stroke="#e01018" stroke-width="0.55">E</text>
<text transform="translate(1043.4 679.4) scale(0.38 1)" fill="#e01018" font-size="9.8" font-weight="bold" text-anchor="middle" stroke="#e01018" stroke-width="0.55">K</text>
<text transform="translate(1046.2 679.4) scale(0.38 1)" fill="#e01018" font-size="9.8" font-weight="bold" text-anchor="middle" stroke="#e01018" stroke-width="0.55">K</text>
<text transform="translate(1143.9 679.4) scale(0.38 1)" fill="#e01018" font-size="9.8" font-weight="bold" text-anchor="middle" stroke="#e01018" stroke-width="0.55">&amp;</text>
<text transform="translate(1146.7 679.4) scale(0.38 1)" fill="#e01018" font-size="9.8" font-weight="bold" text-anchor="middle" stroke="#e01018" stroke-width="0.55">H</text>
<text transform="translate(1149.5 679.4) scale(0.49 1)" fill="#e01018" font-size="9.8" font-weight="bold" text-anchor="middle" stroke="#e01018" stroke-width="0.55">$</text>
<text transform="translate(1018.4 693.1) rotate(0) scale(0.74 1)" fill="#b80f0f" stroke="#b80f0f" stroke-width="0.34" font-size="9.4" text-anchor="middle" >13</text>
<text transform="translate(1032.1 693.1) scale(0.36 1)" fill="#e01018" font-size="9.8" font-weight="bold" text-anchor="middle" stroke="#e01018" stroke-width="0.55">M</text>
<text transform="translate(1035.2 693.1) scale(0.42 1)" fill="#e01018" font-size="9.8" font-weight="bold" text-anchor="middle" stroke="#e01018" stroke-width="0.55">H</text>
<text transform="translate(1038.3 693.1) scale(0.42 1)" fill="#e01018" font-size="9.8" font-weight="bold" text-anchor="middle" stroke="#e01018" stroke-width="0.55">H</text>
<text transform="translate(1041.4 693.1) scale(0.45 1)" fill="#e01018" font-size="9.8" font-weight="bold" text-anchor="middle" stroke="#e01018" stroke-width="0.55">E</text>
<text transform="translate(1044.5 693.1) scale(0.31 1)" fill="#e01018" font-size="9.8" font-weight="bold" text-anchor="middle" stroke="#e01018" stroke-width="0.55">@</text>
<text transform="translate(1047.6 693.1) scale(0.34 1)" fill="#e01018" font-size="9.8" font-weight="bold" text-anchor="middle" stroke="#e01018" stroke-width="0.55">%</text>
<text transform="translate(1050.7 693.1) scale(0.54 1)" fill="#e01018" font-size="9.8" font-weight="bold" text-anchor="middle" stroke="#e01018" stroke-width="0.55">#</text>
<text transform="translate(1053.8 693.1) scale(0.42 1)" fill="#e01018" font-size="9.8" font-weight="bold" text-anchor="middle" stroke="#e01018" stroke-width="0.55">&amp;</text>
<text transform="translate(1146.7 693.1) rotate(0) scale(0.72 1)" fill="#b80f0f" stroke="#b80f0f" stroke-width="0.34" font-size="9.2" text-anchor="middle" >GGAJ02</text>
<text transform="translate(1018.4 706.8) rotate(0) scale(0.74 1)" fill="#b80f0f" stroke="#b80f0f" stroke-width="0.34" font-size="9.4" text-anchor="middle" >14</text>
<text transform="translate(1032.1 706.8) scale(0.29 1)" fill="#e01018" font-size="9.8" font-weight="bold" text-anchor="middle" stroke="#e01018" stroke-width="0.55">@</text>
<text transform="translate(1035.0 706.8) scale(0.40 1)" fill="#e01018" font-size="9.8" font-weight="bold" text-anchor="middle" stroke="#e01018" stroke-width="0.55">&amp;</text>
<text transform="translate(1038.0 706.8) scale(0.40 1)" fill="#e01018" font-size="9.8" font-weight="bold" text-anchor="middle" stroke="#e01018" stroke-width="0.55">H</text>
<text transform="translate(1040.9 706.8) scale(0.51 1)" fill="#e01018" font-size="9.8" font-weight="bold" text-anchor="middle" stroke="#e01018" stroke-width="0.55">$</text>
<text transform="translate(1043.9 706.8) scale(0.40 1)" fill="#e01018" font-size="9.8" font-weight="bold" text-anchor="middle" stroke="#e01018" stroke-width="0.55">K</text>
<text transform="translate(1046.8 706.8) scale(0.51 1)" fill="#e01018" font-size="9.8" font-weight="bold" text-anchor="middle" stroke="#e01018" stroke-width="0.55">$</text>
<text transform="translate(1049.7 706.8) scale(0.34 1)" fill="#e01018" font-size="9.8" font-weight="bold" text-anchor="middle" stroke="#e01018" stroke-width="0.55">M</text>
<text transform="translate(1052.7 706.8) scale(0.29 1)" fill="#e01018" font-size="9.8" font-weight="bold" text-anchor="middle" stroke="#e01018" stroke-width="0.55">@</text>
<text transform="translate(1055.6 706.8) scale(0.40 1)" fill="#e01018" font-size="9.8" font-weight="bold" text-anchor="middle" stroke="#e01018" stroke-width="0.55">N</text>
<text transform="translate(1058.6 706.8) scale(0.43 1)" fill="#e01018" font-size="9.8" font-weight="bold" text-anchor="middle" stroke="#e01018" stroke-width="0.55">E</text>
<text transform="translate(1146.7 706.8) rotate(0) scale(0.72 1)" fill="#b80f0f" stroke="#b80f0f" stroke-width="0.34" font-size="9.2" text-anchor="middle" >1.0/72</text>
<text transform="translate(1194.3 706.8) rotate(0) scale(0.78 1)" fill="#b80f0f" stroke="#b80f0f" stroke-width="0.34" font-size="9.4" text-anchor="middle" >A/KV</text>
<text transform="translate(1018.4 720.4) rotate(0) scale(0.74 1)" fill="#b80f0f" stroke="#b80f0f" stroke-width="0.34" font-size="9.4" text-anchor="middle" >15</text>
<text transform="translate(1032.2 720.4) scale(0.44 1)" fill="#e01018" font-size="9.8" font-weight="bold" text-anchor="middle" stroke="#e01018" stroke-width="0.55">R</text>
<text transform="translate(1035.5 720.4) scale(0.33 1)" fill="#e01018" font-size="9.8" font-weight="bold" text-anchor="middle" stroke="#e01018" stroke-width="0.55">@</text>
<text transform="translate(1038.8 720.4) scale(0.44 1)" fill="#e01018" font-size="9.8" font-weight="bold" text-anchor="middle" stroke="#e01018" stroke-width="0.55">R</text>
<text transform="translate(1042.1 720.4) scale(0.44 1)" fill="#e01018" font-size="9.8" font-weight="bold" text-anchor="middle" stroke="#e01018" stroke-width="0.55">K</text>
<text transform="translate(1045.4 720.4) scale(0.44 1)" fill="#e01018" font-size="9.8" font-weight="bold" text-anchor="middle" stroke="#e01018" stroke-width="0.55">B</text>
<text transform="translate(1048.7 720.4) scale(0.44 1)" fill="#e01018" font-size="9.8" font-weight="bold" text-anchor="middle" stroke="#e01018" stroke-width="0.55">H</text>
<text transform="translate(1052.0 720.4) scale(0.57 1)" fill="#e01018" font-size="9.8" font-weight="bold" text-anchor="middle" stroke="#e01018" stroke-width="0.55">$</text>
<text transform="translate(1055.3 720.4) scale(0.44 1)" fill="#e01018" font-size="9.8" font-weight="bold" text-anchor="middle" stroke="#e01018" stroke-width="0.55">R</text>
<text transform="translate(1146.7 720.4) rotate(0) scale(0.72 1)" fill="#b80f0f" stroke="#b80f0f" stroke-width="0.34" font-size="9.2" text-anchor="middle" >6</text>
<text transform="translate(1194.3 720.4) scale(0.36 1)" fill="#e01018" font-size="9.5" font-weight="bold" text-anchor="middle" stroke="#e01018" stroke-width="0.55">@</text>
<line x1="991.5" y1="813.3" x2="991.5" y2="898.7" stroke="#222" stroke-width="1.2" />
<line x1="991.2" y1="813.5" x2="1264.4" y2="813.5" stroke="#222" stroke-width="1.2" />
<line x1="991.2" y1="828.5" x2="1264.4" y2="828.5" stroke="#222" stroke-width="1.2" />
<line x1="1002.5" y1="813.3" x2="1002.5" y2="828.0" stroke="#222" stroke-width="1.1" />
<line x1="1045.5" y1="813.3" x2="1045.5" y2="828.0" stroke="#222" stroke-width="1.1" />
<line x1="1122.5" y1="813.3" x2="1122.5" y2="828.0" stroke="#222" stroke-width="1.1" />
<line x1="1153.5" y1="813.3" x2="1153.5" y2="828.0" stroke="#222" stroke-width="1.1" />
<line x1="1195.5" y1="813.3" x2="1195.5" y2="828.0" stroke="#222" stroke-width="1.1" />
<line x1="1235.5" y1="813.3" x2="1235.5" y2="828.0" stroke="#222" stroke-width="1.1" />
<line x1="1195.7" y1="820.5" x2="1235.9" y2="820.5" stroke="#222" stroke-width="1" />
<line x1="1215.5" y1="813.3" x2="1215.5" y2="820.6" stroke="#222" stroke-width="1" />
<line x1="991.2" y1="835.5" x2="1082.5" y2="835.5" stroke="#222" stroke-width="1.1" />
<line x1="991.2" y1="842.5" x2="1082.5" y2="842.5" stroke="#222" stroke-width="1.1" />
<line x1="991.2" y1="849.5" x2="1082.5" y2="849.5" stroke="#222" stroke-width="1.1" />
<line x1="991.2" y1="855.5" x2="1082.5" y2="855.5" stroke="#222" stroke-width="1.1" />
<line x1="991.2" y1="864.5" x2="1082.5" y2="864.5" stroke="#222" stroke-width="1.1" />
<line x1="991.2" y1="874.5" x2="1082.5" y2="874.5" stroke="#222" stroke-width="1.1" />
<line x1="991.2" y1="882.5" x2="1082.5" y2="882.5" stroke="#222" stroke-width="1.1" />
<line x1="991.2" y1="890.5" x2="1082.5" y2="890.5" stroke="#222" stroke-width="1.1" />
<line x1="1002.5" y1="828.0" x2="1002.5" y2="855.8" stroke="#222" stroke-width="1.1" />
<line x1="1013.5" y1="828.0" x2="1013.5" y2="855.8" stroke="#222" stroke-width="1.1" />
<line x1="1045.5" y1="828.0" x2="1045.5" y2="855.8" stroke="#222" stroke-width="1.1" />
<line x1="1069.5" y1="828.0" x2="1069.5" y2="855.8" stroke="#222" stroke-width="1.1" />
<line x1="1082.5" y1="828.0" x2="1082.5" y2="898.7" stroke="#222" stroke-width="1.1" />
<line x1="1013.5" y1="855.8" x2="1013.5" y2="898.7" stroke="#222" stroke-width="1.1" />
<line x1="1036.5" y1="855.8" x2="1036.5" y2="898.7" stroke="#222" stroke-width="1.1" />
<line x1="1059.5" y1="855.8" x2="1059.5" y2="890.9" stroke="#222" stroke-width="1.1" />
<line x1="1173.5" y1="828.0" x2="1173.5" y2="898.7" stroke="#222" stroke-width="1.1" />
<line x1="1082.5" y1="869.5" x2="1173.4" y2="869.5" stroke="#222" stroke-width="1.1" />
<line x1="1082.5" y1="877.5" x2="1173.4" y2="877.5" stroke="#222" stroke-width="1.1" />
<line x1="1082.5" y1="892.5" x2="1173.4" y2="892.5" stroke="#222" stroke-width="1.1" />
<line x1="1135.5" y1="869.7" x2="1135.5" y2="892.0" stroke="#222" stroke-width="1" />
<line x1="1157.5" y1="869.7" x2="1157.5" y2="892.0" stroke="#222" stroke-width="1" />
<line x1="1094.5" y1="877.5" x2="1094.5" y2="892.0" stroke="#222" stroke-width="1" />
<line x1="1108.5" y1="877.5" x2="1108.5" y2="892.0" stroke="#222" stroke-width="1" />
<line x1="1122.5" y1="877.5" x2="1122.5" y2="892.0" stroke="#222" stroke-width="1" />
<line x1="1127.5" y1="892.0" x2="1127.5" y2="898.7" stroke="#222" stroke-width="1" />
<line x1="1173.4" y1="848.5" x2="1264.4" y2="848.5" stroke="#222" stroke-width="1.1" />
<line x1="1173.4" y1="874.5" x2="1264.4" y2="874.5" stroke="#222" stroke-width="1.1" />
<text transform="translate(1219.5 894.8) rotate(0) scale(0.5 1)" fill="#222" stroke="#222" stroke-width="0.1" font-size="17" text-anchor="middle" >CO1000</text>
<text transform="translate(995.8 824.0) scale(0.81 1)" fill="#222" font-size="6.5" font-weight="bold" text-anchor="middle" stroke="#222" stroke-width="0.55">R</text>
<text transform="translate(1012.6 824.0) scale(0.65 1)" fill="#222" font-size="6.5" font-weight="bold" text-anchor="middle" stroke="#222" stroke-width="0.55">K</text>
<text transform="translate(1031.6 824.0) scale(0.65 1)" fill="#222" font-size="6.5" font-weight="bold" text-anchor="middle" stroke="#222" stroke-width="0.55">N</text>
<text transform="translate(1066.6 824.0) scale(0.65 1)" fill="#222" font-size="6.5" font-weight="bold" text-anchor="middle" stroke="#222" stroke-width="0.55">B</text>
<text transform="translate(1100.6 824.0) scale(0.84 1)" fill="#222" font-size="6.5" font-weight="bold" text-anchor="middle" stroke="#222" stroke-width="0.55">#</text>
<text transform="translate(1130.6 824.0) scale(0.84 1)" fill="#222" font-size="6.5" font-weight="bold" text-anchor="middle" stroke="#222" stroke-width="0.55">#</text>
<text transform="translate(1144.6 824.0) scale(0.65 1)" fill="#222" font-size="6.5" font-weight="bold" text-anchor="middle" stroke="#222" stroke-width="0.55">&amp;</text>
<text transform="translate(1163.6 824.0) scale(0.84 1)" fill="#222" font-size="6.5" font-weight="bold" text-anchor="middle" stroke="#222" stroke-width="0.55">$</text>
<text transform="translate(1182.6 824.0) scale(0.65 1)" fill="#222" font-size="6.5" font-weight="bold" text-anchor="middle" stroke="#222" stroke-width="0.55">&amp;</text>
<text transform="translate(1200.0 819.6) scale(0.88 1)" fill="#222" font-size="6.5" font-weight="bold" text-anchor="middle" stroke="#222" stroke-width="0.55">E</text>
<text transform="translate(1204.0 819.6) scale(0.88 1)" fill="#222" font-size="6.5" font-weight="bold" text-anchor="middle" stroke="#222" stroke-width="0.55">E</text>
<text transform="translate(1219.5 819.6) scale(0.81 1)" fill="#222" font-size="6.5" font-weight="bold" text-anchor="middle" stroke="#222" stroke-width="0.55">&amp;</text>
<text transform="translate(1223.5 819.6) scale(0.81 1)" fill="#222" font-size="6.5" font-weight="bold" text-anchor="middle" stroke="#222" stroke-width="0.55">B</text>
<text transform="translate(1206.6 827.0) scale(0.65 1)" fill="#222" font-size="6.5" font-weight="bold" text-anchor="middle" stroke="#222" stroke-width="0.55">&amp;</text>
<text transform="translate(1218.6 827.0) scale(0.65 1)" fill="#222" font-size="6.5" font-weight="bold" text-anchor="middle" stroke="#222" stroke-width="0.55">&amp;</text>
<text transform="translate(1240.6 824.0) scale(0.65 1)" fill="#222" font-size="6.5" font-weight="bold" text-anchor="middle" stroke="#222" stroke-width="0.55">N</text>
<text transform="translate(1252.6 824.0) scale(0.84 1)" fill="#222" font-size="6.5" font-weight="bold" text-anchor="middle" stroke="#222" stroke-width="0.55">#</text>
<text transform="translate(993.9 855.3) scale(0.76 1)" fill="#222" font-size="6.5" font-weight="bold" text-anchor="middle" stroke="#222" stroke-width="0.55">N</text>
<text transform="translate(997.6 855.3) scale(0.76 1)" fill="#222" font-size="6.5" font-weight="bold" text-anchor="middle" stroke="#222" stroke-width="0.55">H</text>
<text transform="translate(1005.1 855.3) scale(0.66 1)" fill="#222" font-size="6.5" font-weight="bold" text-anchor="middle" stroke="#222" stroke-width="0.55">K</text>
<text transform="translate(1008.4 855.3) scale(0.66 1)" fill="#222" font-size="6.5" font-weight="bold" text-anchor="middle" stroke="#222" stroke-width="0.55">K</text>
<text transform="translate(1020.7 855.3) scale(0.61 1)" fill="#222" font-size="6.5" font-weight="bold" text-anchor="middle" stroke="#222" stroke-width="0.55">M</text>
<text transform="translate(1026.0 855.3) scale(0.76 1)" fill="#222" font-size="6.5" font-weight="bold" text-anchor="middle" stroke="#222" stroke-width="0.55">E</text>
<text transform="translate(1031.3 855.3) scale(0.70 1)" fill="#222" font-size="6.5" font-weight="bold" text-anchor="middle" stroke="#222" stroke-width="0.55">H</text>
<text transform="translate(1050.6 855.3) scale(0.84 1)" fill="#222" font-size="6.5" font-weight="bold" text-anchor="middle" stroke="#222" stroke-width="0.55">$</text>
<text transform="translate(1059.6 855.3) scale(0.53 1)" fill="#222" font-size="6.5" font-weight="bold" text-anchor="middle" stroke="#222" stroke-width="0.55">%</text>
<text transform="translate(1073.1 855.3) scale(0.57 1)" fill="#222" font-size="6.5" font-weight="bold" text-anchor="middle" stroke="#222" stroke-width="0.55">M</text>
<text transform="translate(1076.4 855.3) scale(0.57 1)" fill="#222" font-size="6.5" font-weight="bold" text-anchor="middle" stroke="#222" stroke-width="0.55">M</text>
<text transform="translate(997.1 863.5) scale(0.84 1)" fill="#222" font-size="6.5" font-weight="bold" text-anchor="middle" stroke="#222" stroke-width="0.55">#</text>
<text transform="translate(1004.6 863.5) scale(0.56 1)" fill="#222" font-size="6.5" font-weight="bold" text-anchor="middle" stroke="#222" stroke-width="0.55">M</text>
<text transform="translate(997.1 873.0) scale(0.53 1)" fill="#222" font-size="6.5" font-weight="bold" text-anchor="middle" stroke="#222" stroke-width="0.55">%</text>
<text transform="translate(1004.6 873.0) scale(0.65 1)" fill="#222" font-size="6.5" font-weight="bold" text-anchor="middle" stroke="#222" stroke-width="0.55">B</text>
<text transform="translate(997.1 881.5) scale(0.65 1)" fill="#222" font-size="6.5" font-weight="bold" text-anchor="middle" stroke="#222" stroke-width="0.55">B</text>
<text transform="translate(1004.6 881.5) scale(0.84 1)" fill="#222" font-size="6.5" font-weight="bold" text-anchor="middle" stroke="#222" stroke-width="0.55">$</text>
<text transform="translate(997.1 890.0) scale(0.65 1)" fill="#222" font-size="6.5" font-weight="bold" text-anchor="middle" stroke="#222" stroke-width="0.55">B</text>
<text transform="translate(1004.6 890.0) scale(0.65 1)" fill="#222" font-size="6.5" font-weight="bold" text-anchor="middle" stroke="#222" stroke-width="0.55">K</text>
<text transform="translate(1041.5 863.5) scale(0.61 1)" fill="#222" font-size="6.5" font-weight="bold" text-anchor="middle" stroke="#222" stroke-width="0.55">N</text>
<text transform="translate(1044.5 863.5) scale(0.61 1)" fill="#222" font-size="6.5" font-weight="bold" text-anchor="middle" stroke="#222" stroke-width="0.55">B</text>
<text transform="translate(1047.5 863.5) scale(0.61 1)" fill="#222" font-size="6.5" font-weight="bold" text-anchor="middle" stroke="#222" stroke-width="0.55">K</text>
<text transform="translate(1041.6 873.0) scale(0.65 1)" fill="#222" font-size="6.5" font-weight="bold" text-anchor="middle" stroke="#222" stroke-width="0.55">N</text>
<text transform="translate(1048.6 873.0) scale(0.48 1)" fill="#222" font-size="6.5" font-weight="bold" text-anchor="middle" stroke="#222" stroke-width="0.55">@</text>
<text transform="translate(993.8 898.0) scale(0.57 1)" fill="#222" font-size="6.5" font-weight="bold" text-anchor="middle" stroke="#222" stroke-width="0.55">E</text>
<text transform="translate(996.4 898.0) scale(0.43 1)" fill="#222" font-size="6.5" font-weight="bold" text-anchor="middle" stroke="#222" stroke-width="0.55">%</text>
<text transform="translate(999.0 898.0) scale(0.53 1)" fill="#222" font-size="6.5" font-weight="bold" text-anchor="middle" stroke="#222" stroke-width="0.55">H</text>
<text transform="translate(1001.6 898.0) scale(0.68 1)" fill="#222" font-size="6.5" font-weight="bold" text-anchor="middle" stroke="#222" stroke-width="0.55">$</text>
<text transform="translate(1004.2 898.0) scale(0.53 1)" fill="#222" font-size="6.5" font-weight="bold" text-anchor="middle" stroke="#222" stroke-width="0.55">&amp;</text>
<text transform="translate(1041.6 898.0) scale(0.65 1)" fill="#222" font-size="6.5" font-weight="bold" text-anchor="middle" stroke="#222" stroke-width="0.55">N</text>
<text transform="translate(1048.6 898.0) scale(0.84 1)" fill="#222" font-size="6.5" font-weight="bold" text-anchor="middle" stroke="#222" stroke-width="0.55">$</text>
<text transform="translate(1106.5 876.5) scale(1.31 1)" fill="#222" font-size="6.5" font-weight="bold" text-anchor="middle" stroke="#222" stroke-width="0.55">#</text>
<text transform="translate(1111.5 876.5) scale(1.31 1)" fill="#222" font-size="6.5" font-weight="bold" text-anchor="middle" stroke="#222" stroke-width="0.55">#</text>
<text transform="translate(1116.5 876.5) scale(0.75 1)" fill="#222" font-size="6.5" font-weight="bold" text-anchor="middle" stroke="#222" stroke-width="0.55">@</text>
<text transform="translate(1121.5 876.5) scale(1.01 1)" fill="#222" font-size="6.5" font-weight="bold" text-anchor="middle" stroke="#222" stroke-width="0.55">K</text>
<text transform="translate(1145.0 876.5) scale(1.05 1)" fill="#222" font-size="6.5" font-weight="bold" text-anchor="middle" stroke="#222" stroke-width="0.55">$</text>
<text transform="translate(1149.0 876.5) scale(1.05 1)" fill="#222" font-size="6.5" font-weight="bold" text-anchor="middle" stroke="#222" stroke-width="0.55">$</text>
<text transform="translate(1163.0 876.5) scale(0.81 1)" fill="#222" font-size="6.5" font-weight="bold" text-anchor="middle" stroke="#222" stroke-width="0.55">N</text>
<text transform="translate(1167.0 876.5) scale(0.60 1)" fill="#222" font-size="6.5" font-weight="bold" text-anchor="middle" stroke="#222" stroke-width="0.55">@</text>
<text transform="translate(1162.3 889.0) scale(0.54 1)" fill="#222" font-size="6.5" font-weight="bold" text-anchor="middle" stroke="#222" stroke-width="0.55">R</text>
<text transform="translate(1165.0 889.0) scale(0.54 1)" fill="#222" font-size="6.5" font-weight="bold" text-anchor="middle" stroke="#222" stroke-width="0.55">B</text>
<text transform="translate(1167.7 889.0) scale(0.54 1)" fill="#222" font-size="6.5" font-weight="bold" text-anchor="middle" stroke="#222" stroke-width="0.55">&amp;</text>
<text transform="translate(1091.6 898.0) scale(0.53 1)" fill="#222" font-size="6.5" font-weight="bold" text-anchor="middle" stroke="#222" stroke-width="0.55">%</text>
<text transform="translate(1118.6 898.0) scale(0.84 1)" fill="#222" font-size="6.5" font-weight="bold" text-anchor="middle" stroke="#222" stroke-width="0.55">$</text>
<text transform="translate(1134.6 898.0) scale(0.48 1)" fill="#222" font-size="6.5" font-weight="bold" text-anchor="middle" stroke="#222" stroke-width="0.55">@</text>
<text transform="translate(1161.6 898.0) scale(0.84 1)" fill="#222" font-size="6.5" font-weight="bold" text-anchor="middle" stroke="#222" stroke-width="0.55">$</text>
<text transform="translate(1214.8 865.8) scale(0.52 1)" fill="#222" font-size="6.5" font-weight="bold" text-anchor="middle" stroke="#222" stroke-width="0.55">@</text>
<text transform="translate(1218.2 865.8) scale(0.71 1)" fill="#222" font-size="6.5" font-weight="bold" text-anchor="middle" stroke="#222" stroke-width="0.55">&amp;</text>
</svg></body></html>
